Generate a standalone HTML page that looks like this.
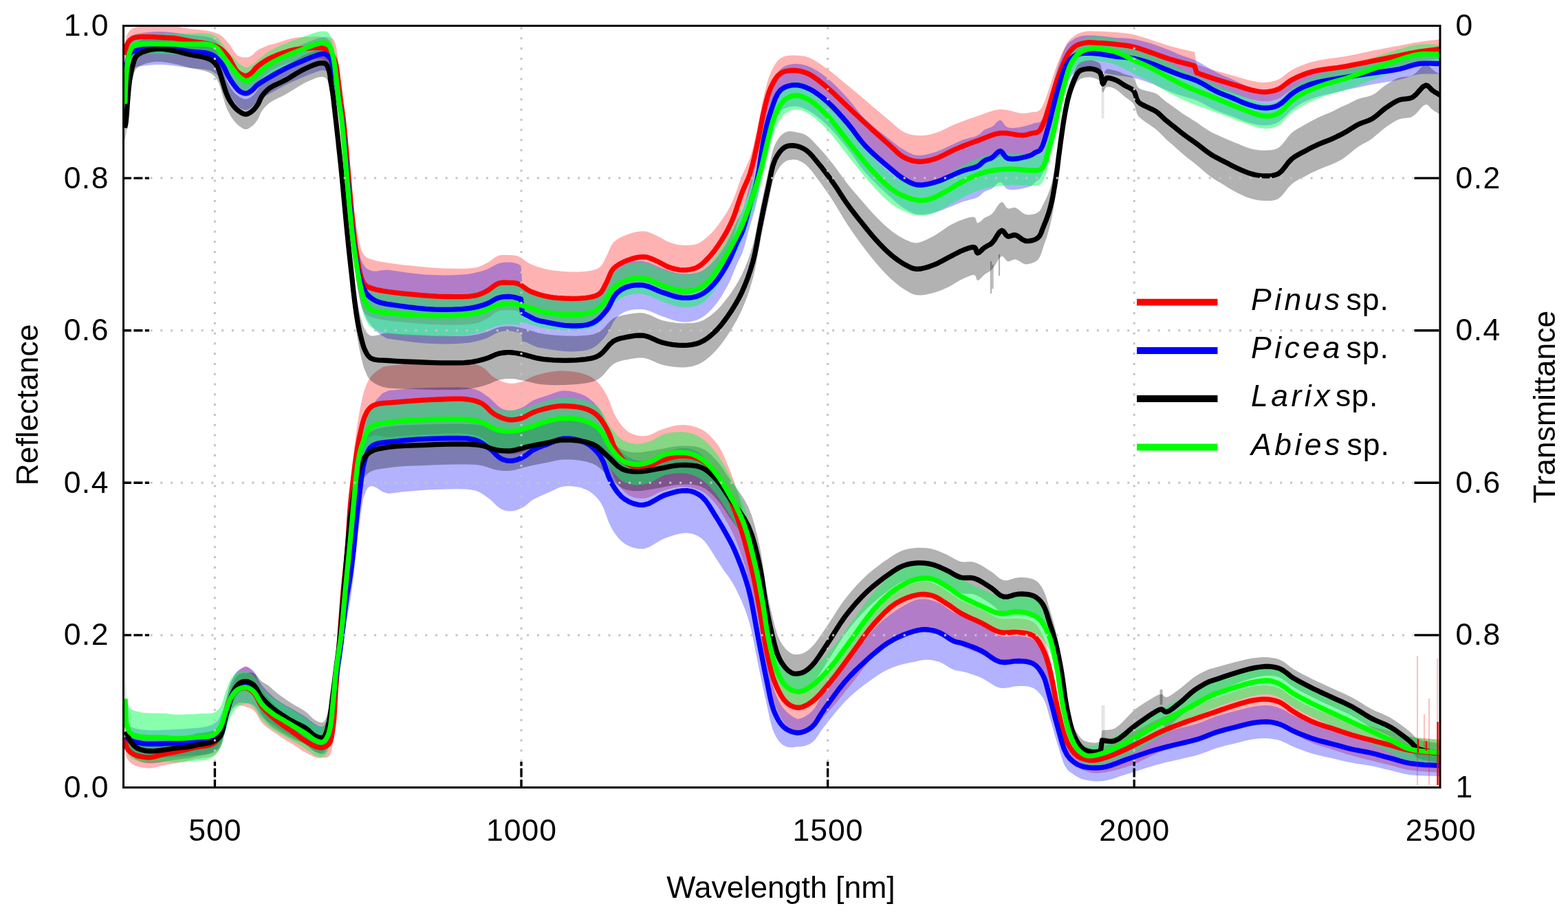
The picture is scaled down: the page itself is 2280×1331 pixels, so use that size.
<!DOCTYPE html><html><head><meta charset="utf-8"><title>Spectra</title><style>html,body{margin:0;padding:0;background:#fff;width:2280px;height:1331px;overflow:hidden}svg{display:block}</style></head><body><svg width="2280" height="1331" viewBox="0 0 2280 1331"><rect x="0" y="0" width="2280" height="1331" fill="#fff"/><defs><clipPath id="pc"><rect x="179.5" y="37.5" width="1914.5" height="1108.0"/></clipPath></defs><g clip-path="url(#pc)"><polygon points="181.5,65.9 182.2,62.2 182.8,58.4 183.5,54.7 184.5,51.5 185.3,49.5 186.2,47.7 187.3,46.1 188.5,44.7 189.9,43.3 191.4,42.2 193.2,41.2 195.3,40.3 199.5,39.3 204.5,38.7 210.0,38.4 215.5,38.2 222.3,38.0 229.5,38.1 236.5,38.3 242.6,38.4 245.7,38.4 248.4,38.4 251.0,38.4 254.0,38.5 259.0,39.1 264.6,40.0 270.3,41.0 276.0,41.9 281.7,42.5 287.4,43.1 293.0,43.6 298.0,44.3 301.3,44.8 304.3,45.3 307.1,45.9 310.0,46.7 313.0,47.7 315.9,48.8 318.8,50.1 321.5,51.8 324.6,54.4 327.5,57.5 330.3,60.7 332.7,63.3 334.3,65.4 335.7,67.6 337.0,69.7 338.4,71.8 339.8,73.8 341.1,75.9 342.5,77.8 344.0,79.4 345.3,80.4 346.7,81.3 348.1,81.9 349.7,82.5 351.5,83.0 353.5,83.5 355.5,83.6 357.5,83.5 359.8,83.4 362.2,82.7 364.5,81.6 366.5,80.4 368.0,79.2 369.3,77.7 370.6,76.2 372.2,74.8 375.0,72.9 378.2,71.1 381.6,69.4 385.0,67.9 388.1,66.7 391.1,65.6 394.3,64.7 398.0,63.9 404.3,61.9 411.4,59.4 418.8,57.2 426.0,55.4 432.2,54.5 438.4,53.9 444.4,53.6 450.0,53.4 454.3,53.2 458.4,53.0 462.3,53.1 465.8,53.4 468.1,53.8 470.2,54.3 472.2,53.8 474.0,53.5 475.7,53.5 477.2,53.8 478.6,54.2 480.0,54.7 481.2,55.0 482.4,55.4 483.5,56.0 484.5,56.8 485.7,58.5 486.7,60.7 487.6,63.4 488.5,66.3 489.6,71.1 490.4,76.8 491.2,82.9 492.0,89.0 492.8,95.4 493.6,102.1 494.4,108.7 495.3,115.0 496.1,120.3 497.0,125.4 497.9,130.4 498.7,135.4 499.3,139.8 499.8,143.8 500.3,148.6 501.0,154.8 503.6,182.7 507.0,221.7 510.5,261.6 513.5,291.9 514.6,301.2 515.5,308.9 516.4,315.8 517.5,322.9 518.6,330.4 519.9,338.0 521.1,345.3 522.5,351.8 523.5,356.0 524.5,360.0 525.7,363.6 527.0,366.7 528.1,368.7 529.2,370.4 530.5,372.0 532.0,373.5 533.5,374.6 535.2,375.5 537.1,376.2 539.2,377.0 542.7,378.1 546.6,379.2 551.1,380.2 556.0,381.1 565.1,382.6 575.7,384.0 587.0,385.4 598.3,386.6 610.8,387.8 623.6,389.0 636.5,389.9 649.0,390.4 660.3,390.7 671.6,390.8 682.2,390.4 691.3,389.2 696.1,388.0 700.3,386.4 704.2,384.6 708.2,382.6 712.4,379.9 716.6,376.8 720.7,373.8 725.0,371.8 729.2,370.9 733.6,370.7 737.9,370.9 742.0,371.1 745.1,371.3 748.0,371.5 750.8,372.0 753.8,372.9 757.8,375.0 761.8,377.8 766.0,380.9 770.3,383.4 775.0,385.5 779.9,387.4 784.9,389.0 790.0,390.4 795.0,391.7 799.9,392.7 805.1,393.5 810.8,394.1 820.3,394.9 831.2,395.4 842.0,395.4 851.4,394.7 857.2,393.9 862.6,392.9 867.5,391.4 871.7,389.0 874.9,385.7 877.4,381.7 879.5,377.3 881.8,372.8 884.2,367.8 886.4,362.4 888.8,357.2 892.0,352.7 896.3,348.9 901.3,345.8 906.8,343.2 912.3,340.9 918.2,339.0 924.6,337.4 930.8,336.5 936.6,336.3 940.9,337.0 944.8,338.3 948.7,340.0 952.8,341.8 957.7,344.2 962.8,347.1 967.9,349.9 973.1,352.3 978.1,354.0 983.2,355.4 988.3,356.3 993.4,356.8 998.5,356.7 1003.7,356.6 1008.8,356.0 1013.7,354.7 1019.1,352.1 1024.3,348.3 1029.2,344.0 1034.0,339.4 1038.9,334.1 1043.5,328.3 1047.9,322.3 1052.0,316.3 1055.6,310.7 1058.8,305.2 1061.9,299.4 1065.0,293.1 1068.7,284.2 1072.1,274.3 1075.6,264.3 1079.0,255.1 1082.0,248.4 1084.9,242.4 1087.9,236.2 1090.6,229.2 1094.0,218.0 1097.1,205.4 1100.0,192.5 1102.7,179.8 1104.8,169.3 1106.7,159.0 1108.6,149.1 1110.8,139.3 1113.0,130.2 1115.3,121.2 1117.9,112.6 1121.0,104.8 1124.0,98.8 1127.3,93.1 1130.9,88.2 1135.2,84.5 1139.8,82.3 1144.9,81.1 1150.3,80.5 1155.5,80.5 1160.5,80.8 1165.6,81.2 1170.6,82.1 1175.7,83.6 1182.2,86.5 1188.8,90.4 1195.4,94.9 1202.1,99.7 1209.7,105.3 1217.3,111.6 1224.9,118.0 1232.5,124.3 1240.1,130.5 1247.7,136.7 1255.4,143.2 1263.0,149.8 1270.7,156.4 1278.6,163.0 1286.2,169.5 1293.4,175.4 1298.7,180.0 1303.6,184.5 1308.5,188.5 1313.7,191.7 1318.6,193.9 1323.6,195.5 1328.7,196.6 1334.0,197.0 1339.8,197.2 1345.9,196.7 1352.0,195.7 1358.3,194.1 1366.0,191.4 1373.8,187.8 1381.8,183.8 1389.8,180.2 1397.7,177.2 1405.7,174.3 1413.7,171.5 1421.8,168.8 1429.9,165.8 1438.1,162.7 1446.3,160.2 1454.5,159.0 1463.0,159.8 1471.8,161.8 1480.1,163.9 1487.2,165.0 1490.9,164.8 1494.1,164.4 1497.1,163.7 1500.0,163.2 1502.7,162.9 1505.3,162.8 1507.8,162.4 1510.0,161.5 1512.1,160.0 1513.8,157.7 1515.4,155.0 1517.0,152.0 1519.2,147.1 1521.3,141.3 1523.4,135.2 1525.5,128.9 1527.8,121.9 1530.1,114.6 1532.5,107.2 1535.0,100.0 1537.8,92.6 1540.8,85.1 1543.8,78.0 1546.8,71.8 1548.8,67.9 1550.7,64.3 1552.7,61.2 1555.0,58.4 1557.2,56.2 1559.6,54.3 1562.2,52.2 1565.0,50.2 1568.4,48.5 1572.2,47.2 1576.1,46.2 1580.0,45.6 1583.8,45.2 1587.6,45.2 1591.6,45.4 1595.8,45.6 1601.9,45.8 1608.5,46.0 1615.4,46.4 1622.1,46.9 1628.7,47.5 1635.3,48.2 1641.9,49.1 1648.4,50.3 1655.0,52.0 1661.6,54.0 1668.1,56.1 1674.7,58.2 1681.2,60.4 1687.6,62.6 1694.2,64.8 1701.1,66.9 1709.7,69.2 1718.7,71.4 1727.9,73.6 1737.0,75.8 1740.0,93.8 1746.7,96.0 1753.4,98.2 1760.1,100.4 1766.8,102.5 1773.4,104.5 1780.0,106.3 1786.6,108.2 1793.2,110.0 1800.0,112.0 1806.9,114.1 1813.6,116.0 1820.0,117.5 1824.9,118.6 1829.7,119.4 1834.3,119.9 1839.0,120.0 1843.9,119.6 1848.9,118.8 1853.8,117.5 1858.6,115.7 1863.5,112.9 1868.1,109.3 1872.9,105.4 1878.1,102.0 1884.7,98.6 1891.8,95.5 1899.3,92.7 1907.4,90.1 1918.8,87.6 1931.4,85.6 1944.2,83.8 1956.3,81.9 1966.4,79.9 1976.1,77.9 1985.7,75.9 1995.3,73.8 2005.2,71.9 2015.2,70.0 2025.0,68.1 2034.4,66.4 2042.0,64.9 2049.2,63.4 2056.4,62.1 2063.7,60.9 2071.7,59.8 2079.7,58.8 2087.9,57.9 2096.0,57.0 2096.0,85.0 2087.9,86.1 2079.7,87.2 2071.7,88.3 2063.7,89.5 2056.4,90.9 2049.2,92.4 2042.0,94.0 2034.4,95.6 2025.0,97.6 2015.2,99.7 2005.2,101.8 1995.3,103.8 1985.7,105.7 1976.1,107.6 1966.4,109.5 1956.3,111.3 1944.2,113.1 1931.4,114.7 1918.8,116.5 1907.4,118.9 1899.3,121.3 1891.8,124.1 1884.7,127.1 1878.1,130.4 1872.9,133.8 1868.1,137.5 1863.5,141.1 1858.6,143.9 1853.8,145.6 1848.9,146.7 1843.9,147.4 1839.0,147.6 1834.3,147.4 1829.7,146.7 1824.9,145.6 1820.0,144.5 1813.6,142.7 1806.9,140.5 1800.0,138.2 1793.2,136.0 1786.6,133.9 1780.0,131.8 1773.4,129.7 1766.8,127.5 1760.1,125.1 1753.4,122.7 1746.7,120.2 1740.0,117.8 1737.0,115.8 1727.9,113.2 1718.7,110.6 1709.7,108.0 1701.1,105.3 1694.2,102.8 1687.6,100.3 1681.2,97.8 1674.7,95.4 1668.1,92.9 1661.6,90.5 1655.0,88.2 1648.4,86.3 1641.9,84.8 1635.3,83.6 1628.7,82.6 1622.1,81.7 1615.4,80.9 1608.5,80.2 1601.9,79.6 1595.8,79.2 1591.6,78.8 1587.6,78.5 1583.8,78.3 1580.0,78.4 1576.1,79.0 1572.2,79.8 1568.4,80.9 1565.0,82.4 1562.2,84.3 1559.6,86.6 1557.2,89.8 1555.0,93.2 1552.7,97.3 1550.7,101.5 1548.8,106.2 1546.8,111.2 1543.8,119.1 1540.8,127.9 1537.8,137.0 1535.0,146.0 1532.5,154.7 1530.1,163.4 1527.8,172.0 1525.5,180.3 1523.4,187.7 1521.3,195.0 1519.2,201.9 1517.0,208.0 1515.4,212.0 1513.8,215.6 1512.1,218.8 1510.0,221.5 1507.8,222.8 1505.3,223.6 1502.7,224.1 1500.0,224.8 1497.1,225.9 1494.1,227.0 1490.9,228.0 1487.2,228.8 1480.1,228.9 1471.8,228.2 1463.0,227.6 1454.5,228.2 1446.3,230.4 1438.1,233.4 1429.9,236.9 1421.8,240.2 1413.7,243.4 1405.7,246.6 1397.7,249.9 1389.8,253.4 1381.8,257.3 1373.8,261.7 1366.0,265.7 1358.3,268.9 1352.0,270.7 1345.9,272.1 1339.8,272.9 1334.0,273.0 1328.7,271.9 1323.6,270.3 1318.6,268.0 1313.7,265.3 1308.5,261.5 1303.6,256.9 1298.7,251.8 1293.4,246.6 1286.2,239.8 1278.6,232.4 1270.7,224.9 1263.0,217.4 1255.4,209.9 1247.7,202.2 1240.1,194.1 1232.5,186.1 1224.9,177.9 1217.3,169.6 1209.7,161.5 1202.1,153.9 1195.4,147.6 1188.8,141.4 1182.2,135.9 1175.7,131.4 1170.6,128.7 1165.6,126.5 1160.5,125.0 1155.5,124.5 1150.3,124.5 1144.9,125.1 1139.8,126.3 1135.2,128.5 1130.9,132.2 1127.3,137.1 1124.0,142.8 1121.0,148.8 1117.9,156.6 1115.3,165.2 1113.0,174.2 1110.8,183.3 1108.6,193.1 1106.7,203.0 1104.8,213.3 1102.7,223.8 1100.0,236.5 1097.1,250.2 1094.0,263.7 1090.6,275.8 1087.9,283.6 1084.9,290.6 1082.0,297.5 1079.0,304.9 1075.6,315.1 1072.1,326.1 1068.7,336.9 1065.0,346.9 1061.9,354.1 1058.8,360.7 1055.6,367.2 1052.0,373.7 1047.9,380.9 1043.5,388.1 1038.9,395.2 1034.0,401.8 1029.2,407.8 1024.3,413.5 1019.1,418.7 1013.7,422.9 1008.8,425.6 1003.7,427.5 998.5,428.7 993.4,429.0 988.3,428.8 983.2,428.0 978.1,426.8 973.1,425.3 967.9,423.2 962.8,420.6 957.7,417.9 952.8,415.6 948.7,414.0 944.8,412.5 940.9,411.4 936.6,410.9 930.8,411.2 924.6,412.4 918.2,414.3 912.3,416.5 906.8,418.9 901.3,421.7 896.3,425.1 892.0,428.9 888.8,433.5 886.4,438.8 884.2,444.2 881.8,449.4 879.5,453.9 877.4,458.4 874.9,462.5 871.7,465.8 867.5,468.3 862.6,470.0 857.2,471.1 851.4,472.1 842.0,473.0 831.2,473.3 820.3,473.2 810.8,472.7 805.1,472.2 799.9,471.5 795.0,470.7 790.0,469.6 784.9,468.3 779.9,466.8 775.0,465.1 770.3,463.2 766.0,460.7 761.8,457.8 757.8,455.0 753.8,453.1 750.8,452.2 748.0,451.8 745.1,451.6 742.0,451.5 737.9,451.3 733.6,451.2 729.2,451.5 725.0,452.5 720.7,454.6 716.6,457.6 712.4,460.9 708.2,463.6 704.2,465.7 700.3,467.6 696.1,469.2 691.3,470.6 682.2,471.9 671.6,472.5 660.3,472.7 649.0,472.6 636.5,472.3 623.6,471.7 610.8,470.8 598.3,469.8 587.0,468.8 575.7,467.7 565.1,466.5 556.0,465.1 551.1,464.2 546.6,463.2 542.7,462.1 539.2,461.0 537.1,460.2 535.2,459.5 533.5,458.6 532.0,457.5 530.5,456.0 529.2,454.0 528.1,451.8 527.0,449.3 525.7,445.6 524.5,441.5 523.5,437.0 522.5,432.2 521.1,425.1 519.9,417.3 518.6,409.1 517.5,401.1 516.4,393.4 515.5,386.1 514.6,378.0 513.5,368.1 510.5,336.5 507.0,295.0 503.6,254.3 501.0,225.2 500.3,218.7 499.8,213.6 499.3,208.9 498.7,203.8 497.9,197.8 497.0,191.6 496.1,185.4 495.3,179.0 494.4,171.6 493.6,164.0 492.8,156.3 492.0,148.8 491.2,141.8 490.4,134.7 489.6,127.9 488.5,121.7 487.6,117.7 486.7,113.9 485.7,110.4 484.5,107.2 483.5,105.1 482.4,103.1 481.2,101.3 480.0,99.3 478.6,97.1 477.2,94.9 475.7,92.6 474.0,90.5 472.2,88.5 470.2,86.6 468.1,85.9 465.8,85.6 462.3,85.5 458.4,85.7 454.3,86.1 450.0,86.6 444.4,87.1 438.4,87.8 432.2,88.7 426.0,90.0 418.8,92.1 411.4,94.7 404.3,97.6 398.0,100.7 394.3,103.1 391.1,105.4 388.1,107.7 385.0,110.1 381.6,113.1 378.2,116.2 375.0,119.4 372.2,122.4 370.6,124.5 369.3,126.6 368.0,128.5 366.5,130.4 364.5,132.5 362.2,134.5 359.8,136.2 357.5,137.3 355.5,136.8 353.5,135.7 351.5,134.2 349.7,132.7 348.1,131.3 346.7,129.9 345.3,128.4 344.0,126.6 342.5,124.3 341.1,121.7 339.8,118.9 338.4,116.2 337.0,113.4 335.7,110.5 334.3,107.7 332.7,104.7 330.3,100.8 327.5,97.3 324.6,94.0 321.5,91.2 318.8,89.2 315.9,87.7 313.0,86.3 310.0,85.1 307.1,84.1 304.3,83.2 301.3,82.5 298.0,81.7 293.0,80.7 287.4,79.7 281.7,78.6 276.0,77.5 270.3,76.2 264.6,74.8 259.0,73.5 254.0,72.5 251.0,72.1 248.4,71.8 245.7,71.6 242.6,71.4 236.5,70.8 229.5,70.1 222.3,69.4 215.5,69.0 210.0,68.8 204.5,68.7 199.5,68.8 195.3,69.5 193.2,70.2 191.4,71.1 189.9,72.1 188.5,73.3 187.3,74.7 186.2,76.2 185.3,78.0 184.5,79.9 183.5,83.0 182.8,86.6 182.2,90.4 181.5,94.1" fill="rgba(255,0,0,0.3)"/><polygon points="182.1,1057.0 182.5,1061.0 182.8,1065.1 183.3,1069.1 184.5,1072.6 186.2,1075.4 188.4,1077.9 191.0,1080.1 193.9,1081.9 198.6,1083.7 204.1,1085.0 209.7,1085.8 214.4,1086.2 216.6,1086.2 218.5,1086.0 220.3,1085.7 222.4,1085.3 225.9,1084.4 229.7,1083.4 233.8,1082.2 238.1,1081.0 243.7,1079.8 249.7,1078.5 255.8,1077.2 261.8,1075.9 267.6,1074.4 273.4,1072.9 279.2,1071.4 285.0,1069.9 291.3,1068.8 297.8,1067.8 304.0,1066.6 309.2,1064.5 312.6,1062.1 315.4,1059.3 317.8,1056.0 320.0,1052.2 322.3,1046.1 324.0,1038.9 325.4,1031.3 327.0,1024.1 328.6,1017.4 330.1,1010.8 331.8,1003.6 334.0,997.0 336.1,992.0 338.5,987.3 341.1,982.9 344.0,979.0 347.0,975.8 350.3,972.9 353.7,970.6 357.0,969.0 360.1,969.9 363.2,972.4 366.2,975.3 369.0,978.6 372.0,983.6 374.7,989.5 377.3,995.6 380.3,1001.4 383.9,1006.7 387.8,1011.9 391.9,1017.0 396.0,1021.9 399.9,1026.3 403.9,1029.7 407.9,1032.9 411.9,1036.1 415.8,1039.2 419.7,1042.1 423.7,1045.0 427.6,1048.0 431.5,1051.1 435.3,1054.3 439.2,1057.5 443.4,1060.5 448.7,1064.1 454.5,1067.8 460.3,1070.8 465.5,1072.3 469.1,1072.2 472.5,1070.2 475.6,1067.2 478.2,1063.8 480.5,1058.8 482.0,1053.0 483.0,1046.5 484.0,1039.4 485.6,1025.9 486.6,1010.2 487.5,993.7 488.5,977.6 489.6,962.4 490.7,947.3 491.8,931.9 493.0,915.8 494.4,895.8 495.9,874.6 497.4,853.5 499.0,833.4 500.5,817.2 502.1,801.6 503.6,786.4 505.0,771.0 506.1,755.1 507.1,738.9 508.0,723.4 509.0,709.4 509.7,701.1 510.4,693.7 511.1,686.3 512.1,677.6 514.1,659.9 516.6,639.2 519.5,618.2 522.6,599.5 524.9,588.0 527.2,577.1 529.9,567.3 533.1,558.8 535.3,554.3 537.6,550.4 540.3,546.8 543.6,543.2 549.9,538.2 557.5,533.6 566.1,531.9 575.2,531.3 589.7,530.0 606.2,528.9 622.9,528.0 638.3,527.4 649.8,527.0 660.8,526.7 671.1,526.8 680.4,527.6 686.3,528.6 691.7,530.0 696.6,531.7 701.4,534.0 705.8,537.3 709.9,541.3 713.9,545.4 718.3,548.9 723.3,551.7 728.6,554.2 734.0,556.2 739.3,557.4 744.1,557.7 748.9,557.4 753.6,556.6 758.2,555.4 762.5,553.8 766.6,551.7 770.7,549.4 775.1,547.5 780.1,545.8 785.3,544.3 790.7,542.9 796.1,541.8 801.9,540.8 807.7,540.0 813.7,539.5 820.0,539.5 827.9,540.0 836.2,541.1 844.4,542.6 851.6,544.8 856.4,546.8 860.7,549.1 864.6,551.9 868.4,555.1 872.5,559.7 876.3,565.0 879.8,570.8 883.1,576.9 886.4,584.1 889.2,592.0 892.1,599.8 895.7,607.0 899.8,613.3 904.3,619.4 909.3,624.8 914.7,628.9 920.1,631.6 925.9,633.3 931.9,634.2 937.8,634.3 944.0,633.0 950.3,630.4 956.6,627.1 963.1,624.4 970.3,622.2 977.7,620.1 985.2,618.6 992.5,618.1 999.6,618.5 1006.7,619.7 1013.5,621.7 1019.9,624.4 1025.8,628.1 1031.2,632.7 1036.3,637.9 1040.9,643.3 1045.1,649.0 1048.7,655.1 1052.1,662.3 1055.6,670.3 1060.1,680.9 1064.5,692.2 1068.8,704.2 1073.0,716.9 1078.1,734.2 1083.1,753.0 1087.8,772.1 1092.1,790.7 1095.7,807.7 1098.9,824.4 1101.8,840.7 1104.7,856.8 1107.4,873.2 1109.8,889.7 1112.3,906.0 1115.2,921.4 1117.9,934.2 1120.7,946.6 1124.0,958.4 1127.8,969.3 1131.5,977.8 1135.5,986.0 1139.9,993.2 1144.7,999.0 1148.6,1002.2 1152.8,1004.8 1157.2,1006.6 1161.5,1007.3 1166.1,1006.7 1170.9,1005.0 1175.6,1002.5 1180.4,999.4 1187.2,993.7 1194.0,986.6 1200.9,978.6 1207.8,970.5 1215.7,960.8 1223.6,950.4 1231.5,939.7 1239.4,929.2 1247.2,918.6 1254.9,907.9 1262.8,897.4 1270.9,887.8 1278.5,879.7 1286.3,871.9 1294.2,864.9 1302.5,859.1 1310.3,854.9 1318.4,851.4 1326.4,848.9 1334.0,847.1 1339.5,846.4 1344.8,846.3 1350.0,846.7 1355.1,847.8 1360.5,849.8 1365.7,852.6 1370.9,855.8 1376.1,859.0 1381.5,862.5 1386.8,866.2 1392.2,869.9 1398.0,873.4 1404.9,876.8 1412.3,880.1 1419.7,883.2 1427.0,886.5 1433.8,890.1 1440.5,893.9 1447.2,897.2 1454.1,899.6 1460.8,900.3 1467.7,900.0 1474.6,899.5 1481.1,899.6 1486.9,900.3 1492.6,901.2 1498.0,902.6 1502.8,905.0 1506.9,908.6 1510.4,913.2 1513.4,918.8 1516.3,924.7 1519.5,932.2 1522.2,940.4 1524.7,949.2 1527.1,958.5 1529.9,971.4 1532.5,985.5 1535.0,999.9 1537.9,1013.8 1540.9,1027.1 1543.9,1040.5 1547.4,1053.2 1551.5,1064.2 1554.9,1071.0 1558.5,1077.1 1562.5,1082.0 1567.0,1085.5 1571.6,1087.8 1576.8,1089.3 1582.1,1090.0 1587.3,1090.2 1592.3,1089.7 1597.3,1088.4 1602.4,1086.7 1607.6,1084.8 1614.1,1082.2 1620.9,1079.1 1627.8,1075.7 1634.6,1072.2 1641.4,1068.6 1648.2,1064.7 1654.9,1061.1 1661.7,1057.6 1668.4,1054.2 1675.2,1050.7 1681.9,1047.3 1688.7,1044.1 1695.4,1041.2 1702.2,1038.5 1709.0,1035.9 1715.8,1033.3 1722.6,1030.8 1729.3,1028.4 1736.1,1026.1 1742.8,1023.8 1749.2,1021.6 1755.5,1019.5 1761.8,1017.4 1768.2,1015.2 1775.1,1012.8 1782.1,1010.4 1789.2,1008.0 1796.3,1005.8 1803.4,1003.6 1810.6,1001.5 1817.7,999.6 1824.5,998.3 1829.9,997.6 1835.2,997.1 1840.3,997.1 1845.2,997.4 1849.6,998.1 1853.8,999.0 1858.0,1000.4 1862.1,1002.1 1866.7,1004.8 1871.2,1008.2 1875.8,1011.8 1880.8,1015.2 1887.4,1019.1 1894.4,1023.1 1901.7,1026.8 1909.0,1030.2 1916.0,1032.9 1923.0,1035.2 1930.1,1037.4 1937.2,1039.6 1944.2,1042.0 1951.3,1044.4 1958.3,1046.8 1965.4,1049.0 1972.4,1051.0 1979.4,1052.9 1986.5,1054.7 1993.5,1056.5 2000.5,1058.4 2007.6,1060.3 2014.6,1062.1 2021.7,1064.0 2028.6,1066.0 2035.3,1068.0 2042.3,1069.9 2049.9,1071.5 2060.6,1073.0 2072.2,1074.1 2084.2,1075.0 2096.0,1076.0 2096.0,1124.0 2084.2,1123.2 2072.2,1122.5 2060.6,1121.6 2049.9,1120.2 2042.3,1118.7 2035.3,1117.0 2028.6,1115.1 2021.7,1113.2 2014.6,1111.4 2007.6,1109.7 2000.5,1107.9 1993.5,1106.2 1986.5,1104.4 1979.4,1102.8 1972.4,1101.0 1965.4,1099.1 1958.3,1097.0 1951.3,1094.8 1944.2,1092.5 1937.2,1090.2 1930.1,1088.1 1923.0,1086.0 1916.0,1083.8 1909.0,1081.2 1901.7,1078.0 1894.4,1074.3 1887.4,1070.5 1880.8,1066.7 1875.8,1063.3 1871.2,1059.8 1866.7,1056.5 1862.1,1053.9 1858.0,1052.2 1853.8,1051.0 1849.6,1050.0 1845.2,1049.3 1840.3,1048.9 1835.2,1048.9 1829.9,1049.2 1824.5,1049.8 1817.7,1051.0 1810.6,1052.7 1803.4,1054.7 1796.3,1056.7 1789.2,1058.8 1782.1,1061.1 1775.1,1063.3 1768.2,1065.6 1761.8,1067.6 1755.5,1069.6 1749.2,1071.6 1742.8,1073.7 1736.1,1075.8 1729.3,1078.0 1722.6,1080.3 1715.8,1082.6 1709.0,1085.0 1702.2,1087.5 1695.4,1090.1 1688.7,1092.9 1681.9,1095.9 1675.2,1099.2 1668.4,1102.5 1661.7,1105.8 1654.9,1109.2 1648.2,1112.3 1641.4,1114.6 1634.6,1116.8 1627.8,1118.8 1620.9,1120.6 1614.1,1122.2 1607.6,1123.4 1602.4,1124.1 1597.3,1124.7 1592.3,1124.8 1587.3,1124.2 1582.1,1122.9 1576.8,1121.0 1571.6,1118.4 1567.0,1115.1 1562.5,1110.5 1558.5,1106.1 1554.9,1102.5 1551.5,1098.0 1547.4,1089.8 1543.9,1079.5 1540.9,1068.1 1537.9,1056.9 1535.0,1044.9 1532.5,1032.2 1529.9,1019.8 1527.1,1008.8 1524.7,1001.2 1522.2,994.1 1519.5,987.8 1516.3,982.4 1513.4,978.4 1510.4,975.0 1506.9,970.8 1502.8,967.4 1498.0,965.2 1492.6,964.0 1486.9,963.4 1481.1,963.0 1474.6,963.2 1467.7,964.1 1460.8,964.8 1454.1,964.4 1447.2,962.3 1440.5,959.1 1433.8,955.5 1427.0,952.1 1419.7,949.0 1412.3,946.0 1404.9,943.0 1398.0,939.7 1392.2,936.3 1386.8,932.8 1381.5,929.2 1376.1,925.9 1370.9,922.8 1365.7,919.7 1360.5,917.0 1355.1,915.2 1350.0,914.2 1344.8,913.9 1339.5,914.1 1334.0,915.0 1326.4,916.7 1318.4,919.0 1310.3,922.2 1302.5,926.1 1294.2,931.6 1286.3,938.3 1278.5,945.7 1270.9,953.6 1262.8,962.9 1254.9,973.0 1247.2,983.3 1239.4,993.2 1231.5,1003.1 1223.6,1013.0 1215.7,1022.7 1207.8,1031.7 1200.9,1039.3 1194.0,1046.6 1187.2,1053.2 1180.4,1058.2 1175.6,1060.9 1170.9,1063.0 1166.1,1064.2 1161.5,1064.5 1157.2,1063.7 1152.8,1062.2 1148.6,1059.8 1144.7,1056.7 1139.9,1051.2 1135.5,1044.2 1131.5,1036.2 1127.8,1027.9 1124.0,1017.2 1120.7,1005.6 1117.9,993.3 1115.2,980.7 1112.3,965.4 1109.8,949.3 1107.4,932.8 1104.7,916.6 1101.8,900.6 1098.9,885.1 1095.7,870.3 1092.1,855.5 1087.8,839.4 1083.1,823.1 1078.1,807.4 1073.0,793.1 1068.8,782.9 1064.5,773.5 1060.1,764.9 1055.6,756.9 1052.1,751.0 1048.7,745.1 1045.1,739.0 1040.9,733.3 1036.3,727.9 1031.2,722.7 1025.8,718.1 1019.9,714.4 1013.5,711.7 1006.7,709.7 999.6,708.5 992.5,708.1 985.2,708.6 977.7,710.1 970.3,712.2 963.1,714.4 956.6,717.1 950.3,720.4 944.0,723.3 937.8,724.9 931.9,725.1 925.9,724.5 920.1,723.1 914.7,720.7 909.3,716.8 904.3,711.7 899.8,705.8 895.7,699.7 892.1,692.7 889.2,685.0 886.4,677.3 883.1,670.2 879.8,664.3 876.3,658.7 872.5,653.6 868.4,649.2 864.6,646.1 860.7,643.6 856.4,641.5 851.6,639.7 844.4,638.1 836.2,637.3 827.9,637.0 820.0,637.2 813.7,637.8 807.7,638.8 801.9,640.1 796.1,641.6 790.7,643.2 785.3,645.0 780.1,647.0 775.1,649.2 770.7,651.5 766.6,654.1 762.5,656.5 758.2,658.4 753.6,659.6 748.9,660.4 744.1,660.8 739.3,660.5 734.0,659.3 728.6,657.4 723.3,654.9 718.3,652.1 713.9,648.7 709.9,644.6 705.8,640.6 701.4,637.3 696.6,635.0 691.7,633.3 686.3,632.0 680.4,631.0 671.1,630.2 660.8,630.2 649.8,630.5 638.3,631.0 622.9,631.7 606.2,632.7 589.7,633.9 575.2,635.2 566.1,635.9 557.5,635.5 549.9,633.6 543.6,633.2 540.3,634.0 537.6,635.3 535.3,637.3 533.1,639.9 529.9,645.7 527.2,653.3 524.9,662.1 522.6,671.7 519.5,687.7 516.6,706.5 514.1,725.2 512.1,741.2 511.1,749.2 510.4,756.0 509.7,762.8 509.0,770.6 508.0,783.8 507.1,798.6 506.1,814.0 505.0,829.0 503.6,843.3 502.1,857.3 500.5,871.6 499.0,886.6 497.4,905.4 495.9,925.3 494.4,945.3 493.0,964.2 491.8,979.3 490.7,993.8 489.6,1008.0 488.5,1022.4 487.5,1037.7 486.6,1053.5 485.6,1068.3 484.0,1080.6 483.0,1086.9 482.0,1092.6 480.5,1097.2 478.2,1100.4 475.6,1101.7 472.5,1102.2 469.1,1102.3 465.5,1102.9 460.3,1102.2 454.5,1100.0 448.7,1097.1 443.4,1094.3 439.2,1091.9 435.3,1089.3 431.5,1086.6 427.6,1084.0 423.7,1081.6 419.7,1079.3 415.8,1076.9 411.9,1074.5 407.9,1071.8 403.9,1069.1 399.9,1066.3 396.0,1063.8 391.9,1060.8 387.8,1057.7 383.9,1054.4 380.3,1050.8 377.3,1046.4 374.7,1041.6 372.0,1036.9 369.0,1033.4 366.2,1031.4 363.2,1029.9 360.1,1028.9 357.0,1028.1 353.7,1026.9 350.3,1026.4 347.0,1026.4 344.0,1027.0 341.1,1028.4 338.5,1030.5 336.1,1033.3 334.0,1036.4 331.8,1041.2 330.1,1046.8 328.6,1053.4 327.0,1059.9 325.4,1067.1 324.0,1074.6 322.3,1081.8 320.0,1087.8 317.8,1091.5 315.4,1094.7 312.6,1097.4 309.2,1099.7 304.0,1101.6 297.8,1102.6 291.3,1103.2 285.0,1104.1 279.2,1105.3 273.4,1106.6 267.6,1107.9 261.8,1109.1 255.8,1110.2 249.7,1111.3 243.7,1112.3 238.1,1113.4 233.8,1114.3 229.7,1115.3 225.9,1116.3 222.4,1116.9 220.3,1117.3 218.5,1117.5 216.6,1117.7 214.4,1117.6 209.7,1117.0 204.1,1116.0 198.6,1114.5 193.9,1112.5 191.0,1110.5 188.4,1108.2 186.2,1105.6 184.5,1102.8 183.3,1099.2 182.8,1095.3 182.5,1091.1 182.1,1087.0" fill="rgba(255,0,0,0.3)"/><polygon points="182.5,86.0 183.3,79.7 184.0,73.2 184.9,67.2 186.0,62.0 186.8,59.3 187.6,56.8 188.7,54.7 190.0,53.0 191.5,51.8 193.2,51.0 195.2,50.4 197.5,49.8 202.2,48.7 208.0,47.7 214.1,47.0 220.0,46.4 225.5,46.1 231.0,46.0 236.6,46.1 242.6,46.4 250.7,47.2 259.3,48.4 268.0,49.7 276.4,50.9 284.0,51.6 291.5,52.2 298.6,52.9 304.6,54.3 307.9,55.6 310.8,57.2 313.3,59.0 315.8,61.0 318.3,63.5 320.6,66.2 322.8,69.2 324.9,72.3 327.0,76.0 328.8,80.1 330.7,84.2 332.7,88.1 334.9,91.7 337.1,95.2 339.5,98.6 341.8,101.6 343.7,103.9 345.5,106.1 347.5,108.0 349.6,109.5 351.8,110.6 354.1,111.4 356.5,111.8 358.7,111.8 360.7,111.2 362.7,110.1 364.6,108.8 366.5,107.3 368.4,105.5 370.2,103.6 372.1,101.5 374.4,99.4 378.3,96.6 382.8,93.8 387.6,90.9 392.5,88.1 397.9,85.0 403.5,81.8 409.3,78.7 415.0,75.7 420.6,73.0 426.3,70.5 431.9,68.0 437.6,65.6 443.4,63.1 449.3,60.6 455.0,58.4 460.1,56.6 463.3,55.6 466.2,54.8 469.0,54.3 471.4,54.3 473.0,54.8 474.4,55.5 475.8,56.5 477.0,57.5 478.1,58.5 479.2,59.5 480.1,60.6 481.0,61.8 481.9,63.8 482.7,66.2 483.3,68.8 484.0,71.4 484.8,74.6 485.5,78.0 486.3,81.4 487.0,85.0 487.8,88.7 488.6,92.4 489.3,96.3 490.1,100.5 491.0,106.1 491.8,112.1 492.6,118.1 493.5,124.0 494.4,129.0 495.3,133.8 496.1,138.6 496.9,143.5 497.5,147.9 498.0,152.2 498.6,156.9 499.2,163.1 501.8,191.2 505.2,230.5 508.8,270.7 511.7,301.2 512.8,310.7 513.7,318.4 514.7,325.4 515.7,332.6 516.8,340.2 518.0,347.9 519.2,355.2 520.5,361.8 521.6,366.2 522.7,370.3 523.8,374.1 525.0,377.5 525.9,379.8 526.9,381.8 527.9,383.7 529.0,385.5 530.1,387.1 531.1,388.6 532.4,390.0 534.0,391.2 536.6,392.6 539.8,393.7 543.4,394.4 547.6,394.5 554.7,393.3 563.0,392.4 572.1,393.7 581.4,395.0 593.3,396.7 606.1,398.2 619.2,399.4 632.1,400.1 645.2,400.4 658.6,400.2 671.4,399.6 682.8,398.4 689.9,397.1 696.5,395.6 702.5,393.7 708.2,391.7 712.7,389.6 716.8,387.2 720.8,384.9 725.0,383.2 729.2,382.2 733.5,381.6 737.8,381.4 742.0,381.5 745.9,382.0 749.8,382.9 753.6,384.0 757.5,386.7 759.5,413.3 764.8,417.9 770.1,421.0 775.3,423.8 780.0,426.0 782.7,427.0 785.0,427.7 787.5,428.3 790.6,429.0 799.0,431.0 809.6,433.4 820.8,435.4 831.1,436.5 839.2,436.8 847.1,436.6 854.6,435.7 861.5,433.6 867.3,430.4 872.6,426.1 877.4,421.2 881.8,416.1 885.7,410.2 888.9,403.7 892.2,397.4 896.0,392.3 899.7,389.0 903.6,386.2 907.8,384.0 912.3,382.2 917.9,380.7 924.0,379.9 930.4,379.7 936.6,380.2 943.1,381.9 949.6,384.6 956.2,387.6 963.0,390.3 970.5,392.8 978.2,395.4 986.0,397.4 993.4,398.4 999.8,398.4 1006.0,398.1 1012.0,397.1 1017.7,395.3 1023.2,392.6 1028.3,389.0 1033.2,384.8 1038.0,380.1 1043.5,373.6 1048.8,366.3 1053.8,358.4 1058.3,350.6 1062.2,343.0 1065.7,335.2 1068.9,327.5 1072.0,320.6 1074.2,316.3 1076.2,312.4 1078.1,308.5 1080.0,304.0 1082.6,296.3 1085.1,287.6 1087.5,278.5 1090.0,269.5 1092.7,260.6 1095.5,251.8 1098.2,242.6 1100.7,232.7 1103.4,218.2 1105.8,202.3 1108.2,186.4 1110.8,171.6 1113.1,160.7 1115.4,150.3 1118.0,140.4 1121.0,131.0 1123.9,122.3 1127.0,113.8 1130.7,106.1 1135.2,100.2 1139.7,97.0 1144.8,94.8 1150.2,93.4 1155.5,92.8 1160.5,92.9 1165.5,93.5 1170.6,94.8 1175.7,96.6 1182.2,99.5 1188.8,103.3 1195.5,107.8 1202.1,112.8 1209.8,119.4 1217.6,127.0 1225.2,134.9 1232.5,142.8 1239.0,150.4 1245.0,158.2 1251.2,165.9 1258.0,173.3 1266.5,181.1 1275.7,188.8 1285.0,196.1 1293.4,202.5 1298.8,206.7 1303.8,210.7 1308.6,214.4 1313.7,217.6 1318.6,220.4 1323.5,222.9 1328.6,224.9 1334.0,226.0 1340.3,225.9 1347.0,224.8 1353.7,223.1 1360.0,221.2 1365.2,219.3 1370.2,217.2 1375.1,214.9 1380.0,212.6 1385.1,210.3 1390.1,207.8 1395.2,205.5 1400.3,203.3 1405.7,201.7 1411.3,200.3 1416.7,198.9 1421.4,197.0 1424.4,195.0 1426.9,192.7 1429.3,190.5 1431.9,188.6 1434.5,187.4 1437.1,186.5 1439.8,185.6 1442.4,184.4 1445.5,181.9 1448.5,178.6 1451.6,175.8 1454.5,174.7 1457.1,176.2 1459.4,179.6 1462.0,183.2 1465.4,185.6 1472.7,186.3 1482.0,185.3 1491.1,183.3 1498.0,181.3 1500.2,180.4 1501.9,179.8 1503.4,179.2 1505.0,178.7 1507.0,178.4 1509.0,178.4 1511.0,178.0 1512.9,177.0 1516.1,172.3 1518.9,165.1 1521.5,156.8 1523.9,149.0 1526.1,141.9 1528.0,134.6 1529.8,127.4 1531.8,120.2 1533.8,113.0 1535.9,105.7 1538.0,98.5 1540.4,91.5 1543.0,84.0 1545.8,76.3 1548.9,69.3 1552.3,63.9 1554.8,61.4 1557.4,59.4 1560.1,57.9 1563.0,55.9 1565.8,54.4 1568.6,53.4 1571.7,52.6 1575.0,52.0 1579.7,51.5 1584.9,51.4 1590.3,51.6 1595.8,51.9 1602.2,52.5 1608.8,53.3 1615.5,54.1 1622.1,54.9 1628.7,55.3 1635.3,55.6 1641.9,56.1 1648.4,56.8 1655.2,58.2 1662.2,59.9 1668.8,61.7 1674.7,63.5 1678.2,64.7 1681.3,65.8 1684.4,67.0 1687.9,68.3 1693.8,70.5 1700.5,73.0 1707.4,76.0 1714.2,78.9 1720.8,81.4 1727.4,83.7 1734.0,86.1 1740.5,88.9 1747.1,92.5 1753.7,96.5 1760.2,100.6 1766.8,104.3 1773.4,107.5 1780.1,110.5 1786.8,113.3 1793.2,116.1 1798.8,118.7 1804.1,121.3 1809.5,123.7 1815.0,125.8 1820.9,127.8 1827.0,129.7 1833.1,131.1 1839.0,131.8 1844.1,131.8 1849.0,131.4 1853.8,130.4 1858.6,128.8 1864.4,125.3 1870.2,120.3 1875.9,115.1 1882.0,110.7 1888.0,107.5 1894.1,104.8 1900.5,102.5 1907.4,100.4 1916.4,98.5 1926.1,97.2 1936.2,96.1 1946.5,95.0 1958.4,93.7 1970.9,92.4 1983.3,91.2 1995.3,90.1 2005.5,89.0 2015.5,87.7 2025.1,86.4 2034.4,84.9 2042.0,83.0 2049.2,80.8 2056.3,78.8 2063.7,77.4 2071.6,76.9 2079.7,77.0 2087.9,77.4 2096.0,77.7 2096.0,107.7 2087.9,107.6 2079.7,107.4 2071.6,107.4 2063.7,108.0 2056.3,109.6 2049.2,111.8 2042.0,114.1 2034.4,116.1 2025.1,117.9 2015.5,119.4 2005.5,120.9 1995.3,122.7 1983.3,125.2 1970.9,127.9 1958.4,130.6 1946.5,133.4 1936.2,135.8 1926.1,138.1 1916.4,140.6 1907.4,143.6 1900.5,146.4 1894.1,149.5 1888.0,153.0 1882.0,156.9 1875.9,162.0 1870.2,167.9 1864.4,173.5 1858.6,177.8 1853.8,180.0 1849.0,181.5 1844.1,182.2 1839.0,182.6 1833.1,182.3 1827.0,181.2 1820.9,179.8 1815.0,178.2 1809.5,176.4 1804.1,174.3 1798.8,172.1 1793.2,169.9 1786.8,167.5 1780.1,165.1 1773.4,162.6 1766.8,159.9 1760.2,156.6 1753.7,153.0 1747.1,149.4 1740.5,146.2 1734.0,143.9 1727.4,141.9 1720.8,140.0 1714.2,137.9 1707.4,135.5 1700.5,133.0 1693.8,130.1 1687.9,127.5 1684.4,125.9 1681.3,124.5 1678.2,123.1 1674.7,121.7 1668.8,119.5 1662.2,117.2 1655.2,115.0 1648.4,113.2 1641.9,111.9 1635.3,111.0 1628.7,110.2 1622.1,109.3 1615.5,108.1 1608.8,106.7 1602.2,105.5 1595.8,104.5 1590.3,103.8 1584.9,103.2 1579.7,102.9 1575.0,103.0 1571.7,103.4 1568.6,104.0 1565.8,104.8 1563.0,106.1 1560.1,107.9 1557.4,111.2 1554.8,114.9 1552.3,119.1 1548.9,126.7 1545.8,135.8 1543.0,145.3 1540.4,154.5 1538.0,163.2 1535.9,171.8 1533.8,180.4 1531.8,189.0 1529.8,197.5 1528.0,206.0 1526.1,214.5 1523.9,223.0 1521.5,232.5 1518.9,242.5 1516.1,251.6 1512.9,258.4 1511.0,260.7 1509.0,262.4 1507.0,263.8 1505.0,265.3 1503.4,267.0 1501.9,268.6 1500.2,270.3 1498.0,271.3 1491.1,273.3 1482.0,275.3 1472.7,276.3 1465.4,275.6 1462.0,273.2 1459.4,269.6 1457.1,266.2 1454.5,264.7 1451.6,265.8 1448.5,268.6 1445.5,271.9 1442.4,274.4 1439.8,275.6 1437.1,276.5 1434.5,277.4 1431.9,278.6 1429.3,280.5 1426.9,282.7 1424.4,285.0 1421.4,287.0 1416.7,288.9 1411.3,290.3 1405.7,291.7 1400.3,293.3 1395.2,295.2 1390.1,297.2 1385.1,299.4 1380.0,301.4 1375.1,303.4 1370.2,305.4 1365.2,307.3 1360.0,308.8 1353.7,310.3 1347.0,311.6 1340.3,312.3 1334.0,312.0 1328.6,310.6 1323.5,308.3 1318.6,305.5 1313.7,302.4 1308.6,298.9 1303.8,294.9 1298.8,290.5 1293.4,285.5 1285.0,277.7 1275.7,269.0 1266.5,259.9 1258.0,250.7 1251.2,242.2 1245.0,233.5 1239.0,224.8 1232.5,216.2 1225.2,207.2 1217.6,198.0 1209.8,189.3 1202.1,181.4 1195.5,175.4 1188.8,169.9 1182.2,165.0 1175.7,161.0 1170.6,158.5 1165.5,156.4 1160.5,155.0 1155.5,154.6 1150.2,155.1 1144.8,156.3 1139.7,158.3 1135.2,161.4 1130.7,167.1 1127.0,174.7 1123.9,183.1 1121.0,191.7 1118.0,201.0 1115.4,210.8 1113.1,221.1 1110.8,232.0 1108.2,246.6 1105.8,262.5 1103.4,278.3 1100.7,292.7 1098.2,302.8 1095.5,312.3 1092.7,321.4 1090.0,330.5 1087.5,339.8 1085.1,349.1 1082.6,358.1 1080.0,366.0 1078.1,370.7 1076.2,374.8 1074.2,378.8 1072.0,383.4 1068.9,390.6 1065.7,398.6 1062.2,406.8 1058.3,414.8 1053.8,423.0 1048.8,431.4 1043.5,439.3 1038.0,446.3 1033.2,451.5 1028.3,456.2 1023.2,460.3 1017.7,463.5 1012.0,465.9 1006.0,467.5 999.8,468.4 993.4,468.4 986.0,467.4 978.2,465.4 970.5,462.8 963.0,460.3 956.2,457.6 949.6,454.6 943.1,451.9 936.6,450.2 930.4,449.7 924.0,449.9 917.9,450.7 912.3,452.2 907.8,454.0 903.6,456.2 899.7,459.0 896.0,462.5 892.2,468.0 888.9,474.5 885.7,481.2 881.8,487.3 877.4,492.8 872.6,498.1 867.3,502.7 861.5,506.4 854.6,508.9 847.1,510.4 839.2,511.1 831.1,511.5 820.8,511.1 809.6,509.8 799.0,508.2 790.6,506.8 787.5,506.3 785.0,505.9 782.7,505.4 780.0,504.6 775.3,502.7 770.1,500.3 764.8,497.6 759.5,496.7 757.5,483.3 753.6,484.0 749.8,482.9 745.9,482.0 742.0,481.5 737.8,481.4 733.5,481.6 729.2,482.2 725.0,483.2 720.8,484.9 716.8,487.2 712.7,489.6 708.2,491.7 702.5,493.7 696.5,495.6 689.9,497.1 682.8,498.4 671.4,499.6 658.6,500.2 645.2,500.4 632.1,500.1 619.2,499.4 606.1,498.2 593.3,496.7 581.4,495.0 572.1,493.7 563.0,492.4 554.7,488.0 547.6,482.1 543.4,477.8 539.8,473.5 536.6,469.2 534.0,465.2 532.4,462.4 531.1,459.8 530.1,457.2 529.0,454.5 527.9,451.6 526.9,448.7 525.9,445.7 525.0,442.5 523.8,437.9 522.7,433.0 521.6,427.7 520.5,422.2 519.2,415.0 518.0,407.3 516.8,399.3 515.7,391.4 514.7,383.8 513.7,376.5 512.8,368.5 511.7,358.8 508.8,327.3 505.2,286.1 501.8,245.7 499.2,216.9 498.6,210.5 498.0,205.6 497.5,201.2 496.9,196.5 496.1,191.5 495.3,186.4 494.4,181.3 493.5,176.0 492.6,169.9 491.8,163.6 491.0,157.4 490.1,151.5 489.3,147.1 488.6,143.0 487.8,139.0 487.0,135.1 486.3,131.3 485.5,127.6 484.8,124.0 484.0,120.6 483.3,117.8 482.7,115.0 481.9,112.4 481.0,110.2 480.1,108.7 479.2,107.5 478.1,106.5 477.0,105.5 475.8,104.5 474.4,103.5 473.0,102.8 471.4,102.3 469.0,102.3 466.2,102.8 463.3,103.6 460.1,104.6 455.0,106.4 449.3,108.6 443.4,111.1 437.6,113.6 431.9,116.0 426.3,118.5 420.6,121.0 415.0,123.7 409.3,126.7 403.5,129.8 397.9,133.0 392.5,136.1 387.6,138.9 382.8,141.8 378.3,144.6 374.4,147.4 372.1,149.5 370.2,151.6 368.4,153.5 366.5,155.3 364.6,156.8 362.7,158.1 360.7,159.2 358.7,159.8 356.5,159.8 354.1,159.4 351.8,158.6 349.6,157.5 347.5,156.0 345.5,154.1 343.7,151.9 341.8,149.6 339.5,146.6 337.1,143.2 334.9,139.7 332.7,136.1 330.7,132.2 328.8,128.1 327.0,124.0 324.9,120.3 322.8,117.2 320.6,114.2 318.3,111.5 315.8,109.0 313.3,107.0 310.8,105.2 307.9,103.6 304.6,102.3 298.6,100.9 291.5,100.2 284.0,99.6 276.4,98.9 268.0,97.7 259.3,96.4 250.7,95.2 242.6,94.4 236.6,94.1 231.0,94.0 225.5,94.1 220.0,94.4 214.1,95.0 208.0,95.7 202.2,96.7 197.5,97.8 195.2,98.4 193.2,99.0 191.5,99.8 190.0,101.0 188.7,102.7 187.6,104.8 186.8,107.3 186.0,110.0 184.9,115.2 184.0,121.2 183.3,127.7 182.5,134.0" fill="rgba(0,0,255,0.3)"/><polygon points="183.0,1052.0 184.9,1053.4 186.7,1054.9 188.6,1056.3 190.8,1057.5 194.3,1058.8 198.2,1059.9 202.4,1060.7 206.5,1061.4 210.4,1061.8 214.2,1062.1 218.1,1062.2 222.3,1062.2 227.9,1062.2 233.8,1062.0 240.0,1061.7 246.0,1061.4 251.9,1061.1 257.8,1060.8 263.8,1060.4 270.0,1060.0 277.5,1059.5 285.5,1059.1 293.2,1058.3 300.0,1057.0 304.4,1055.7 308.4,1054.2 311.9,1052.3 315.0,1050.0 317.2,1047.4 319.0,1044.5 320.5,1041.3 322.0,1038.0 323.6,1034.3 325.1,1030.5 326.5,1026.4 328.0,1022.0 329.9,1015.1 331.7,1007.0 333.7,999.0 336.0,991.9 337.9,987.4 340.0,983.2 342.3,979.4 345.0,976.3 348.0,974.0 351.3,972.1 354.7,970.7 358.0,970.0 360.9,970.8 363.7,972.2 366.4,974.0 369.0,976.3 371.9,980.3 374.5,985.4 377.0,990.7 380.0,995.6 383.6,1000.1 387.6,1004.5 391.8,1008.6 396.0,1012.5 399.9,1016.0 403.9,1018.8 407.9,1021.4 412.0,1024.0 416.0,1026.4 420.0,1028.6 424.0,1030.8 428.0,1033.0 431.8,1035.2 435.5,1037.4 439.3,1039.6 443.0,1042.0 447.0,1045.0 451.1,1048.4 455.1,1051.6 459.0,1054.0 461.9,1055.4 464.8,1056.7 467.5,1057.3 470.0,1057.0 472.5,1054.1 474.5,1050.0 476.3,1045.1 478.0,1039.8 480.4,1028.9 482.1,1015.8 483.6,1002.0 485.0,989.0 486.3,978.0 487.6,967.2 488.8,956.7 490.0,947.0 491.0,940.3 491.9,934.2 492.9,927.9 494.0,920.4 496.3,901.8 498.9,878.9 501.6,855.7 504.0,836.4 505.3,827.5 506.6,819.7 507.8,812.3 509.0,804.4 510.4,794.3 511.7,783.7 513.0,772.9 514.2,762.3 515.2,751.9 516.1,741.6 517.0,731.2 518.0,720.8 519.0,710.5 520.1,700.2 521.3,689.2 522.6,677.6 524.2,662.9 526.0,647.1 528.1,631.5 531.0,617.7 533.0,610.1 535.1,603.1 537.8,596.4 541.5,589.5 548.1,580.7 556.2,572.0 565.5,568.0 575.2,567.2 589.7,565.7 605.9,564.6 622.5,563.9 638.3,563.6 652.4,563.4 666.5,563.3 679.7,564.1 690.9,566.2 697.1,568.7 702.4,571.9 707.3,575.4 712.0,579.0 716.4,582.9 720.5,587.1 724.6,591.0 728.8,594.0 732.4,595.5 736.0,596.6 739.7,597.1 743.5,597.2 747.7,596.7 752.0,595.6 756.2,594.0 760.3,592.2 764.1,590.1 767.6,587.5 771.2,584.9 775.1,582.6 780.0,580.5 785.2,578.6 790.6,577.0 796.1,575.3 801.9,573.1 807.7,570.9 813.7,569.0 820.0,568.2 827.8,568.7 836.1,570.4 844.3,572.9 851.6,576.3 857.6,580.3 863.0,585.0 868.0,590.4 872.6,596.5 877.4,605.8 881.2,616.7 885.0,627.7 889.4,637.4 893.6,644.4 898.0,651.0 902.9,656.7 908.4,661.5 914.6,665.3 921.4,668.3 928.6,670.2 935.7,670.8 943.5,668.9 951.3,665.0 959.3,660.6 967.3,657.1 975.3,654.9 983.4,652.9 991.4,651.8 998.8,651.9 1004.5,653.0 1009.9,654.9 1015.0,657.5 1019.9,661.0 1025.7,667.1 1031.1,674.9 1036.2,683.3 1040.9,691.1 1044.7,697.2 1048.3,703.2 1051.7,709.7 1055.0,717.0 1058.3,724.3 1061.5,731.4 1064.7,738.9 1068.0,747.2 1073.0,761.1 1078.3,776.7 1083.3,793.2 1087.9,809.9 1092.2,829.3 1095.8,849.4 1099.2,869.7 1102.6,889.2 1105.8,906.6 1109.0,923.9 1112.1,940.6 1115.2,956.5 1117.6,969.1 1119.9,981.3 1122.5,992.9 1125.7,1003.6 1128.7,1011.3 1132.0,1018.7 1135.7,1025.4 1140.0,1031.3 1144.5,1036.0 1149.6,1040.3 1154.8,1043.7 1160.0,1046.0 1165.1,1044.7 1170.3,1042.4 1175.3,1039.2 1180.0,1035.3 1184.7,1029.9 1188.7,1023.3 1192.7,1016.1 1197.3,1008.5 1204.4,997.6 1212.3,985.7 1220.5,973.5 1228.8,962.2 1236.5,952.7 1244.3,943.7 1252.3,934.9 1260.4,926.2 1268.1,918.1 1276.0,910.1 1283.9,902.6 1292.0,895.8 1299.8,890.0 1307.9,884.7 1315.9,879.9 1323.5,876.0 1329.0,873.4 1334.3,872.1 1339.4,871.6 1344.6,871.6 1349.9,872.1 1355.2,873.3 1360.4,874.9 1365.6,877.0 1371.0,880.1 1376.4,884.0 1381.6,887.8 1386.6,890.8 1390.0,892.2 1393.2,893.1 1396.4,893.9 1400.0,895.1 1406.1,897.5 1413.0,900.4 1420.1,903.7 1427.0,907.3 1433.8,911.8 1440.5,917.0 1447.2,921.8 1454.1,925.1 1460.8,926.1 1467.7,925.7 1474.5,925.0 1481.1,925.1 1486.9,925.7 1492.6,926.6 1498.0,928.0 1502.8,930.2 1506.8,933.4 1510.3,937.5 1513.4,943.0 1516.3,948.9 1519.6,957.7 1522.2,967.4 1524.6,977.6 1527.1,987.8 1529.8,998.6 1532.4,1009.7 1535.0,1020.8 1537.9,1032.0 1540.9,1043.7 1543.9,1055.8 1547.3,1067.3 1551.5,1077.2 1555.1,1083.1 1559.0,1088.3 1563.2,1091.8 1567.7,1094.2 1572.3,1095.8 1577.2,1096.8 1582.3,1097.3 1587.3,1097.6 1592.3,1097.6 1597.3,1097.2 1602.4,1096.5 1607.6,1095.4 1614.1,1093.3 1620.9,1090.6 1627.8,1087.6 1634.6,1084.7 1641.4,1082.0 1648.1,1079.3 1654.9,1076.8 1661.7,1074.5 1668.4,1072.3 1675.2,1070.1 1681.9,1068.0 1688.7,1066.0 1695.5,1064.2 1702.2,1062.4 1709.0,1060.8 1715.8,1059.0 1722.6,1057.4 1729.4,1055.7 1736.1,1053.9 1742.8,1052.0 1749.2,1049.7 1755.5,1047.1 1761.8,1044.5 1768.2,1042.1 1775.1,1040.0 1782.1,1038.0 1789.2,1036.1 1796.3,1034.2 1803.4,1032.3 1810.6,1030.4 1817.7,1028.7 1824.5,1027.5 1829.9,1026.7 1835.2,1026.3 1840.3,1026.1 1845.2,1026.2 1849.6,1026.7 1853.8,1027.7 1857.9,1028.9 1862.1,1030.4 1866.7,1032.6 1871.2,1035.1 1875.8,1037.9 1880.8,1040.5 1887.4,1043.7 1894.5,1046.9 1901.8,1049.9 1909.0,1052.8 1916.0,1055.2 1923.1,1057.3 1930.1,1059.3 1937.2,1061.4 1944.2,1063.6 1951.3,1065.8 1958.3,1067.9 1965.4,1069.9 1972.4,1071.7 1979.4,1073.2 1986.5,1074.8 1993.5,1076.5 2000.6,1078.6 2007.6,1080.7 2014.7,1082.9 2021.7,1085.1 2028.6,1087.3 2035.3,1089.6 2042.3,1091.7 2049.9,1093.6 2060.6,1095.4 2072.2,1096.7 2084.2,1097.8 2096.0,1099.0 2096.0,1129.0 2084.2,1128.7 2072.2,1128.4 2060.6,1128.0 2049.9,1127.0 2042.3,1125.7 2035.3,1124.0 2028.6,1122.2 2021.7,1120.5 2014.7,1118.9 2007.6,1117.2 2000.6,1115.5 1993.5,1114.0 1986.5,1112.8 1979.4,1111.8 1972.4,1110.7 1965.4,1109.5 1958.3,1108.0 1951.3,1106.4 1944.2,1104.7 1937.2,1103.0 1930.1,1101.5 1923.1,1099.9 1916.0,1098.3 1909.0,1096.4 1901.8,1094.2 1894.5,1091.6 1887.4,1088.9 1880.8,1086.3 1875.8,1084.0 1871.2,1081.6 1866.7,1079.4 1862.1,1077.6 1857.9,1076.3 1853.8,1075.4 1849.6,1074.7 1845.2,1074.2 1840.3,1073.9 1835.2,1074.0 1829.9,1074.3 1824.5,1074.9 1817.7,1076.1 1810.6,1077.6 1803.4,1079.4 1796.3,1081.2 1789.2,1082.9 1782.1,1084.6 1775.1,1086.5 1768.2,1088.5 1761.8,1090.7 1755.5,1093.2 1749.2,1095.6 1742.8,1097.8 1736.1,1099.7 1729.4,1101.3 1722.6,1102.8 1715.8,1104.4 1709.0,1105.9 1702.2,1107.5 1695.5,1109.1 1688.7,1110.8 1681.9,1112.6 1675.2,1114.6 1668.4,1116.6 1661.7,1118.7 1654.9,1120.9 1648.1,1123.1 1641.4,1125.2 1634.6,1127.3 1627.8,1129.6 1620.9,1132.0 1614.1,1134.1 1607.6,1135.6 1602.4,1136.3 1597.3,1136.5 1592.3,1136.5 1587.3,1136.0 1582.3,1135.3 1577.2,1134.3 1572.3,1132.9 1567.7,1130.8 1563.2,1128.0 1559.0,1125.0 1555.1,1122.5 1551.5,1119.0 1547.3,1112.0 1543.9,1102.8 1540.9,1092.7 1537.9,1083.0 1535.0,1073.8 1532.4,1064.5 1529.8,1055.2 1527.1,1046.2 1524.6,1037.7 1522.2,1029.1 1519.6,1021.2 1516.3,1014.7 1513.4,1010.7 1510.3,1007.3 1506.8,1003.8 1502.8,1001.0 1498.0,999.2 1492.6,998.3 1486.9,998.0 1481.1,997.9 1474.5,998.6 1467.7,999.9 1460.8,1001.0 1454.1,1000.7 1447.2,998.2 1440.5,994.1 1433.8,989.7 1427.0,985.9 1420.1,983.2 1413.0,980.7 1406.1,978.6 1400.0,976.9 1396.4,976.2 1393.2,975.7 1390.0,975.2 1386.6,974.2 1381.6,971.8 1376.4,968.5 1371.0,965.3 1365.6,962.8 1360.4,961.4 1355.2,960.3 1349.9,959.8 1344.6,959.8 1339.4,960.5 1334.3,961.6 1329.0,963.0 1323.5,963.8 1315.9,965.4 1307.9,967.5 1299.8,970.2 1292.0,973.4 1283.9,977.6 1276.0,982.6 1268.1,988.0 1260.4,993.6 1252.3,999.6 1244.3,1006.1 1236.5,1013.1 1228.8,1020.6 1220.5,1029.7 1212.3,1039.6 1204.4,1049.5 1197.3,1058.5 1192.7,1064.8 1188.7,1071.0 1184.7,1076.5 1180.0,1080.7 1175.3,1083.2 1170.3,1085.1 1165.1,1086.1 1160.0,1086.0 1154.8,1087.1 1149.6,1087.2 1144.5,1086.4 1140.0,1084.7 1135.7,1081.6 1132.0,1077.4 1128.7,1072.2 1125.7,1066.4 1122.5,1057.9 1119.9,1048.1 1117.6,1037.4 1115.2,1026.3 1112.1,1012.5 1109.0,997.9 1105.8,982.8 1102.6,967.4 1099.2,950.3 1095.8,932.8 1092.2,915.5 1087.9,899.5 1083.3,886.5 1078.3,874.1 1073.0,862.7 1068.0,852.8 1064.7,847.1 1061.5,842.1 1058.3,837.6 1055.0,833.0 1051.7,828.4 1048.3,823.3 1044.7,817.6 1040.9,811.7 1036.2,804.2 1031.1,796.2 1025.7,788.7 1019.9,783.0 1015.0,779.8 1009.9,777.5 1004.5,776.0 998.8,775.3 991.4,775.7 983.4,777.4 975.3,779.9 967.3,782.7 959.3,786.6 951.3,791.6 943.5,796.1 935.7,798.4 928.6,798.3 921.4,796.9 914.6,794.3 908.4,790.9 902.9,786.6 898.0,781.2 893.6,775.2 889.4,768.6 885.0,759.4 881.2,748.8 877.4,738.4 872.6,729.7 868.0,724.0 863.0,719.2 857.6,715.1 851.6,711.9 844.3,709.3 836.1,707.7 827.8,707.0 820.0,707.4 813.7,708.9 807.7,711.4 801.9,714.4 796.1,717.1 790.6,719.5 785.2,721.8 780.0,724.2 775.1,726.8 771.2,729.6 767.6,732.7 764.1,735.6 760.3,738.2 756.2,740.1 752.0,741.8 747.7,743.0 743.5,743.6 739.7,743.6 736.0,743.1 732.4,742.1 728.8,740.6 724.6,737.7 720.5,733.9 716.4,729.7 712.0,726.0 707.3,722.5 702.4,719.0 697.1,716.0 690.9,713.6 679.7,711.7 666.5,711.2 652.4,711.5 638.3,712.0 622.5,712.6 605.9,713.7 589.7,715.1 575.2,716.8 565.5,717.9 556.2,715.5 548.1,709.8 541.5,707.1 537.8,707.5 535.1,709.5 533.0,712.8 531.0,716.9 528.1,725.8 526.0,737.5 524.2,750.3 522.6,762.2 521.3,771.4 520.1,780.4 519.0,789.7 518.0,799.2 517.0,808.8 516.1,818.5 515.2,828.1 514.2,837.7 513.0,847.3 511.7,857.1 510.4,866.6 509.0,875.6 507.8,882.6 506.6,889.0 505.3,895.7 504.0,903.6 501.6,921.0 498.9,942.0 496.3,962.8 494.0,979.6 492.9,986.3 491.9,991.8 491.0,997.1 490.0,1003.0 488.8,1011.8 487.6,1021.2 486.3,1031.1 485.0,1041.0 483.6,1052.8 482.1,1065.5 480.4,1077.2 478.0,1086.2 476.3,1090.2 474.5,1093.6 472.5,1096.1 470.0,1097.0 467.5,1097.3 464.8,1096.7 461.9,1095.4 459.0,1094.0 455.1,1091.6 451.1,1088.4 447.0,1085.0 443.0,1082.0 439.3,1079.6 435.5,1077.4 431.8,1075.2 428.0,1073.0 424.0,1070.8 420.0,1068.6 416.0,1066.4 412.0,1064.0 407.9,1061.4 403.9,1058.8 399.9,1056.0 396.0,1053.8 391.8,1051.1 387.6,1048.3 383.6,1045.2 380.0,1041.8 377.0,1037.8 374.5,1033.3 371.9,1029.0 369.0,1025.9 366.4,1024.4 363.7,1023.4 360.9,1022.9 358.0,1023.0 354.7,1022.2 351.3,1022.0 348.0,1022.3 345.0,1023.3 342.3,1025.2 340.0,1027.8 337.9,1031.1 336.0,1034.7 333.7,1040.7 331.7,1047.8 329.9,1055.1 328.0,1062.0 326.5,1066.4 325.1,1070.5 323.6,1074.3 322.0,1078.0 320.5,1081.3 319.0,1084.5 317.2,1087.4 315.0,1090.0 311.9,1092.3 308.4,1094.2 304.4,1095.7 300.0,1097.0 293.2,1098.3 285.5,1099.1 277.5,1099.5 270.0,1100.0 263.8,1100.4 257.8,1100.8 251.9,1101.1 246.0,1101.4 240.0,1101.7 233.8,1102.0 227.9,1102.2 222.3,1102.2 218.1,1102.2 214.2,1102.1 210.4,1101.8 206.5,1101.4 202.4,1100.7 198.2,1099.9 194.3,1098.8 190.8,1097.5 188.6,1096.3 186.7,1094.9 184.9,1093.4 183.0,1092.0" fill="rgba(0,0,255,0.3)"/><polygon points="181.5,168.0 181.9,166.1 182.3,164.3 182.7,162.3 183.1,159.9 183.8,152.9 184.5,144.2 185.1,134.8 185.8,126.0 186.4,119.0 187.0,112.1 187.7,105.4 188.5,99.0 189.4,93.6 190.3,88.4 191.4,83.4 192.6,78.6 193.7,74.5 194.8,70.6 196.1,66.9 198.0,63.8 200.2,61.5 202.8,59.7 205.7,58.2 208.8,56.8 213.3,55.2 218.3,53.9 223.6,53.0 229.0,52.4 235.1,52.5 241.4,53.1 247.7,54.0 253.9,55.0 259.6,56.1 265.2,57.5 270.8,58.9 276.4,60.2 282.2,61.2 288.2,62.1 293.9,63.1 298.9,64.4 302.1,65.5 305.1,66.8 307.8,68.2 310.2,69.9 312.2,71.7 313.9,73.8 315.5,76.1 317.0,78.8 318.9,83.2 320.5,88.3 322.1,93.7 323.7,99.0 325.3,104.2 326.9,109.4 328.6,114.5 330.5,119.2 332.3,122.7 334.2,126.1 336.2,129.2 338.4,132.1 340.5,134.5 342.7,136.7 345.0,138.7 347.4,140.4 349.8,141.8 352.4,143.1 355.0,144.0 357.5,144.2 359.8,143.8 362.1,142.8 364.4,141.4 366.5,139.9 368.7,138.0 370.7,135.9 372.6,133.5 374.4,131.0 376.2,127.9 377.7,124.4 379.3,120.9 381.3,117.6 383.7,114.6 386.3,111.8 389.2,109.1 392.5,106.5 397.5,103.6 403.2,101.0 409.2,98.4 415.0,95.6 420.7,92.4 426.5,88.9 432.2,85.5 437.6,82.5 442.0,80.3 446.4,78.3 450.5,76.5 454.5,74.9 457.5,73.8 460.4,72.8 463.2,72.1 465.8,71.7 467.9,71.7 470.0,71.7 472.0,71.9 473.7,72.6 475.3,74.2 476.6,76.5 477.6,79.2 478.5,82.1 479.4,85.6 480.0,89.5 480.4,93.6 481.0,97.6 481.7,101.6 482.4,105.7 483.1,109.8 483.8,114.1 484.5,119.4 485.2,124.9 485.8,130.6 486.5,136.3 487.2,142.5 487.9,148.6 488.7,155.2 489.5,162.7 491.1,176.6 492.8,192.6 494.7,209.6 496.5,226.8 498.4,246.3 500.3,266.7 502.2,286.9 504.0,305.9 505.5,320.7 506.9,334.7 508.4,348.5 510.0,362.8 511.9,379.6 513.8,397.3 515.9,414.3 518.0,429.4 519.5,438.7 521.1,447.0 522.7,454.5 524.5,461.4 525.9,466.6 527.3,471.4 528.8,475.7 530.7,479.6 532.4,482.4 534.2,485.0 536.4,487.1 539.2,488.4 544.2,488.5 550.3,487.2 557.2,485.1 564.5,484.5 576.2,485.5 589.4,486.3 602.8,487.0 615.2,487.6 624.1,488.0 632.5,488.4 640.7,488.6 649.0,488.8 657.6,488.9 666.2,489.0 674.7,488.8 682.8,488.2 689.6,487.2 696.1,485.9 702.3,484.3 708.2,482.6 712.7,480.9 716.8,479.1 720.8,477.4 725.0,476.0 729.2,475.2 733.5,474.7 737.7,474.5 742.0,474.5 746.1,474.8 750.1,475.4 754.3,476.2 758.9,477.2 765.9,479.1 773.5,481.5 781.7,483.9 790.6,485.8 805.2,487.4 821.8,488.5 838.1,488.7 851.4,488.0 857.4,487.2 862.4,486.2 867.1,484.8 871.7,482.6 876.9,478.4 881.9,472.8 886.8,467.2 892.0,463.0 896.8,460.8 901.8,459.4 907.0,458.3 912.3,457.3 918.2,456.3 924.3,455.5 930.4,455.1 936.6,455.6 943.1,457.4 949.6,460.3 956.2,463.5 963.0,465.9 970.5,467.7 978.2,469.1 986.0,470.0 993.4,470.3 999.8,470.1 1006.0,469.9 1012.0,469.2 1017.7,467.7 1023.1,465.5 1028.2,462.5 1033.2,459.0 1038.0,455.1 1043.3,450.2 1048.5,444.7 1053.4,438.8 1058.3,432.5 1063.7,424.9 1068.9,416.9 1074.0,408.5 1078.6,399.6 1083.2,389.4 1087.5,378.7 1091.3,367.6 1094.8,356.3 1097.8,344.2 1100.3,331.8 1102.5,319.2 1105.0,306.3 1107.9,292.2 1110.9,277.7 1114.0,263.4 1117.0,249.9 1119.3,239.0 1121.4,228.4 1123.8,218.6 1127.0,210.1 1130.1,204.6 1133.5,199.6 1137.3,195.6 1141.3,192.8 1144.7,191.5 1148.2,191.1 1151.9,191.2 1155.5,191.7 1159.5,192.7 1163.6,193.5 1167.7,194.7 1171.7,196.5 1176.4,199.8 1181.0,204.1 1185.5,208.9 1190.0,213.8 1195.3,219.5 1200.5,225.6 1205.8,231.9 1211.0,238.4 1216.3,245.4 1221.5,252.8 1226.7,260.1 1232.0,267.1 1237.2,273.5 1242.5,279.7 1247.8,285.7 1253.1,291.9 1258.3,298.0 1263.5,304.0 1268.8,309.9 1274.1,315.6 1279.3,320.8 1284.5,325.8 1289.8,330.6 1295.2,335.1 1300.4,338.9 1305.7,342.5 1311.0,345.7 1316.2,348.4 1320.4,350.3 1324.4,351.9 1328.5,353.1 1333.0,353.5 1339.0,352.1 1345.5,349.5 1352.1,346.2 1358.3,342.9 1363.8,339.6 1369.0,336.0 1374.1,332.4 1379.3,328.7 1384.6,326.1 1389.9,323.5 1395.2,321.1 1400.3,319.2 1404.9,317.6 1409.6,316.2 1413.9,315.4 1417.2,315.9 1418.6,317.7 1419.5,320.4 1420.2,323.0 1421.4,324.4 1423.6,323.8 1426.2,321.7 1429.1,319.0 1431.9,316.8 1434.5,315.4 1437.1,314.2 1439.8,312.9 1442.4,311.1 1446.1,306.7 1449.7,300.8 1453.3,295.9 1456.7,293.8 1458.9,295.1 1461.0,298.0 1463.1,301.2 1465.4,303.2 1467.9,303.4 1470.6,302.7 1473.4,302.0 1476.3,302.0 1479.9,303.9 1483.7,307.0 1487.5,310.1 1491.5,312.0 1495.9,312.4 1500.7,312.1 1505.2,311.0 1509.0,309.0 1511.9,306.7 1514.0,303.5 1515.8,299.6 1517.7,295.6 1520.2,290.8 1522.6,285.6 1524.9,280.0 1527.0,274.0 1529.2,266.3 1531.1,258.0 1532.8,249.3 1534.5,240.2 1536.2,229.7 1537.8,218.6 1539.2,207.3 1540.8,196.1 1542.4,184.9 1544.1,173.5 1545.8,162.4 1547.6,152.2 1549.1,144.5 1550.7,137.2 1552.3,130.3 1554.2,123.9 1556.1,118.4 1558.2,113.2 1560.3,108.3 1562.5,103.2 1564.0,99.8 1565.5,96.7 1567.1,94.0 1569.0,91.8 1571.0,90.5 1573.2,89.5 1575.6,88.7 1578.0,88.2 1580.7,87.8 1583.6,87.5 1586.4,87.6 1589.2,88.0 1592.0,88.7 1594.9,89.8 1597.6,91.2 1599.7,93.1 1601.3,97.1 1602.1,102.4 1602.7,107.1 1603.7,109.3 1604.7,108.2 1605.8,105.6 1607.2,102.7 1608.9,100.9 1611.7,100.4 1615.1,101.0 1618.7,102.0 1622.1,102.8 1625.5,103.7 1628.8,105.0 1632.0,106.5 1635.3,107.9 1638.7,109.0 1642.3,109.9 1645.6,111.1 1648.4,112.9 1650.4,116.1 1651.7,120.1 1653.0,124.2 1655.0,127.3 1657.8,129.2 1661.2,130.4 1664.7,131.4 1668.2,132.4 1671.5,133.3 1674.8,134.0 1678.1,134.9 1681.3,136.3 1684.7,138.6 1688.0,141.4 1691.2,144.3 1694.5,147.0 1697.8,149.4 1701.0,151.8 1704.3,154.1 1707.6,156.4 1710.8,158.8 1714.0,161.1 1717.3,163.5 1720.8,165.9 1725.3,168.8 1730.1,171.8 1735.1,174.9 1740.0,178.0 1745.0,181.4 1749.9,184.9 1754.9,188.3 1760.0,191.4 1764.9,194.0 1769.9,196.3 1775.0,198.5 1780.0,200.7 1785.0,202.9 1790.0,205.1 1795.0,207.2 1800.0,209.1 1804.9,211.2 1809.7,213.2 1814.6,215.0 1819.5,216.4 1824.3,217.4 1829.2,218.2 1834.1,218.7 1839.0,218.8 1844.0,218.6 1849.0,218.2 1853.9,217.3 1858.6,215.3 1863.7,211.0 1868.5,205.0 1873.1,198.7 1878.1,193.3 1882.8,189.7 1887.7,186.7 1892.7,183.9 1897.7,181.1 1902.5,178.4 1907.4,175.7 1912.3,173.2 1917.2,170.8 1922.1,168.6 1926.9,166.6 1931.8,164.6 1936.7,162.5 1941.6,160.0 1946.5,157.5 1951.4,155.1 1956.3,153.1 1961.2,150.8 1966.0,148.3 1970.9,145.8 1975.8,143.7 1980.7,142.2 1985.6,141.2 1990.5,140.0 1995.3,138.2 2000.3,135.4 2005.1,131.5 2009.9,127.4 2014.8,123.8 2019.6,120.7 2024.5,117.7 2029.4,115.0 2034.4,112.9 2039.2,111.9 2044.2,111.6 2049.2,111.2 2053.9,109.8 2059.1,105.8 2064.2,100.2 2069.0,95.2 2073.4,93.1 2076.0,94.0 2078.4,96.2 2080.7,98.9 2083.2,101.3 2086.2,103.4 2089.5,105.5 2092.7,107.5 2096.0,109.6 2096.0,167.6 2092.7,165.7 2089.5,163.7 2086.2,161.8 2083.2,159.8 2080.7,157.5 2078.4,154.9 2076.0,152.8 2073.4,152.0 2069.0,154.3 2064.2,159.5 2059.1,165.4 2053.9,169.6 2049.2,171.2 2044.2,171.8 2039.2,172.3 2034.4,173.5 2029.4,175.8 2024.5,178.7 2019.6,181.9 2014.8,185.2 2009.9,189.0 2005.1,193.2 2000.3,197.3 1995.3,201.6 1990.5,204.8 1985.6,207.5 1980.7,210.0 1975.8,213.0 1970.9,216.6 1966.0,220.4 1961.2,224.4 1956.3,228.2 1951.4,231.7 1946.5,234.4 1941.6,236.8 1936.7,239.0 1931.8,241.0 1926.9,242.8 1922.1,244.7 1917.2,246.7 1912.3,248.9 1907.4,251.3 1902.5,253.8 1897.7,256.4 1892.7,259.0 1887.7,261.6 1882.8,264.5 1878.1,267.9 1873.1,273.1 1868.5,279.3 1863.7,285.1 1858.6,289.3 1853.9,291.1 1849.0,291.9 1844.0,292.1 1839.0,292.1 1834.1,291.8 1829.2,291.2 1824.3,290.2 1819.5,289.0 1814.6,287.4 1809.7,285.5 1804.9,283.3 1800.0,281.1 1795.0,278.3 1790.0,275.4 1785.0,272.4 1780.0,269.3 1775.0,266.3 1769.9,263.3 1764.9,260.2 1760.0,256.8 1754.9,252.8 1749.9,248.5 1745.0,244.2 1740.0,240.0 1735.1,236.1 1730.1,232.2 1725.3,228.4 1720.8,224.7 1717.3,221.7 1714.0,218.8 1710.8,215.9 1707.6,213.0 1704.3,210.1 1701.0,207.3 1697.8,204.4 1694.5,201.4 1691.2,198.1 1688.0,194.7 1684.7,191.4 1681.3,188.5 1678.1,186.1 1674.8,183.8 1671.5,181.6 1668.2,179.2 1664.7,176.8 1661.2,174.3 1657.8,171.6 1655.0,168.5 1653.0,164.5 1651.7,159.9 1650.4,155.3 1648.4,151.3 1645.6,148.2 1642.3,145.5 1638.7,143.1 1635.3,140.5 1632.0,137.7 1628.8,134.8 1625.5,132.1 1622.1,129.8 1618.7,128.0 1615.1,126.8 1611.7,126.2 1608.9,126.5 1607.2,128.3 1605.8,131.1 1604.7,133.7 1603.7,134.7 1602.7,132.6 1602.1,127.8 1601.3,122.5 1599.7,118.5 1597.6,116.4 1594.9,114.9 1592.0,113.8 1589.2,113.0 1586.4,112.5 1583.6,112.3 1580.7,112.5 1578.0,112.8 1575.6,113.3 1573.2,113.9 1571.0,114.8 1569.0,116.2 1567.1,118.3 1565.5,120.9 1564.0,123.9 1562.5,127.2 1560.3,132.4 1558.2,138.9 1556.1,146.0 1554.2,153.1 1552.3,161.3 1550.7,169.6 1549.1,178.3 1547.6,187.4 1545.8,199.2 1544.1,211.8 1542.4,224.7 1540.8,237.4 1539.2,250.0 1537.8,262.6 1536.2,275.1 1534.5,287.2 1532.8,297.7 1531.1,308.1 1529.2,318.1 1527.0,327.7 1524.9,335.6 1522.6,343.3 1520.2,350.6 1517.7,357.6 1515.8,363.3 1514.0,368.9 1511.9,374.0 1509.0,378.2 1505.2,380.8 1500.7,382.8 1495.9,384.0 1491.5,384.4 1487.5,383.2 1483.7,380.8 1479.9,378.4 1476.3,377.2 1473.4,377.7 1470.6,378.9 1467.9,380.1 1465.4,380.4 1463.1,378.8 1461.0,376.0 1458.9,373.4 1456.7,372.5 1453.3,375.2 1449.7,380.9 1446.1,387.2 1442.4,392.0 1439.8,394.2 1437.1,395.8 1434.5,397.4 1431.9,399.1 1429.1,401.7 1426.2,404.7 1423.6,407.2 1421.4,408.0 1420.2,406.8 1419.5,404.3 1418.6,401.7 1417.2,400.1 1413.9,400.1 1409.6,401.4 1404.9,403.4 1400.3,405.6 1395.2,408.1 1389.9,411.2 1384.6,414.5 1379.3,417.5 1374.1,419.7 1369.0,421.9 1363.8,424.0 1358.3,425.7 1352.1,427.3 1345.5,428.8 1339.0,429.6 1333.0,429.3 1328.5,428.3 1324.4,426.6 1320.4,424.3 1316.2,421.8 1311.0,418.4 1305.7,414.5 1300.4,410.1 1295.2,405.5 1289.8,400.3 1284.5,394.8 1279.3,389.0 1274.1,383.0 1268.8,376.6 1263.5,370.0 1258.3,363.2 1253.1,356.3 1247.8,349.1 1242.5,341.7 1237.2,334.1 1232.0,326.3 1226.7,317.9 1221.5,309.2 1216.3,300.4 1211.0,292.0 1205.8,284.1 1200.5,276.4 1195.3,268.9 1190.0,261.8 1185.5,255.7 1181.0,249.6 1176.4,244.2 1171.7,239.7 1167.7,236.8 1163.6,234.5 1159.5,232.7 1155.5,232.3 1151.9,232.3 1148.2,232.7 1144.7,233.6 1141.3,235.2 1137.3,238.6 1133.5,243.2 1130.1,248.6 1127.0,254.5 1123.8,263.4 1121.4,273.5 1119.3,284.5 1117.0,295.7 1114.0,309.5 1110.9,324.3 1107.9,339.2 1105.0,353.7 1102.5,366.8 1100.3,379.8 1097.8,392.6 1094.8,405.1 1091.3,417.0 1087.5,428.7 1083.2,440.1 1078.6,451.0 1074.0,460.6 1068.9,469.9 1063.7,478.8 1058.3,487.1 1053.4,494.2 1048.5,501.0 1043.3,507.3 1038.0,513.1 1033.2,517.7 1028.2,522.0 1023.1,525.8 1017.7,528.9 1012.0,531.2 1006.0,533.0 999.8,534.1 993.4,534.5 986.0,534.3 978.2,533.5 970.5,532.3 963.0,530.7 956.2,528.3 949.6,525.3 943.1,522.5 936.6,520.8 930.4,520.5 924.3,521.0 918.2,521.9 912.3,523.1 907.0,524.1 901.8,525.3 896.8,527.1 892.0,529.6 886.8,534.2 881.9,540.1 876.9,546.0 871.7,550.6 867.1,553.1 862.4,554.9 857.4,556.3 851.4,557.4 838.1,559.1 821.8,560.0 805.2,560.2 790.6,559.6 781.7,558.4 773.5,556.6 765.9,554.7 758.9,553.2 754.3,552.4 750.1,551.6 746.1,551.1 742.0,550.9 737.7,550.9 733.5,551.3 729.2,551.9 725.0,552.8 720.8,554.2 716.8,556.0 712.7,557.9 708.2,559.6 702.3,561.4 696.1,563.1 689.6,564.6 682.8,565.8 674.7,566.6 666.2,566.9 657.6,567.0 649.0,567.0 640.7,567.0 632.5,566.9 624.1,566.7 615.2,566.4 602.8,566.1 589.4,565.7 576.2,565.2 564.5,564.5 557.2,563.1 550.3,560.4 544.2,557.4 539.2,553.8 536.4,550.5 534.2,546.9 532.4,543.1 530.7,539.0 528.8,533.9 527.3,528.4 525.9,522.7 524.5,516.6 522.7,508.4 521.1,499.8 519.5,490.6 518.0,481.0 515.9,465.3 513.8,447.8 511.9,429.7 510.0,412.4 508.4,397.7 506.9,383.5 505.5,369.2 504.0,354.1 502.2,334.6 500.3,313.9 498.4,293.1 496.5,273.2 494.7,255.6 492.8,238.0 491.1,221.6 489.5,207.3 488.7,199.7 487.9,192.9 487.2,186.6 486.5,180.3 485.8,174.4 485.2,168.5 484.5,162.9 483.8,157.5 483.1,153.0 482.4,148.6 481.7,144.4 481.0,140.2 480.4,136.1 480.0,131.9 479.4,127.9 478.5,124.1 477.6,121.1 476.6,118.1 475.3,115.4 473.7,113.4 472.0,112.4 470.0,111.8 467.9,111.7 465.8,111.9 463.2,112.3 460.4,113.2 457.5,114.3 454.5,115.5 450.5,117.2 446.4,119.1 442.0,121.3 437.6,123.7 432.2,126.9 426.5,130.5 420.7,134.1 415.0,137.6 409.2,140.6 403.2,143.3 397.5,146.2 392.5,149.3 389.2,152.0 386.3,154.7 383.7,157.7 381.3,160.8 379.3,164.1 377.7,167.7 376.2,171.2 374.4,174.4 372.6,177.0 370.7,179.4 368.7,181.6 366.5,183.5 364.4,185.1 362.1,186.6 359.8,187.7 357.5,188.2 355.0,187.7 352.4,186.4 349.8,184.8 347.4,183.0 345.0,180.9 342.7,178.6 340.5,176.0 338.4,173.3 336.2,170.1 334.2,166.7 332.3,163.1 330.5,159.2 328.6,154.4 326.9,149.3 325.3,144.0 323.7,138.8 322.1,133.5 320.5,128.1 318.9,122.9 317.0,118.4 315.5,115.7 313.9,113.4 312.2,111.2 310.2,109.3 307.8,107.6 305.1,106.1 302.1,104.8 298.9,103.6 293.9,102.2 288.2,101.0 282.2,100.0 276.4,98.8 270.8,97.3 265.2,95.8 259.6,94.3 253.9,93.0 247.7,91.8 241.4,90.7 235.1,89.9 229.0,89.8 223.6,90.1 218.3,90.9 213.3,92.1 208.8,93.6 205.7,94.9 202.8,96.3 200.2,98.1 198.0,100.2 196.1,103.3 194.8,107.0 193.7,110.9 192.6,115.0 191.4,119.7 190.3,124.7 189.4,129.9 188.5,135.2 187.7,141.6 187.0,148.3 186.4,155.1 185.8,162.2 185.1,170.9 184.5,180.3 183.8,189.0 183.1,195.9 182.7,198.4 182.3,200.3 181.9,202.1 181.5,204.0" fill="rgba(0,0,0,0.3)"/><polygon points="182.9,1046.0 184.8,1050.2 186.7,1054.4 188.7,1058.4 190.8,1061.9 192.6,1064.3 194.4,1066.4 196.4,1068.3 198.7,1069.9 202.1,1071.7 205.9,1073.1 210.1,1074.2 214.4,1075.0 220.1,1075.2 226.2,1074.9 232.4,1074.3 238.1,1073.7 242.3,1073.2 246.1,1072.6 249.9,1071.9 254.0,1071.4 259.2,1070.9 264.8,1070.5 270.2,1070.0 275.0,1069.5 277.8,1068.9 280.2,1068.4 282.7,1067.7 285.5,1067.1 291.0,1066.2 297.4,1065.4 303.8,1064.3 309.2,1062.7 312.5,1061.3 315.4,1059.6 318.0,1057.6 320.3,1054.9 322.9,1049.3 324.7,1042.2 326.3,1034.4 328.2,1026.6 331.0,1016.7 334.1,1006.1 337.4,996.3 340.8,988.7 342.7,985.9 344.5,983.5 346.5,981.7 348.7,980.4 350.9,979.5 353.3,979.0 355.7,979.0 358.2,979.2 361.0,978.4 363.8,978.2 366.6,978.4 369.2,979.2 372.1,981.3 374.7,984.5 377.3,988.1 380.3,991.1 383.9,993.5 387.9,995.6 392.0,998.5 396.1,1002.5 400.0,1005.8 403.9,1008.9 407.9,1011.9 411.9,1014.7 415.8,1017.5 419.7,1020.2 423.6,1022.8 427.6,1025.3 431.5,1027.6 435.5,1029.7 439.5,1031.9 443.4,1034.4 447.5,1037.8 451.4,1041.8 455.3,1045.5 459.2,1048.2 462.1,1049.6 465.1,1050.7 467.9,1051.2 470.3,1050.6 473.0,1046.9 475.0,1041.2 476.7,1034.4 478.2,1027.5 480.0,1018.1 481.5,1007.7 482.7,996.9 484.0,986.3 485.3,976.0 486.6,965.6 487.8,955.5 489.0,945.7 490.0,938.1 491.0,931.0 492.0,923.6 493.0,915.2 494.5,899.6 496.0,881.7 497.5,862.9 499.0,844.5 500.5,826.7 502.0,808.8 503.5,791.1 505.0,773.8 506.4,758.0 507.8,742.4 509.3,727.3 511.0,713.1 512.6,702.0 514.4,691.3 516.2,681.3 518.0,672.2 519.2,666.5 520.4,661.2 521.6,656.4 523.0,651.9 524.3,648.3 525.6,645.0 527.1,641.9 528.9,638.9 531.0,635.8 533.4,632.9 536.2,630.2 539.4,627.8 544.6,625.3 550.6,623.3 557.4,621.7 564.7,620.4 576.4,619.2 589.5,618.5 603.4,618.0 617.3,617.6 633.5,617.1 650.6,616.8 666.9,616.6 680.4,616.9 686.5,617.2 691.6,617.6 696.4,618.2 701.4,619.1 706.7,620.6 711.9,622.5 717.2,624.3 722.5,625.7 727.7,626.4 733.0,626.9 738.3,627.1 743.5,626.8 748.7,625.9 753.8,624.6 759.0,623.0 764.6,621.6 772.1,620.0 780.2,618.4 788.4,616.9 796.1,615.5 802.1,614.2 807.8,612.9 813.6,611.9 820.0,611.4 830.1,611.7 841.4,612.8 852.5,614.9 862.1,618.0 868.1,621.5 873.3,625.7 878.1,630.4 883.1,635.0 888.3,640.0 893.5,645.4 898.7,650.3 904.2,654.0 909.2,656.0 914.3,657.2 919.6,657.9 925.2,658.2 932.6,657.9 940.6,656.8 948.8,655.4 956.8,654.0 964.7,652.6 972.5,650.9 980.4,649.5 988.3,648.7 996.4,648.5 1004.7,648.8 1012.6,649.8 1019.9,651.9 1025.8,655.0 1031.0,659.0 1036.0,663.6 1040.9,668.7 1046.4,675.2 1051.6,682.5 1056.7,690.3 1062.0,698.2 1068.6,707.2 1075.5,716.5 1082.2,726.4 1088.0,737.0 1093.3,750.5 1097.7,765.3 1101.4,780.4 1104.7,795.1 1107.3,808.5 1109.3,821.9 1111.1,835.0 1113.1,847.7 1115.0,858.6 1117.0,869.1 1119.1,879.4 1121.5,889.8 1124.1,900.8 1126.9,912.1 1130.2,922.8 1134.2,931.9 1137.9,937.9 1142.0,943.4 1146.5,947.8 1151.0,950.8 1154.6,951.9 1158.3,952.1 1162.1,951.8 1165.7,951.0 1169.5,949.5 1173.1,947.2 1176.8,944.4 1180.4,941.0 1185.6,935.2 1190.8,928.1 1196.1,920.3 1201.5,912.3 1208.0,902.4 1214.7,891.9 1221.6,881.3 1228.8,871.2 1236.3,862.0 1244.1,853.0 1252.2,844.5 1260.4,836.5 1268.3,829.7 1276.4,823.4 1284.4,817.5 1292.0,812.4 1297.4,808.8 1302.6,805.5 1307.7,802.7 1313.0,800.5 1318.2,799.0 1323.4,797.9 1328.7,797.3 1334.0,796.8 1339.3,796.7 1344.6,796.9 1349.9,797.6 1355.1,798.6 1360.4,800.1 1365.7,802.1 1370.9,804.3 1376.1,806.6 1381.4,809.3 1386.6,812.2 1391.8,815.0 1397.1,816.9 1401.8,817.4 1406.6,817.2 1411.4,817.0 1416.2,817.7 1422.3,820.0 1428.5,823.3 1434.7,827.2 1440.6,830.9 1445.5,834.5 1450.0,838.5 1454.6,842.1 1459.5,844.2 1464.7,844.2 1470.1,842.8 1475.6,841.0 1481.1,840.1 1486.7,840.0 1492.4,840.3 1497.9,841.2 1502.8,842.8 1506.7,845.0 1510.2,847.8 1513.4,851.9 1516.3,856.5 1519.6,863.7 1522.3,872.0 1524.7,880.6 1527.1,888.9 1529.3,896.1 1531.4,903.1 1533.3,910.3 1535.2,917.8 1537.4,927.8 1539.5,938.3 1541.5,949.2 1543.4,960.4 1545.4,974.1 1547.3,988.4 1549.2,1002.8 1551.5,1016.5 1553.8,1028.0 1556.2,1039.3 1558.9,1050.0 1562.3,1058.9 1565.2,1064.5 1568.3,1069.6 1571.8,1074.0 1575.8,1077.2 1580.4,1079.1 1585.6,1080.1 1590.7,1080.4 1594.8,1080.3 1596.5,1079.9 1597.9,1079.3 1599.2,1078.6 1600.5,1077.9 1602.5,1062.5 1607.1,1062.0 1611.7,1061.8 1616.4,1061.1 1621.1,1059.4 1627.7,1054.7 1634.5,1048.0 1641.4,1040.7 1648.2,1033.8 1655.1,1028.6 1662.2,1023.8 1669.0,1019.4 1675.2,1015.8 1679.0,1013.6 1682.5,1011.6 1685.7,1010.2 1688.7,1009.8 1690.5,1010.6 1692.0,1012.1 1693.6,1013.5 1695.5,1014.2 1699.9,1013.0 1705.0,1009.8 1710.5,1005.7 1715.8,1001.8 1720.9,997.8 1725.9,993.5 1730.9,989.2 1736.0,985.3 1741.1,982.1 1746.4,979.1 1751.5,976.4 1756.3,974.2 1759.3,973.1 1762.1,972.4 1764.9,971.7 1768.2,970.8 1774.4,969.0 1781.5,967.0 1789.0,964.9 1796.3,962.9 1803.4,961.2 1810.6,959.5 1817.7,958.1 1824.5,957.0 1829.9,956.4 1835.2,956.0 1840.3,955.9 1845.2,956.2 1849.6,956.9 1853.8,957.6 1858.0,958.6 1862.1,960.2 1866.7,962.8 1871.2,966.1 1875.8,969.8 1880.8,973.3 1887.4,977.1 1894.5,980.9 1901.8,984.6 1909.0,988.2 1916.0,991.5 1923.1,994.8 1930.1,998.0 1937.2,1001.2 1944.3,1004.4 1951.4,1007.5 1958.4,1010.8 1965.4,1014.2 1972.5,1018.3 1979.5,1022.6 1986.4,1027.0 1993.5,1031.0 2000.5,1034.4 2007.6,1037.3 2014.7,1040.4 2021.7,1044.0 2029.2,1048.7 2036.7,1054.0 2043.8,1059.3 2049.9,1064.2 2053.1,1067.2 2055.7,1070.1 2058.5,1072.8 2062.0,1075.1 2069.1,1077.6 2077.8,1079.2 2087.0,1080.5 2096.0,1082.0 2096.0,1110.0 2087.0,1108.5 2077.8,1107.1 2069.1,1105.4 2062.0,1102.9 2058.5,1100.5 2055.7,1097.8 2053.1,1094.9 2049.9,1091.8 2043.8,1086.9 2036.7,1081.5 2029.2,1076.2 2021.7,1071.4 2014.7,1067.8 2007.6,1064.6 2000.5,1061.6 1993.5,1058.2 1986.4,1054.1 1979.5,1049.7 1972.5,1045.3 1965.4,1041.2 1958.4,1037.6 1951.4,1034.4 1944.3,1031.2 1937.2,1028.0 1930.1,1024.7 1923.1,1021.4 1916.0,1018.1 1909.0,1014.6 1901.8,1011.0 1894.5,1007.2 1887.4,1003.4 1880.8,999.5 1875.8,996.0 1871.2,992.3 1866.7,988.9 1862.1,986.2 1858.0,984.7 1853.8,983.6 1849.6,982.9 1845.2,982.8 1840.3,983.0 1835.2,983.6 1829.9,984.6 1824.5,985.8 1817.7,987.6 1810.6,989.8 1803.4,992.3 1796.3,994.9 1789.0,997.6 1781.5,1000.5 1774.4,1003.3 1768.2,1005.8 1764.9,1007.0 1762.1,1008.0 1759.3,1009.1 1756.3,1010.6 1751.5,1013.2 1746.4,1016.5 1741.1,1020.1 1736.0,1023.9 1730.9,1028.3 1725.9,1033.1 1720.9,1038.0 1715.8,1042.6 1710.5,1047.1 1705.0,1051.8 1699.9,1055.5 1695.5,1057.2 1693.6,1056.7 1692.0,1055.5 1690.5,1054.1 1688.7,1053.6 1685.7,1054.3 1682.5,1056.1 1679.0,1058.5 1675.2,1061.0 1669.0,1065.3 1662.2,1070.5 1655.1,1076.0 1648.2,1081.0 1641.4,1085.2 1634.5,1089.8 1627.7,1093.8 1621.1,1095.8 1616.4,1095.7 1611.7,1094.5 1607.1,1092.9 1602.5,1091.5 1600.5,1106.1 1599.2,1106.5 1597.9,1107.1 1596.5,1107.5 1594.8,1107.7 1590.7,1107.5 1585.6,1106.7 1580.4,1105.1 1575.8,1102.8 1571.8,1099.1 1568.3,1094.5 1565.2,1089.0 1562.3,1083.1 1558.9,1074.5 1556.2,1065.1 1553.8,1055.0 1551.5,1044.5 1549.2,1032.0 1547.3,1018.5 1545.4,1005.1 1543.4,992.4 1541.5,982.1 1539.5,972.1 1537.4,962.6 1535.2,953.8 1533.3,947.1 1531.4,940.9 1529.3,934.9 1527.1,928.7 1524.7,921.5 1522.3,914.0 1519.6,907.1 1516.3,901.5 1513.4,898.3 1510.2,895.7 1506.7,893.0 1502.8,890.8 1497.9,889.2 1492.4,888.3 1486.7,888.0 1481.1,888.1 1475.6,889.0 1470.1,890.8 1464.7,892.2 1459.5,892.2 1454.6,890.1 1450.0,886.5 1445.5,882.3 1440.6,878.5 1434.7,874.6 1428.5,870.6 1422.3,867.1 1416.2,864.5 1411.4,863.7 1406.6,863.8 1401.8,863.8 1397.1,863.1 1391.8,861.0 1386.6,858.1 1381.4,855.0 1376.1,852.2 1370.9,849.7 1365.7,847.3 1360.4,845.1 1355.1,843.4 1349.9,842.2 1344.6,841.4 1339.3,841.0 1334.0,841.0 1328.7,841.4 1323.4,842.4 1318.2,843.8 1313.0,845.7 1307.7,848.3 1302.6,851.5 1297.4,855.1 1292.0,859.0 1284.4,864.7 1276.4,871.1 1268.3,878.1 1260.4,885.5 1252.2,894.0 1244.1,903.1 1236.3,912.6 1228.8,922.4 1221.6,932.9 1214.7,944.0 1208.0,955.0 1201.5,965.3 1196.1,973.7 1190.8,981.9 1185.6,989.4 1180.4,995.6 1176.8,999.2 1173.1,1002.3 1169.5,1004.8 1165.7,1006.6 1162.1,1007.7 1158.3,1008.1 1154.6,1007.9 1151.0,1006.8 1146.5,1003.8 1142.0,999.4 1137.9,993.9 1134.2,987.9 1130.2,978.8 1126.9,968.1 1124.1,956.8 1121.5,945.8 1119.1,935.4 1117.0,925.1 1115.0,914.6 1113.1,903.7 1111.1,891.0 1109.3,877.9 1107.3,864.5 1104.7,851.1 1101.4,836.4 1097.7,821.3 1093.3,806.5 1088.0,793.0 1082.2,782.4 1075.5,772.5 1068.6,763.2 1062.0,754.2 1056.7,746.3 1051.6,738.5 1046.4,731.2 1040.9,724.7 1036.0,719.6 1031.0,715.0 1025.8,711.0 1019.9,707.9 1012.6,705.8 1004.7,704.8 996.4,704.5 988.3,704.7 980.4,705.5 972.5,706.9 964.7,708.6 956.8,710.0 948.8,711.4 940.6,712.8 932.6,713.9 925.2,714.2 919.6,713.9 914.3,713.2 909.2,712.0 904.2,710.0 898.7,706.3 893.5,701.4 888.3,696.1 883.1,691.2 878.1,686.6 873.3,682.1 868.1,677.8 862.1,674.4 852.5,671.4 841.4,669.5 830.1,668.5 820.0,668.4 813.6,668.9 807.8,670.0 802.1,671.4 796.1,672.7 788.4,674.2 780.2,675.8 772.1,677.5 764.6,679.2 759.0,680.7 753.8,682.3 748.7,683.7 743.5,684.6 738.3,685.0 733.0,684.9 727.7,684.5 722.5,683.7 717.2,682.5 711.9,680.7 706.7,678.9 701.4,677.5 696.4,676.6 691.6,676.1 686.5,675.7 680.4,675.5 666.9,675.4 650.6,675.7 633.5,676.3 617.3,677.0 603.4,677.5 589.5,678.1 576.4,679.0 564.7,680.4 557.4,681.4 550.6,682.4 544.6,683.7 539.4,685.8 536.2,687.8 533.4,690.3 531.0,692.9 528.9,695.7 527.1,698.6 525.6,701.6 524.3,704.7 523.0,708.1 521.6,712.6 520.4,717.3 519.2,722.3 518.0,727.8 516.2,736.4 514.4,745.9 512.6,756.2 511.0,766.9 509.3,780.7 507.8,795.5 506.4,810.8 505.0,826.2 503.5,843.1 502.0,860.5 500.5,878.0 499.0,895.5 497.5,913.5 496.0,932.0 494.5,949.5 493.0,964.8 492.0,972.9 491.0,980.0 490.0,986.9 489.0,994.3 487.8,1003.7 486.6,1013.6 485.3,1023.7 484.0,1033.7 482.7,1043.9 481.5,1054.4 480.0,1064.5 478.2,1073.5 476.7,1080.0 475.0,1086.4 473.0,1091.6 470.3,1094.6 467.9,1095.5 465.1,1095.4 462.1,1094.8 459.2,1093.8 455.3,1091.7 451.4,1088.6 447.5,1085.2 443.4,1082.4 439.5,1080.5 435.5,1078.9 431.5,1077.4 427.6,1075.7 423.6,1073.8 419.7,1071.7 415.8,1069.6 411.9,1067.5 407.9,1065.2 403.9,1062.8 400.0,1060.3 396.1,1057.5 392.0,1054.2 387.9,1049.4 383.9,1043.4 380.3,1037.4 377.3,1031.4 374.7,1025.3 372.1,1019.5 369.2,1014.4 366.6,1011.0 363.8,1008.0 361.0,1005.4 358.2,1003.4 355.7,1003.6 353.3,1004.4 350.9,1005.6 348.7,1007.0 346.5,1009.0 344.5,1011.4 342.7,1014.3 340.8,1017.7 337.4,1026.1 334.1,1036.9 331.0,1048.4 328.2,1058.6 326.3,1066.5 324.7,1074.4 322.9,1081.5 320.3,1087.1 318.0,1089.9 315.4,1092.0 312.5,1093.7 309.2,1095.3 303.8,1097.0 297.4,1098.3 291.0,1099.3 285.5,1100.3 282.7,1101.0 280.2,1101.7 277.8,1102.3 275.0,1102.9 270.2,1103.6 264.8,1104.2 259.2,1104.8 254.0,1105.4 249.9,1106.1 246.1,1106.8 242.3,1107.5 238.1,1108.1 232.4,1108.9 226.2,1109.7 220.1,1110.2 214.4,1110.0 210.1,1109.4 205.9,1108.4 202.1,1107.1 198.7,1105.5 196.4,1103.9 194.4,1102.0 192.6,1100.0 190.8,1097.7 188.7,1094.2 186.7,1090.2 184.8,1086.0 182.9,1082.0" fill="rgba(0,0,0,0.3)"/><polygon points="181.8,136.9 182.1,128.3 182.3,119.7 182.6,111.2 183.1,103.1 183.6,95.9 184.2,88.9 184.9,82.2 185.8,75.9 186.6,71.0 187.5,66.3 188.5,62.0 189.9,58.4 191.0,56.2 192.2,54.3 193.6,52.8 195.3,51.5 198.0,50.5 201.2,50.0 204.8,49.8 208.8,49.6 216.2,49.3 224.7,49.3 233.8,49.3 242.6,49.3 251.1,49.2 259.7,49.0 268.2,48.9 276.4,48.8 284.0,48.6 291.5,48.3 298.6,48.3 304.6,49.0 307.9,50.0 310.8,51.2 313.4,52.7 315.8,54.5 318.0,56.6 319.9,59.1 321.8,61.7 323.7,64.2 325.9,67.0 328.2,70.0 330.5,72.9 332.7,75.7 334.7,78.1 336.6,80.5 338.6,82.8 340.6,85.0 342.7,87.5 344.9,90.0 347.2,92.3 349.6,94.2 351.8,95.6 354.1,96.8 356.4,97.6 358.7,97.8 360.7,97.5 362.7,96.7 364.6,95.7 366.5,94.6 368.5,93.2 370.3,91.6 372.2,89.9 374.4,88.0 378.3,84.7 382.8,81.0 387.6,77.3 392.5,73.9 397.9,70.9 403.5,68.2 409.3,65.6 415.0,63.2 420.6,60.9 426.3,58.8 431.9,56.8 437.6,54.8 443.4,52.7 449.3,50.4 455.0,48.4 460.1,46.9 463.2,46.2 466.2,45.6 468.9,45.4 471.4,45.4 473.3,45.6 475.1,46.2 476.7,47.0 478.2,48.2 479.6,50.0 480.8,52.4 481.8,55.0 482.7,57.7 483.7,61.0 484.5,64.4 485.3,68.1 486.0,72.1 486.9,78.4 487.8,85.4 488.6,92.8 489.4,100.0 490.2,107.0 491.1,114.0 491.9,121.0 492.8,127.7 493.7,133.5 494.5,139.1 495.4,144.5 496.2,150.0 496.8,154.7 497.3,159.0 497.8,163.9 498.5,170.2 501.1,198.4 504.5,237.9 508.0,278.2 511.0,308.9 512.1,318.4 513.0,326.1 514.0,333.1 515.0,340.5 516.2,348.7 517.4,357.0 518.7,365.2 520.0,373.0 521.2,379.4 522.4,385.5 523.6,391.4 525.0,397.0 526.2,401.7 527.5,406.2 528.9,410.4 530.7,414.2 532.4,417.2 534.2,420.0 536.4,422.4 539.2,424.3 544.2,425.4 550.3,425.5 557.2,424.9 564.5,425.2 575.9,426.4 588.7,427.4 602.1,428.1 615.2,428.6 628.1,429.0 641.2,429.2 654.0,429.2 665.9,428.6 675.0,427.8 683.6,426.7 691.8,425.3 699.7,423.5 706.3,421.1 712.6,418.2 718.7,415.4 725.0,413.4 731.4,412.4 738.0,412.0 744.4,412.1 750.4,412.5 754.8,413.2 758.9,418.1 763.0,421.6 767.3,422.9 772.7,424.7 778.3,426.6 784.2,428.6 790.6,430.2 800.0,432.0 810.5,433.5 821.1,434.6 831.1,435.0 839.3,434.8 847.4,434.3 854.9,433.2 861.5,431.4 865.6,429.5 869.2,427.3 872.5,424.7 875.8,421.5 879.9,416.1 883.6,409.4 887.5,402.7 892.0,397.0 896.6,393.0 901.6,389.6 906.8,386.8 912.3,384.6 918.1,383.0 924.2,382.0 930.4,381.7 936.6,382.1 943.1,383.6 949.6,386.3 956.2,389.2 963.0,391.8 970.5,394.2 978.2,396.6 986.0,398.5 993.4,399.4 999.8,399.3 1006.1,398.7 1012.2,397.5 1017.7,395.6 1022.2,393.0 1026.3,389.8 1030.1,385.9 1034.0,381.7 1039.2,375.1 1044.4,367.5 1049.5,359.5 1054.3,351.7 1058.6,344.5 1062.6,337.3 1066.4,330.2 1070.0,323.4 1072.7,318.1 1075.2,313.2 1077.6,308.1 1080.0,302.6 1083.2,294.7 1086.5,286.1 1089.8,277.1 1093.0,267.9 1096.6,257.1 1100.2,245.8 1103.6,234.5 1106.8,223.2 1109.5,212.4 1112.0,201.4 1114.5,190.7 1117.0,180.4 1119.3,171.3 1121.5,162.5 1124.0,154.1 1127.0,146.3 1130.1,139.9 1133.4,133.9 1137.2,128.5 1141.3,124.4 1145.0,122.0 1149.1,120.3 1153.3,119.2 1157.5,118.9 1161.9,119.4 1166.5,120.6 1171.0,122.4 1175.7,124.8 1182.2,129.0 1188.8,134.3 1195.5,140.4 1202.1,146.9 1209.8,155.4 1217.3,164.8 1224.9,174.6 1232.5,184.1 1240.1,193.5 1247.6,203.0 1255.2,212.3 1263.0,221.2 1270.6,229.4 1278.3,237.5 1286.0,245.0 1293.4,251.2 1298.6,255.0 1303.5,258.1 1308.5,260.8 1313.7,263.2 1319.2,265.4 1324.8,267.3 1330.5,268.7 1336.0,269.4 1340.7,269.4 1345.2,268.9 1349.7,267.9 1354.2,266.6 1359.2,264.6 1364.2,262.0 1369.3,259.1 1374.5,256.2 1380.6,252.5 1386.8,248.6 1393.3,244.6 1400.0,240.8 1407.8,236.8 1416.0,232.9 1424.3,229.3 1432.7,226.5 1440.7,224.5 1448.8,223.1 1457.0,222.6 1465.4,222.4 1475.6,223.0 1486.5,224.2 1496.7,225.5 1504.6,225.8 1507.4,225.7 1509.8,225.5 1511.8,225.2 1513.7,224.4 1515.3,223.2 1516.7,221.5 1517.9,219.4 1519.0,217.1 1520.6,213.0 1521.9,208.2 1523.3,202.9 1524.7,197.5 1526.8,190.3 1529.1,182.6 1531.3,174.7 1533.4,166.8 1535.1,159.2 1536.6,151.5 1538.1,143.8 1539.7,136.2 1541.5,128.5 1543.4,120.8 1545.4,113.1 1547.6,105.5 1549.8,97.6 1552.1,89.5 1554.7,81.8 1557.8,75.2 1560.7,70.7 1563.9,66.3 1567.3,62.5 1571.0,59.3 1574.4,57.3 1577.9,55.9 1581.5,54.8 1585.0,53.9 1587.7,53.4 1590.2,53.1 1592.8,52.9 1595.8,53.0 1601.6,53.3 1608.3,54.1 1615.3,55.3 1622.1,56.8 1628.7,59.1 1635.3,61.8 1641.8,64.8 1648.4,67.6 1655.0,70.2 1661.6,72.8 1668.2,75.5 1674.7,78.3 1681.3,81.5 1687.9,84.9 1694.5,88.3 1701.1,91.7 1707.6,95.3 1714.2,98.9 1720.8,102.3 1727.4,105.5 1733.9,108.5 1740.5,111.3 1747.1,114.1 1753.7,116.8 1760.3,119.6 1766.9,122.4 1773.4,125.2 1780.0,128.0 1786.4,130.9 1792.8,133.7 1799.3,136.6 1806.0,139.3 1814.1,142.7 1822.7,146.2 1831.2,149.1 1839.0,150.6 1844.3,150.8 1849.2,150.3 1853.9,149.1 1858.6,147.1 1864.4,143.0 1869.9,137.3 1875.6,131.3 1882.0,125.9 1890.0,121.0 1898.8,116.6 1908.0,112.5 1917.2,108.8 1926.8,105.6 1936.6,102.9 1946.5,100.4 1956.3,97.6 1966.1,94.5 1975.8,91.1 1985.6,87.8 1995.3,84.4 2005.2,81.1 2015.2,77.7 2025.0,74.5 2034.4,71.6 2041.9,69.4 2049.2,67.3 2056.3,65.6 2063.7,64.4 2071.6,64.0 2079.7,64.2 2087.9,64.7 2096.0,65.1 2096.0,93.1 2087.9,93.1 2079.7,92.9 2071.6,93.0 2063.7,93.8 2056.3,95.3 2049.2,97.3 2041.9,99.6 2034.4,102.2 2025.0,105.4 2015.2,109.1 2005.2,112.9 1995.3,116.6 1985.6,120.2 1975.8,123.8 1966.1,127.4 1956.3,130.8 1946.5,133.8 1936.6,136.6 1926.8,139.6 1917.2,143.0 1908.0,146.9 1898.8,151.3 1890.0,156.0 1882.0,161.1 1875.6,166.6 1869.9,172.8 1864.4,178.6 1858.6,182.9 1853.9,185.0 1849.2,186.3 1844.3,187.1 1839.0,187.2 1831.2,186.1 1822.7,183.6 1814.1,180.6 1806.0,177.7 1799.3,175.3 1792.8,172.8 1786.4,170.3 1780.0,167.8 1773.4,165.3 1766.9,162.9 1760.3,160.4 1753.7,158.0 1747.1,155.6 1740.5,153.2 1733.9,150.7 1727.4,148.1 1720.8,145.2 1714.2,142.1 1707.6,138.9 1701.1,135.7 1694.5,131.9 1687.9,127.9 1681.3,123.9 1674.7,120.1 1668.2,116.7 1661.6,113.5 1655.0,110.4 1648.4,107.2 1641.8,103.8 1635.3,100.3 1628.7,96.9 1622.1,94.2 1615.3,92.0 1608.3,90.2 1601.6,88.9 1595.8,88.0 1592.8,87.8 1590.2,87.7 1587.7,87.8 1585.0,88.1 1581.5,88.6 1577.9,89.4 1574.4,90.6 1571.0,92.3 1567.3,95.1 1563.9,98.6 1560.7,102.8 1557.8,107.8 1554.7,115.1 1552.1,123.4 1549.8,132.0 1547.6,140.5 1545.4,148.6 1543.4,156.8 1541.5,164.9 1539.7,173.0 1538.1,181.1 1536.6,189.1 1535.1,197.1 1533.4,205.2 1531.3,213.5 1529.1,222.0 1526.8,230.3 1524.7,237.9 1523.3,243.7 1521.9,249.3 1520.6,254.5 1519.0,258.9 1517.9,261.5 1516.7,263.9 1515.3,265.9 1513.7,267.6 1511.8,268.7 1509.8,269.5 1507.4,269.9 1504.6,270.2 1496.7,270.3 1486.5,269.8 1475.6,269.3 1465.4,269.4 1457.0,270.1 1448.8,271.1 1440.7,272.2 1432.7,273.9 1424.3,276.5 1416.0,279.8 1407.8,283.4 1400.0,287.2 1393.3,290.7 1386.8,294.5 1380.6,298.2 1374.5,301.6 1369.3,304.5 1364.2,307.2 1359.2,309.6 1354.2,311.4 1349.7,312.6 1345.2,313.4 1340.7,313.7 1336.0,313.6 1330.5,312.7 1324.8,311.2 1319.2,309.1 1313.7,306.8 1308.5,304.3 1303.5,301.5 1298.6,298.2 1293.4,294.4 1286.0,287.9 1278.3,280.3 1270.6,272.0 1263.0,263.6 1255.2,254.5 1247.6,245.1 1240.1,235.4 1232.5,225.9 1224.9,216.1 1217.3,206.1 1209.8,196.5 1202.1,187.9 1195.5,181.2 1188.8,175.0 1182.2,169.5 1175.7,165.2 1171.0,162.7 1166.5,160.7 1161.9,159.4 1157.5,159.1 1153.3,159.7 1149.1,161.0 1145.0,163.0 1141.3,165.6 1137.2,170.0 1133.4,175.6 1130.1,181.9 1127.0,188.5 1124.0,196.5 1121.5,205.1 1119.3,214.1 1117.0,223.2 1114.5,233.7 1112.0,244.6 1109.5,255.7 1106.8,266.8 1103.6,278.2 1100.2,289.8 1096.6,301.2 1093.0,312.1 1089.8,321.5 1086.5,330.7 1083.2,339.4 1080.0,347.4 1077.6,353.0 1075.2,358.2 1072.7,363.2 1070.0,368.6 1066.4,375.5 1062.6,382.8 1058.6,390.2 1054.3,397.5 1049.5,405.5 1044.4,413.7 1039.2,421.6 1034.0,428.3 1030.1,432.7 1026.3,436.7 1022.2,440.1 1017.7,442.8 1012.2,445.0 1006.1,446.5 999.8,447.3 993.4,447.2 986.0,446.1 978.2,443.9 970.5,441.2 963.0,438.6 956.2,435.8 949.6,432.6 943.1,429.8 936.6,427.9 930.4,427.3 924.2,427.4 918.1,428.2 912.3,429.6 906.8,431.7 901.6,434.3 896.6,437.6 892.0,441.4 887.5,446.9 883.6,453.5 879.9,460.1 875.8,465.7 872.5,468.9 869.2,471.7 865.6,474.0 861.5,476.0 854.9,478.1 847.4,479.4 839.3,480.2 831.1,480.6 821.1,480.5 810.5,479.8 800.0,478.7 790.6,477.2 784.2,475.8 778.3,474.0 772.7,472.3 767.3,470.7 763.0,469.5 758.9,470.4 754.8,473.2 750.4,472.5 744.4,472.1 738.0,472.0 731.4,472.4 725.0,473.4 718.7,475.4 712.6,478.2 706.3,481.1 699.7,483.5 691.8,485.3 683.6,486.7 675.0,487.8 665.9,488.6 654.0,489.2 641.2,489.2 628.1,489.0 615.2,488.6 602.1,488.1 588.7,487.4 575.9,486.4 564.5,485.2 557.2,483.8 550.3,481.6 544.2,479.1 539.2,475.9 536.4,473.0 534.2,469.7 532.4,466.2 530.7,462.4 528.9,457.9 527.5,453.2 526.2,448.2 525.0,443.0 523.6,436.9 522.4,430.5 521.2,423.8 520.0,417.0 518.7,408.9 517.4,400.5 516.2,391.9 515.0,383.5 514.0,375.9 513.0,368.7 512.1,360.8 511.0,351.1 508.0,319.8 504.5,278.8 501.1,238.6 498.5,209.8 497.8,203.4 497.3,198.4 496.8,194.0 496.2,189.2 495.4,183.6 494.5,178.0 493.7,172.2 492.8,166.3 491.9,159.4 491.1,152.3 490.2,145.0 489.4,137.8 488.6,130.5 487.8,123.0 486.9,115.8 486.0,109.3 485.3,105.1 484.5,101.3 483.7,97.7 482.7,94.3 481.8,91.4 480.8,88.5 479.6,86.0 478.2,83.8 476.7,82.4 475.1,81.2 473.3,80.3 471.4,79.6 468.9,79.4 466.2,79.8 463.2,80.6 460.1,81.5 455.0,83.2 449.3,85.5 443.4,88.1 437.6,90.6 431.9,92.9 426.3,95.2 420.6,97.6 415.0,100.2 409.3,102.9 403.5,105.8 397.9,108.8 392.5,112.1 387.6,115.8 382.8,119.8 378.3,123.7 374.4,127.2 372.2,129.2 370.3,131.1 368.5,132.8 366.5,134.2 364.6,135.5 362.7,136.6 360.7,137.4 358.7,137.6 356.4,136.9 354.1,135.6 351.8,134.0 349.6,132.2 347.2,129.8 344.9,127.0 342.7,124.0 340.6,121.2 338.6,118.5 336.6,115.8 334.7,113.1 332.7,110.3 330.5,107.0 328.2,103.6 325.9,100.2 323.7,97.0 321.8,94.0 319.9,91.1 318.0,88.6 315.8,86.3 313.4,84.5 310.8,82.9 307.9,81.6 304.6,80.6 298.6,79.7 291.5,79.5 284.0,79.6 276.4,79.6 268.2,79.4 259.7,79.3 251.1,79.2 242.6,79.1 233.8,78.8 224.7,78.5 216.2,78.3 208.8,78.4 204.8,78.5 201.2,78.6 198.0,79.0 195.3,79.9 193.6,81.2 192.2,82.7 191.0,84.5 189.9,86.6 188.5,90.3 187.5,94.5 186.6,99.2 185.8,104.1 184.9,110.3 184.2,117.0 183.6,124.0 183.1,131.1 182.6,139.3 182.3,147.8 182.1,156.4 181.8,164.9" fill="rgba(0,255,80,0.47)"/><polygon points="182.1,980.7 182.3,986.7 182.5,992.7 182.7,998.5 183.0,1004.0 183.2,1008.4 183.3,1012.6 183.7,1016.6 184.5,1020.3 185.6,1023.4 186.9,1026.4 188.6,1029.1 190.8,1031.4 193.9,1033.3 197.7,1034.6 201.9,1035.6 206.5,1036.4 213.9,1037.2 222.3,1037.4 230.7,1037.4 238.1,1037.7 242.3,1038.1 246.1,1038.6 249.8,1039.1 254.0,1039.4 261.2,1039.5 269.4,1039.3 277.7,1038.9 285.5,1038.4 291.9,1038.1 298.3,1037.9 304.1,1038.0 309.2,1037.3 312.6,1035.9 315.5,1033.9 318.0,1031.4 320.3,1028.5 322.7,1023.7 324.6,1018.0 326.3,1012.0 328.2,1006.3 330.0,1001.3 331.9,996.2 333.8,991.4 336.1,987.3 338.2,984.4 340.4,981.7 342.8,979.6 345.5,978.0 348.5,977.0 351.7,976.4 355.0,976.4 358.2,977.0 361.1,977.8 363.9,979.2 366.6,981.1 369.2,983.4 372.1,987.1 374.7,991.7 377.3,996.5 380.3,1000.9 383.9,1004.8 387.8,1008.5 392.0,1012.0 396.1,1015.2 400.0,1017.9 403.9,1020.3 407.9,1022.6 411.9,1024.9 415.8,1027.3 419.8,1029.7 423.7,1032.0 427.6,1034.4 431.6,1036.8 435.5,1039.2 439.5,1041.6 443.4,1044.1 447.4,1047.0 451.4,1050.2 455.4,1053.2 459.2,1055.3 462.1,1056.4 465.0,1057.3 467.8,1057.5 470.3,1057.0 472.7,1054.8 474.8,1051.7 476.6,1047.7 478.2,1043.3 480.5,1033.4 482.1,1021.2 483.3,1008.0 484.5,995.3 485.7,983.3 486.8,971.3 487.9,959.3 489.2,947.3 490.8,935.4 492.6,923.5 494.4,911.5 496.0,898.9 497.6,883.3 499.1,867.0 500.5,850.4 502.0,834.2 503.5,818.8 505.0,803.7 506.5,788.6 508.0,773.4 509.5,757.8 511.0,741.8 512.4,726.5 513.6,712.8 514.3,704.4 514.9,696.9 515.6,689.6 516.3,681.8 517.3,672.0 518.4,661.6 519.6,651.3 521.0,642.0 522.2,635.5 523.4,629.5 524.9,623.7 526.8,617.9 529.2,611.0 531.8,603.8 535.1,597.2 539.4,592.0 544.6,588.9 550.6,587.0 557.4,585.8 564.7,584.7 576.4,583.2 589.5,582.0 603.4,581.1 617.3,580.5 633.5,579.9 650.6,579.6 666.9,579.7 680.4,580.5 686.5,581.2 691.7,582.1 696.5,583.2 701.4,584.7 706.7,587.1 711.9,590.1 717.2,593.0 722.5,595.2 727.7,596.4 732.9,597.1 738.2,597.4 743.5,597.3 748.7,596.8 753.8,595.8 759.1,594.6 764.6,593.1 772.2,590.7 780.2,587.8 788.4,584.9 796.1,582.6 802.2,581.1 808.0,579.8 813.8,578.8 820.0,578.4 827.8,578.5 836.0,579.2 844.2,580.6 851.6,582.6 857.5,584.9 862.9,587.8 868.0,591.1 872.6,595.2 876.8,600.8 880.3,607.4 883.6,614.2 887.3,620.4 891.2,625.8 895.2,631.0 899.5,635.6 904.2,639.4 909.1,642.0 914.4,643.9 919.8,645.1 925.2,645.7 930.5,645.5 935.7,644.6 941.0,643.2 946.2,641.5 951.4,639.1 956.5,636.1 961.6,633.2 967.3,631.0 974.8,629.4 983.0,628.5 991.3,628.3 998.8,628.9 1004.5,630.1 1009.8,631.9 1014.9,634.3 1019.9,637.3 1025.4,641.5 1030.8,646.6 1035.9,652.2 1040.9,658.3 1046.5,665.9 1051.8,674.5 1057.0,683.8 1062.0,693.2 1067.1,702.7 1072.0,712.3 1076.6,722.3 1081.0,733.1 1086.0,748.3 1090.5,764.8 1094.6,781.7 1098.4,797.9 1101.4,811.5 1104.1,824.7 1106.5,837.6 1108.9,850.7 1111.0,863.9 1112.9,877.2 1114.9,890.3 1117.3,903.3 1120.0,916.0 1122.9,928.9 1126.1,941.0 1130.0,951.7 1133.2,958.7 1136.6,965.0 1140.4,970.6 1144.7,974.9 1148.6,977.6 1152.8,979.6 1157.1,980.8 1161.5,981.2 1166.1,980.4 1170.8,978.5 1175.6,975.9 1180.4,972.7 1187.1,967.3 1194.0,960.7 1200.9,953.2 1207.8,945.4 1215.7,935.7 1223.6,925.0 1231.5,914.1 1239.4,903.3 1247.2,892.5 1254.9,881.6 1262.8,871.0 1270.9,861.2 1278.5,852.9 1286.3,845.1 1294.3,838.0 1302.5,831.8 1310.3,827.0 1318.4,822.7 1326.4,819.4 1334.0,817.1 1339.5,816.2 1344.8,815.9 1350.0,816.2 1355.1,817.1 1360.5,818.9 1365.7,821.5 1370.9,824.5 1376.1,827.6 1381.3,831.1 1386.4,834.8 1391.5,838.7 1397.1,842.3 1404.1,846.1 1411.7,849.8 1419.4,853.4 1427.0,856.7 1433.8,859.9 1440.5,863.1 1447.3,865.8 1454.1,867.5 1460.8,867.5 1467.6,866.3 1474.4,865.0 1481.1,864.8 1488.2,865.7 1495.4,867.2 1502.2,869.5 1508.2,872.9 1513.2,878.5 1517.4,885.5 1521.1,893.1 1524.4,901.0 1527.8,911.0 1530.5,921.5 1532.9,932.7 1535.2,944.5 1538.1,961.2 1540.6,979.4 1543.2,997.7 1546.0,1014.4 1548.4,1026.1 1550.9,1037.2 1553.5,1047.6 1556.5,1057.1 1558.8,1063.5 1561.2,1069.0 1563.9,1073.5 1567.0,1077.4 1570.0,1080.2 1573.3,1082.6 1576.8,1084.4 1580.6,1085.5 1585.3,1085.5 1590.4,1084.4 1595.7,1082.8 1600.8,1081.0 1605.9,1078.9 1610.8,1076.5 1615.9,1073.8 1621.1,1071.0 1627.6,1067.4 1634.5,1063.4 1641.4,1059.3 1648.2,1055.1 1655.0,1051.0 1661.7,1046.9 1668.4,1042.7 1675.2,1038.7 1682.0,1034.9 1688.7,1031.2 1695.5,1027.5 1702.3,1023.8 1709.1,1020.1 1715.8,1016.4 1722.6,1012.7 1729.3,1009.0 1736.3,1005.1 1743.5,1001.0 1750.3,997.2 1756.3,994.1 1759.5,992.6 1762.2,991.3 1765.0,990.2 1768.2,988.9 1774.4,986.6 1781.5,984.2 1789.0,981.8 1796.3,979.5 1803.4,977.4 1810.6,975.3 1817.7,973.4 1824.5,972.0 1829.9,971.0 1835.2,970.3 1840.3,969.9 1845.2,970.1 1849.6,970.9 1853.8,972.2 1858.0,973.9 1862.1,975.9 1866.7,978.7 1871.2,982.1 1875.8,985.7 1880.8,989.2 1887.4,993.0 1894.5,996.9 1901.8,1000.7 1909.0,1004.4 1916.0,1007.9 1923.1,1011.2 1930.1,1014.5 1937.2,1017.8 1944.3,1021.1 1951.3,1024.5 1958.4,1027.8 1965.4,1031.1 1972.4,1034.5 1979.5,1037.9 1986.5,1041.2 1993.5,1044.6 2000.5,1047.9 2007.6,1051.2 2014.6,1054.6 2021.7,1057.9 2028.5,1061.4 2035.3,1065.1 2042.2,1068.5 2049.9,1071.3 2060.5,1073.6 2072.1,1074.9 2084.2,1075.9 2096.0,1077.0 2096.0,1113.0 2084.2,1112.0 2072.1,1111.3 2060.5,1110.1 2049.9,1108.1 2042.2,1105.4 2035.3,1102.1 2028.5,1098.5 2021.7,1095.1 2014.6,1091.9 2007.6,1088.7 2000.5,1085.5 1993.5,1082.2 1986.5,1079.0 1979.5,1075.7 1972.4,1072.5 1965.4,1069.3 1958.4,1066.0 1951.3,1062.8 1944.3,1059.6 1937.2,1056.4 1930.1,1053.2 1923.1,1050.0 1916.0,1046.8 1909.0,1043.4 1901.8,1039.9 1894.5,1036.2 1887.4,1032.4 1880.8,1028.6 1875.8,1025.3 1871.2,1021.8 1866.7,1018.5 1862.1,1015.7 1858.0,1013.8 1853.8,1012.1 1849.6,1010.9 1845.2,1010.1 1840.3,1009.9 1835.2,1010.3 1829.9,1011.0 1824.5,1012.0 1817.7,1013.4 1810.6,1015.3 1803.4,1017.4 1796.3,1019.5 1789.0,1021.8 1781.5,1024.2 1774.4,1026.6 1768.2,1028.9 1765.0,1030.2 1762.2,1031.3 1759.5,1032.6 1756.3,1034.1 1750.3,1037.2 1743.5,1041.0 1736.3,1045.1 1729.3,1049.0 1722.6,1052.7 1715.8,1056.4 1709.1,1060.1 1702.3,1063.8 1695.5,1067.5 1688.7,1071.2 1682.0,1074.9 1675.2,1078.7 1668.4,1082.7 1661.7,1086.9 1655.0,1091.0 1648.2,1094.7 1641.4,1097.8 1634.5,1100.7 1627.6,1103.4 1621.1,1105.8 1615.9,1107.8 1610.8,1109.6 1605.9,1111.1 1600.8,1112.2 1595.7,1113.1 1590.4,1113.8 1585.3,1114.0 1580.6,1113.1 1576.8,1111.4 1573.3,1109.0 1570.0,1106.0 1567.0,1102.6 1563.9,1098.2 1561.2,1093.2 1558.8,1088.1 1556.5,1082.9 1553.5,1075.0 1550.9,1066.0 1548.4,1056.1 1546.0,1045.6 1543.2,1030.4 1540.6,1013.5 1538.1,996.6 1535.2,981.3 1532.9,970.8 1530.5,960.8 1527.8,951.7 1524.4,943.6 1521.1,937.3 1517.4,931.6 1513.2,926.8 1508.2,922.9 1502.2,919.5 1495.4,917.2 1488.2,915.7 1481.1,914.8 1474.4,915.0 1467.6,916.3 1460.8,917.5 1454.1,917.5 1447.3,915.8 1440.5,913.1 1433.8,909.9 1427.0,906.7 1419.4,903.4 1411.7,899.8 1404.1,896.1 1397.1,892.3 1391.5,888.7 1386.4,884.8 1381.3,881.1 1376.1,877.6 1370.9,874.5 1365.7,871.5 1360.5,868.9 1355.1,867.1 1350.0,866.2 1344.8,865.9 1339.5,866.2 1334.0,867.1 1326.4,869.4 1318.4,872.7 1310.3,877.0 1302.5,881.8 1294.3,888.0 1286.3,895.1 1278.5,902.9 1270.9,911.2 1262.8,921.0 1254.9,931.6 1247.2,942.5 1239.4,953.3 1231.5,964.1 1223.6,975.0 1215.7,985.7 1207.8,995.4 1200.9,1003.2 1194.0,1010.7 1187.1,1017.3 1180.4,1022.7 1175.6,1025.9 1170.8,1028.5 1166.1,1030.4 1161.5,1031.2 1157.1,1030.8 1152.8,1029.6 1148.6,1027.6 1144.7,1024.9 1140.4,1020.6 1136.6,1015.0 1133.2,1008.7 1130.0,1001.7 1126.1,991.0 1122.9,978.9 1120.0,966.0 1117.3,953.3 1114.9,940.3 1112.9,927.2 1111.0,913.9 1108.9,900.7 1106.5,887.6 1104.1,874.7 1101.4,861.5 1098.4,848.3 1094.6,832.8 1090.5,816.7 1086.0,801.1 1081.0,786.9 1076.6,777.0 1072.0,767.9 1067.1,759.3 1062.0,750.8 1057.0,742.4 1051.8,734.1 1046.5,725.9 1040.9,718.3 1035.9,712.2 1030.8,706.6 1025.4,701.5 1019.9,697.3 1014.9,694.3 1009.8,691.9 1004.5,690.1 998.8,688.9 991.3,688.3 983.0,688.5 974.8,689.4 967.3,691.0 961.6,693.2 956.5,696.1 951.4,699.1 946.2,701.5 941.0,703.2 935.7,704.6 930.5,705.5 925.2,705.7 919.8,705.1 914.4,703.9 909.1,702.0 904.2,699.4 899.5,695.6 895.2,691.0 891.2,685.8 887.3,680.4 883.6,674.2 880.3,667.4 876.8,660.8 872.6,655.2 868.0,651.1 862.9,647.8 857.5,644.9 851.6,642.6 844.2,640.6 836.0,639.2 827.8,638.5 820.0,638.4 813.8,638.8 808.0,639.8 802.2,641.1 796.1,642.6 788.4,644.9 780.2,647.8 772.2,650.7 764.6,653.1 759.1,654.6 753.8,655.8 748.7,656.8 743.5,657.3 738.2,657.4 732.9,657.1 727.7,656.4 722.5,655.2 717.2,653.0 711.9,650.1 706.7,647.1 701.4,644.7 696.5,643.2 691.7,642.1 686.5,641.2 680.4,640.5 666.9,639.7 650.6,639.6 633.5,639.9 617.3,640.5 603.4,641.1 589.5,642.0 576.4,643.2 564.7,644.7 557.4,645.5 550.6,646.1 544.6,647.4 539.4,650.0 535.1,654.7 531.8,661.0 529.2,667.9 526.8,674.5 524.9,680.2 523.4,685.9 522.2,691.7 521.0,698.0 519.6,707.2 518.4,717.2 517.3,727.3 516.3,737.0 515.6,744.5 514.9,751.7 514.3,759.0 513.6,767.2 512.4,780.7 511.0,795.7 509.5,811.3 508.0,826.6 506.5,841.3 505.0,856.1 503.5,870.9 502.0,885.8 500.5,901.7 499.1,918.0 497.6,933.9 496.0,949.1 494.4,961.3 492.6,973.0 490.8,984.4 489.2,995.9 487.9,1007.6 486.8,1019.3 485.7,1031.0 484.5,1042.7 483.3,1055.2 482.1,1068.1 480.5,1080.0 478.2,1089.3 476.6,1093.3 474.8,1096.8 472.7,1099.5 470.3,1101.0 467.8,1101.6 465.0,1101.3 462.1,1100.6 459.2,1099.5 455.4,1097.4 451.4,1094.6 447.4,1091.4 443.4,1088.5 439.5,1086.1 435.5,1083.8 431.6,1081.5 427.6,1079.2 423.7,1076.9 419.8,1074.5 415.8,1072.2 411.9,1069.9 407.9,1067.7 403.9,1065.5 400.0,1063.2 396.1,1060.6 392.0,1057.4 387.8,1054.0 383.9,1050.4 380.3,1046.5 377.3,1042.2 374.7,1037.4 372.1,1032.9 369.2,1029.2 366.6,1027.0 363.9,1025.1 361.1,1023.7 358.2,1023.0 355.0,1023.5 351.7,1024.7 348.5,1026.4 345.5,1028.4 342.8,1031.0 340.4,1034.0 338.2,1037.5 336.1,1041.1 333.8,1046.1 331.9,1051.5 330.0,1057.3 328.2,1063.1 326.3,1069.5 324.6,1076.2 322.7,1082.6 320.3,1088.3 318.0,1092.2 315.5,1095.8 312.6,1098.9 309.2,1101.7 304.1,1104.3 298.3,1105.9 291.9,1106.3 285.5,1106.8 277.7,1107.6 269.4,1108.3 261.2,1108.8 254.0,1109.0 249.8,1108.8 246.1,1108.4 242.3,1108.0 238.1,1107.7 230.7,1107.7 222.3,1108.0 213.9,1108.1 206.5,1107.6 201.9,1106.9 197.7,1106.0 193.9,1104.8 190.8,1103.0 188.6,1100.8 186.9,1098.2 185.6,1095.2 184.5,1092.1 183.7,1088.4 183.3,1084.5 183.2,1080.3 183.0,1076.0 182.7,1070.4 182.5,1064.6 182.3,1058.6 182.1,1052.7" fill="rgba(0,255,80,0.47)"/><path d="M1441,380 L1441,427 M1443.5,385 L1443.5,420 M1453,370 L1453,401" stroke="rgba(0,0,0,0.3)" stroke-width="2.2" fill="none"/><path d="M1603.5,128 L1603.5,172" stroke="rgba(0,0,0,0.1)" stroke-width="4" fill="none"/><path d="M1604,1026 L1604,1078" stroke="rgba(0,0,0,0.1)" stroke-width="5" fill="none"/><path d="M1688.5,1003 L1688.5,1025" stroke="rgba(0,0,0,0.3)" stroke-width="4" fill="none"/><polyline points="181.5,80.0 182.2,76.3 182.8,72.5 183.5,68.9 184.5,65.7 185.3,63.7 186.2,62.0 187.3,60.4 188.5,59.0 189.9,57.7 191.4,56.6 193.2,55.7 195.3,54.9 199.5,54.1 204.5,53.7 210.0,53.6 215.5,53.6 222.3,53.7 229.5,54.1 236.5,54.5 242.6,54.9 245.7,55.0 248.4,55.1 251.0,55.2 254.0,55.5 259.0,56.3 264.6,57.4 270.3,58.6 276.0,59.7 281.7,60.6 287.4,61.4 293.0,62.1 298.0,63.0 301.3,63.6 304.3,64.3 307.1,65.0 310.0,65.9 313.0,67.0 315.9,68.2 318.8,69.7 321.5,71.5 324.6,74.2 327.5,77.4 330.3,80.8 332.7,84.0 334.3,86.5 335.7,89.1 337.0,91.6 338.4,94.0 339.8,96.4 341.1,98.8 342.5,101.0 344.0,103.0 345.3,104.4 346.7,105.6 348.1,106.6 349.7,107.6 351.5,108.6 353.5,109.6 355.5,110.2 357.5,110.4 359.8,109.8 362.2,108.6 364.5,107.0 366.5,105.4 368.0,103.9 369.3,102.1 370.6,100.4 372.2,98.6 375.0,96.2 378.2,93.7 381.6,91.2 385.0,89.0 388.1,87.2 391.1,85.5 394.3,83.9 398.0,82.3 404.3,79.7 411.4,77.1 418.8,74.6 426.0,72.7 432.2,71.6 438.4,70.9 444.4,70.4 450.0,70.0 454.3,69.7 458.4,69.4 462.3,69.3 465.8,69.5 468.1,69.9 470.2,70.4 472.2,71.1 474.0,72.0 475.7,73.1 477.2,74.3 478.6,75.7 480.0,77.0 481.2,78.2 482.4,79.3 483.5,80.5 484.5,82.0 485.7,84.5 486.7,87.3 487.6,90.5 488.5,94.0 489.6,99.5 490.4,105.8 491.2,112.3 492.0,118.9 492.8,125.9 493.6,133.0 494.4,140.2 495.3,147.0 496.1,152.9 497.0,158.5 497.9,164.1 498.7,169.6 499.3,174.3 499.8,178.7 500.3,183.6 501.0,190.0 503.6,218.5 507.0,258.4 510.5,299.0 513.5,330.0 514.6,339.6 515.5,347.5 516.4,354.6 517.5,362.0 518.6,369.8 519.9,377.7 521.1,385.2 522.5,392.0 523.5,396.5 524.5,400.7 525.7,404.6 527.0,408.0 528.1,410.2 529.2,412.2 530.5,414.0 532.0,415.5 533.5,416.6 535.2,417.5 537.1,418.2 539.2,419.0 542.7,420.1 546.6,421.2 551.1,422.2 556.0,423.1 565.1,424.5 575.7,425.9 587.0,427.1 598.3,428.2 610.8,429.3 623.6,430.3 636.5,431.1 649.0,431.5 660.3,431.7 671.6,431.6 682.2,431.1 691.3,429.9 696.1,428.6 700.3,427.0 704.2,425.2 708.2,423.1 712.4,420.4 716.6,417.2 720.7,414.2 725.0,412.1 729.2,411.2 733.6,410.9 737.9,411.1 742.0,411.3 745.1,411.4 748.0,411.7 750.8,412.1 753.8,413.0 757.8,415.0 761.8,417.8 766.0,420.8 770.3,423.3 775.0,425.3 779.9,427.1 784.9,428.7 790.0,430.0 795.0,431.2 799.9,432.1 805.1,432.8 810.8,433.4 820.3,434.0 831.2,434.3 842.0,434.2 851.4,433.4 857.2,432.5 862.6,431.4 867.5,429.8 871.7,427.4 874.9,424.1 877.4,420.0 879.5,415.6 881.8,411.1 884.2,406.0 886.4,400.6 888.8,395.4 892.0,390.8 896.3,387.0 901.3,383.8 906.8,381.0 912.3,378.7 918.2,376.6 924.6,374.9 930.8,373.8 936.6,373.6 940.9,374.2 944.8,375.4 948.7,377.0 952.8,378.7 957.7,381.0 962.8,383.8 967.9,386.6 973.1,388.8 978.1,390.4 983.2,391.7 988.3,392.6 993.4,392.9 998.5,392.7 1003.7,392.0 1008.8,390.8 1013.7,388.8 1019.1,385.4 1024.3,380.9 1029.2,375.9 1034.0,370.6 1038.9,364.7 1043.5,358.2 1047.9,351.6 1052.0,345.0 1055.6,339.0 1058.8,333.0 1061.9,326.7 1065.0,320.0 1068.7,310.5 1072.1,300.2 1075.6,289.7 1079.0,280.0 1082.0,273.0 1084.9,266.5 1087.9,259.9 1090.6,252.5 1094.0,240.8 1097.1,227.8 1100.0,214.5 1102.7,201.8 1104.8,191.3 1106.7,181.0 1108.6,171.1 1110.8,161.3 1113.0,152.2 1115.3,143.2 1117.9,134.6 1121.0,126.8 1124.0,120.8 1127.3,115.1 1130.9,110.2 1135.2,106.5 1139.8,104.3 1144.9,103.1 1150.3,102.5 1155.5,102.5 1160.5,102.9 1165.6,103.9 1170.6,105.4 1175.7,107.5 1182.2,111.2 1188.8,115.9 1195.4,121.2 1202.1,126.8 1209.7,133.4 1217.3,140.6 1224.9,147.9 1232.5,155.2 1240.1,162.3 1247.7,169.4 1255.4,176.6 1263.0,183.6 1270.7,190.7 1278.6,197.7 1286.2,204.6 1293.4,211.0 1298.7,215.9 1303.6,220.7 1308.5,225.0 1313.7,228.5 1318.6,230.9 1323.6,232.9 1328.7,234.2 1334.0,235.0 1339.8,235.1 1345.9,234.4 1352.0,233.2 1358.3,231.5 1366.0,228.6 1373.8,224.7 1381.8,220.6 1389.8,216.8 1397.7,213.5 1405.7,210.4 1413.7,207.4 1421.8,204.5 1429.9,201.3 1438.1,198.1 1446.3,195.3 1454.5,193.6 1463.0,193.7 1471.8,195.0 1480.1,196.4 1487.2,196.9 1490.9,196.4 1494.1,195.7 1497.1,194.8 1500.0,194.0 1502.7,193.5 1505.3,193.2 1507.8,192.6 1510.0,191.5 1512.1,189.4 1513.8,186.7 1515.4,183.5 1517.0,180.0 1519.2,174.5 1521.3,168.2 1523.4,161.4 1525.5,154.6 1527.8,146.9 1530.1,139.0 1532.5,131.0 1535.0,123.0 1537.8,114.8 1540.8,106.5 1543.8,98.6 1546.8,91.5 1548.8,87.0 1550.7,82.9 1552.7,79.2 1555.0,75.8 1557.2,73.0 1559.6,70.5 1562.2,68.2 1565.0,66.3 1568.4,64.7 1572.2,63.5 1576.1,62.6 1580.0,62.0 1583.8,61.7 1587.6,61.8 1591.6,62.1 1595.8,62.4 1601.9,62.7 1608.5,63.1 1615.4,63.6 1622.1,64.3 1628.7,65.1 1635.3,65.9 1641.9,66.9 1648.4,68.3 1655.0,70.1 1661.6,72.2 1668.1,74.5 1674.7,76.8 1681.2,79.1 1687.6,81.5 1694.2,83.8 1701.1,86.1 1709.7,88.6 1718.7,91.0 1727.9,93.4 1737.0,95.8 1740.0,105.8 1746.7,108.1 1753.4,110.5 1760.1,112.8 1766.8,115.0 1773.4,117.1 1780.0,119.1 1786.6,121.0 1793.2,123.0 1800.0,125.1 1806.9,127.3 1813.6,129.4 1820.0,131.0 1824.9,132.1 1829.7,133.0 1834.3,133.6 1839.0,133.8 1843.9,133.5 1848.9,132.7 1853.8,131.5 1858.6,129.8 1863.5,127.0 1868.1,123.4 1872.9,119.6 1878.1,116.2 1884.7,112.9 1891.8,109.8 1899.3,107.0 1907.4,104.5 1918.8,102.0 1931.4,100.1 1944.2,98.5 1956.3,96.6 1966.4,94.7 1976.1,92.7 1985.7,90.8 1995.3,88.8 2005.2,86.8 2015.2,84.8 2025.0,82.9 2034.4,81.0 2042.0,79.4 2049.2,77.9 2056.4,76.5 2063.7,75.2 2071.7,74.0 2079.7,73.0 2087.9,72.0 2096.0,71.0" fill="none" stroke="#ff0000" stroke-width="7.3" stroke-linejoin="round" stroke-linecap="butt"/><polyline points="182.1,1072.0 182.5,1076.1 182.8,1080.2 183.3,1084.2 184.5,1087.7 186.2,1090.5 188.4,1093.1 191.0,1095.3 193.9,1097.2 198.6,1099.1 204.1,1100.5 209.7,1101.4 214.4,1101.9 216.6,1101.9 218.5,1101.8 220.3,1101.5 222.4,1101.1 225.9,1100.4 229.7,1099.3 233.8,1098.2 238.1,1097.2 243.7,1096.0 249.7,1094.9 255.8,1093.7 261.8,1092.5 267.6,1091.2 273.4,1089.8 279.2,1088.3 285.0,1087.0 291.3,1086.0 297.8,1085.2 304.0,1084.1 309.2,1082.1 312.6,1079.8 315.4,1077.0 317.8,1073.7 320.0,1070.0 322.3,1063.9 324.0,1056.7 325.4,1049.2 327.0,1042.0 328.6,1035.4 330.1,1028.8 331.8,1022.5 334.0,1017.0 336.1,1013.1 338.5,1009.5 341.1,1006.4 344.0,1004.0 347.0,1002.3 350.3,1001.1 353.7,1000.5 357.0,1000.5 360.1,1001.3 363.2,1002.9 366.2,1005.0 369.0,1007.5 372.0,1011.6 374.7,1016.7 377.3,1022.1 380.3,1027.0 383.9,1031.3 387.8,1035.4 391.9,1039.3 396.0,1043.0 399.9,1046.3 403.9,1049.4 407.9,1052.4 411.9,1055.3 415.8,1058.0 419.7,1060.7 423.7,1063.3 427.6,1066.0 431.5,1068.9 435.3,1071.8 439.2,1074.7 443.4,1077.4 448.7,1080.6 454.5,1083.9 460.3,1086.5 465.5,1087.6 469.1,1087.3 472.5,1086.2 475.6,1084.5 478.2,1082.1 480.5,1078.0 482.0,1072.8 483.0,1066.7 484.0,1060.0 485.6,1047.1 486.6,1031.9 487.5,1015.7 488.5,1000.0 489.6,985.2 490.7,970.5 491.8,955.6 493.0,940.0 494.4,920.5 495.9,900.0 497.4,879.5 499.0,860.0 500.5,844.4 502.1,829.5 503.6,814.8 505.0,800.0 506.1,784.5 507.1,768.8 508.0,753.6 509.0,740.0 509.7,731.9 510.4,724.9 511.1,717.7 512.1,709.4 514.1,692.6 516.6,672.8 519.5,653.0 522.6,635.7 524.9,625.3 527.2,615.5 529.9,607.0 533.1,600.0 535.3,596.5 537.6,593.7 540.3,591.4 543.6,589.4 549.9,587.4 557.5,586.4 566.1,585.9 575.2,585.2 589.7,583.9 606.2,582.7 622.9,581.7 638.3,581.0 649.8,580.5 660.8,580.2 671.1,580.2 680.4,581.0 686.3,582.0 691.7,583.3 696.6,585.0 701.4,587.3 705.8,590.6 709.9,594.6 713.9,598.7 718.3,602.1 723.3,604.9 728.6,607.4 734.0,609.3 739.3,610.5 744.1,610.8 748.9,610.4 753.6,609.6 758.2,608.4 762.5,606.7 766.6,604.4 770.7,602.1 775.1,600.0 780.1,598.1 785.3,596.4 790.7,594.9 796.1,593.6 801.9,592.4 807.7,591.4 813.7,590.7 820.0,590.5 827.9,590.8 836.2,591.5 844.4,592.8 851.6,594.7 856.4,596.5 860.7,598.6 864.6,601.1 868.4,604.2 872.5,608.6 876.3,613.7 879.8,619.3 883.1,625.2 886.4,632.3 889.2,640.0 892.1,647.7 895.7,654.7 899.8,660.8 904.3,666.7 909.3,671.8 914.7,675.7 920.1,678.1 925.9,679.5 931.9,680.1 937.8,679.9 944.0,678.3 950.3,675.4 956.6,672.1 963.1,669.4 970.3,667.2 977.7,665.1 985.2,663.6 992.5,663.1 999.6,663.5 1006.7,664.7 1013.5,666.7 1019.9,669.4 1025.8,673.1 1031.2,677.7 1036.3,682.9 1040.9,688.3 1045.1,694.0 1048.7,700.1 1052.1,706.6 1055.6,713.6 1060.1,722.9 1064.5,732.9 1068.8,743.6 1073.0,755.0 1078.1,770.8 1083.1,788.1 1087.8,805.8 1092.1,823.1 1095.7,839.0 1098.9,854.7 1101.8,870.5 1104.7,886.2 1107.4,902.2 1109.8,918.4 1112.3,934.3 1115.2,949.4 1117.9,961.8 1120.7,973.9 1124.0,985.2 1127.8,995.6 1131.5,1003.6 1135.5,1011.2 1139.9,1017.9 1144.7,1023.0 1148.6,1025.7 1152.8,1027.8 1157.2,1029.0 1161.5,1029.3 1166.1,1028.6 1170.9,1026.7 1175.6,1024.1 1180.4,1020.9 1187.2,1015.1 1194.0,1007.9 1200.9,999.7 1207.8,991.4 1215.7,981.5 1223.6,971.0 1231.5,960.1 1239.4,949.4 1247.2,938.6 1254.9,927.7 1262.8,917.1 1270.9,907.3 1278.5,899.0 1286.3,891.0 1294.2,883.8 1302.5,877.8 1310.3,873.4 1318.4,869.7 1326.4,867.0 1334.0,865.2 1339.5,864.5 1344.8,864.5 1350.0,865.1 1355.1,866.2 1360.5,868.3 1365.7,871.2 1370.9,874.5 1376.1,877.8 1381.5,881.3 1386.8,885.1 1392.2,888.9 1398.0,892.5 1404.9,896.1 1412.3,899.5 1419.7,902.7 1427.0,906.1 1433.8,909.8 1440.5,913.7 1447.2,917.2 1454.1,919.6 1460.8,920.3 1467.7,920.0 1474.6,919.5 1481.1,919.6 1486.9,920.3 1492.6,921.2 1498.0,922.6 1502.8,925.0 1506.9,928.6 1510.4,933.2 1513.4,938.4 1516.3,943.9 1519.5,951.1 1522.2,958.9 1524.7,967.4 1527.1,976.4 1529.9,989.0 1532.5,1002.8 1535.0,1016.9 1537.9,1030.5 1540.9,1043.4 1543.9,1056.5 1547.4,1068.7 1551.5,1079.2 1554.9,1085.6 1558.5,1091.3 1562.5,1096.1 1567.0,1100.0 1571.6,1102.6 1576.8,1104.4 1582.1,1105.5 1587.3,1106.0 1592.3,1105.8 1597.3,1104.9 1602.4,1103.6 1607.6,1102.0 1614.1,1099.8 1620.9,1097.2 1627.8,1094.2 1634.6,1091.2 1641.4,1088.0 1648.2,1084.6 1654.9,1081.1 1661.7,1077.6 1668.4,1074.2 1675.2,1070.7 1681.9,1067.3 1688.7,1064.1 1695.4,1061.2 1702.2,1058.5 1709.0,1055.9 1715.8,1053.3 1722.6,1050.8 1729.3,1048.4 1736.1,1046.1 1742.8,1043.8 1749.2,1041.6 1755.5,1039.5 1761.8,1037.4 1768.2,1035.2 1775.1,1032.8 1782.1,1030.4 1789.2,1028.0 1796.3,1025.8 1803.4,1023.6 1810.6,1021.5 1817.7,1019.6 1824.5,1018.3 1829.9,1017.6 1835.2,1017.1 1840.3,1017.1 1845.2,1017.4 1849.6,1018.1 1853.8,1019.0 1858.0,1020.4 1862.1,1022.1 1866.7,1024.8 1871.2,1028.2 1875.8,1031.8 1880.8,1035.2 1887.4,1039.1 1894.4,1043.1 1901.7,1046.8 1909.0,1050.2 1916.0,1052.9 1923.0,1055.2 1930.1,1057.4 1937.2,1059.6 1944.2,1062.0 1951.3,1064.4 1958.3,1066.8 1965.4,1069.0 1972.4,1071.0 1979.4,1072.9 1986.5,1074.7 1993.5,1076.5 2000.5,1078.4 2007.6,1080.3 2014.6,1082.1 2021.7,1084.0 2028.6,1086.0 2035.3,1088.0 2042.3,1089.9 2049.9,1091.5 2060.6,1093.0 2072.2,1094.1 2084.2,1095.0 2096.0,1096.0" fill="none" stroke="#ff0000" stroke-width="7.3" stroke-linejoin="round" stroke-linecap="butt"/><polyline points="182.5,110.0 183.3,103.7 184.0,97.2 184.9,91.2 186.0,86.0 186.8,83.3 187.6,80.8 188.7,78.7 190.0,77.0 191.5,75.8 193.2,75.0 195.2,74.4 197.5,73.8 202.2,72.7 208.0,71.7 214.1,71.0 220.0,70.4 225.5,70.1 231.0,70.0 236.6,70.1 242.6,70.4 250.7,71.2 259.3,72.4 268.0,73.7 276.4,74.9 284.0,75.6 291.5,76.2 298.6,76.9 304.6,78.3 307.9,79.6 310.8,81.2 313.3,83.0 315.8,85.0 318.3,87.5 320.6,90.2 322.8,93.2 324.9,96.3 327.0,100.0 328.8,104.1 330.7,108.2 332.7,112.1 334.9,115.7 337.1,119.2 339.5,122.6 341.8,125.6 343.7,127.9 345.5,130.1 347.5,132.0 349.6,133.5 351.8,134.6 354.1,135.4 356.5,135.8 358.7,135.8 360.7,135.2 362.7,134.1 364.6,132.8 366.5,131.3 368.4,129.5 370.2,127.6 372.1,125.5 374.4,123.4 378.3,120.6 382.8,117.8 387.6,114.9 392.5,112.1 397.9,109.0 403.5,105.8 409.3,102.7 415.0,99.7 420.6,97.0 426.3,94.5 431.9,92.0 437.6,89.6 443.4,87.1 449.3,84.6 455.0,82.4 460.1,80.6 463.3,79.6 466.2,78.8 469.0,78.3 471.4,78.3 473.0,78.8 474.4,79.5 475.8,80.5 477.0,81.5 478.1,82.5 479.2,83.5 480.1,84.7 481.0,86.0 481.9,88.1 482.7,90.6 483.3,93.3 484.0,96.0 484.8,99.3 485.5,102.8 486.3,106.4 487.0,110.0 487.8,113.8 488.6,117.7 489.3,121.7 490.1,126.0 491.0,131.7 491.8,137.8 492.6,144.0 493.5,150.0 494.4,155.1 495.3,160.1 496.1,165.0 496.9,170.0 497.5,174.6 498.0,178.9 498.6,183.7 499.2,190.0 501.8,218.4 505.2,258.3 508.8,299.0 511.7,330.0 512.8,339.6 513.7,347.5 514.7,354.6 515.7,362.0 516.8,369.8 518.0,377.6 519.2,385.1 520.5,392.0 521.6,397.0 522.7,401.6 523.8,406.0 525.0,410.0 525.9,412.8 526.9,415.3 527.9,417.7 529.0,420.0 530.1,422.1 531.1,424.2 532.4,426.2 534.0,428.2 536.6,430.9 539.8,433.6 543.4,436.1 547.6,438.3 554.7,440.7 563.0,442.4 572.1,443.7 581.4,445.0 593.3,446.7 606.1,448.2 619.2,449.4 632.1,450.1 645.2,450.4 658.6,450.2 671.4,449.6 682.8,448.4 689.9,447.1 696.5,445.6 702.5,443.7 708.2,441.7 712.7,439.6 716.8,437.2 720.8,434.9 725.0,433.2 729.2,432.2 733.5,431.6 737.8,431.4 742.0,431.5 745.9,432.0 749.8,432.9 753.6,434.0 757.5,435.0 759.5,455.0 764.8,457.8 770.1,460.6 775.3,463.3 780.0,465.3 782.7,466.2 785.0,466.8 787.5,467.3 790.6,467.9 799.0,469.6 809.6,471.6 820.8,473.3 831.1,474.0 839.2,474.0 847.1,473.5 854.6,472.3 861.5,470.0 867.3,466.5 872.6,462.1 877.4,457.0 881.8,451.7 885.7,445.7 888.9,439.1 892.2,432.7 896.0,427.4 899.7,424.0 903.6,421.2 907.8,419.0 912.3,417.2 917.9,415.7 924.0,414.9 930.4,414.7 936.6,415.2 943.1,416.9 949.6,419.6 956.2,422.6 963.0,425.3 970.5,427.8 978.2,430.4 986.0,432.4 993.4,433.4 999.8,433.4 1006.0,432.8 1012.0,431.5 1017.7,429.4 1023.2,426.4 1028.3,422.6 1033.2,418.1 1038.0,413.2 1043.5,406.5 1048.8,398.8 1053.8,390.7 1058.3,382.7 1062.2,374.9 1065.7,366.9 1068.9,359.1 1072.0,352.0 1074.2,347.6 1076.2,343.6 1078.1,339.6 1080.0,335.0 1082.6,327.2 1085.1,318.4 1087.5,309.1 1090.0,300.0 1092.7,291.0 1095.5,282.0 1098.2,272.7 1100.7,262.7 1103.4,248.3 1105.8,232.4 1108.2,216.5 1110.8,201.8 1113.1,190.9 1115.4,180.6 1118.0,170.7 1121.0,161.3 1123.9,152.7 1127.0,144.2 1130.7,136.6 1135.2,130.8 1139.7,127.7 1144.8,125.5 1150.2,124.2 1155.5,123.7 1160.5,123.9 1165.5,125.0 1170.6,126.6 1175.7,128.8 1182.2,132.2 1188.8,136.6 1195.5,141.6 1202.1,147.1 1209.8,154.3 1217.6,162.5 1225.2,171.0 1232.5,179.5 1239.0,187.6 1245.0,195.8 1251.2,204.0 1258.0,212.0 1266.5,220.5 1275.7,228.9 1285.0,236.9 1293.4,244.0 1298.8,248.6 1303.8,252.8 1308.6,256.6 1313.7,260.0 1318.6,262.9 1323.5,265.6 1328.6,267.7 1334.0,269.0 1340.3,269.1 1347.0,268.2 1353.7,266.7 1360.0,265.0 1365.2,263.3 1370.2,261.3 1375.1,259.1 1380.0,257.0 1385.1,254.8 1390.1,252.5 1395.2,250.3 1400.3,248.3 1405.7,246.7 1411.3,245.3 1416.7,243.9 1421.4,242.0 1424.4,240.0 1426.9,237.7 1429.3,235.5 1431.9,233.6 1434.5,232.4 1437.1,231.5 1439.8,230.6 1442.4,229.4 1445.5,226.9 1448.5,223.6 1451.6,220.8 1454.5,219.7 1457.1,221.2 1459.4,224.6 1462.0,228.2 1465.4,230.6 1472.7,231.3 1482.0,230.3 1491.1,228.3 1498.0,226.3 1500.2,225.3 1501.9,224.2 1503.4,223.1 1505.0,222.0 1507.0,221.1 1509.0,220.4 1511.0,219.4 1512.9,217.7 1516.1,211.9 1518.9,203.8 1521.5,194.7 1523.9,186.0 1526.1,178.2 1528.0,170.3 1529.8,162.5 1531.8,154.6 1533.8,146.7 1535.9,138.8 1538.0,130.9 1540.4,123.0 1543.0,114.6 1545.8,106.0 1548.9,98.0 1552.3,91.5 1554.8,88.1 1557.4,85.3 1560.1,82.9 1563.0,81.0 1565.8,79.6 1568.6,78.7 1571.7,78.0 1575.0,77.5 1579.7,77.2 1584.9,77.3 1590.3,77.7 1595.8,78.2 1602.2,79.0 1608.8,80.0 1615.5,81.1 1622.1,82.1 1628.7,82.8 1635.3,83.3 1641.9,84.0 1648.4,85.0 1655.2,86.6 1662.2,88.5 1668.8,90.6 1674.7,92.6 1678.2,93.9 1681.3,95.1 1684.4,96.5 1687.9,97.9 1693.8,100.3 1700.5,103.0 1707.4,105.8 1714.2,108.4 1720.8,110.7 1727.4,112.8 1734.0,115.0 1740.5,117.6 1747.1,120.9 1753.7,124.7 1760.2,128.6 1766.8,132.1 1773.4,135.1 1780.1,137.8 1786.8,140.4 1793.2,143.0 1798.8,145.4 1804.1,147.8 1809.5,150.0 1815.0,152.0 1820.9,153.8 1827.0,155.5 1833.1,156.7 1839.0,157.2 1844.1,157.0 1849.0,156.4 1853.8,155.2 1858.6,153.3 1864.4,149.4 1870.2,144.1 1875.9,138.5 1882.0,133.8 1888.0,130.3 1894.1,127.2 1900.5,124.5 1907.4,122.0 1916.4,119.6 1926.1,117.6 1936.2,115.9 1946.5,114.2 1958.4,112.2 1970.9,110.2 1983.3,108.2 1995.3,106.4 2005.5,104.9 2015.5,103.6 2025.1,102.2 2034.4,100.5 2042.0,98.5 2049.2,96.3 2056.3,94.2 2063.7,92.7 2071.6,92.1 2079.7,92.2 2087.9,92.5 2096.0,92.7" fill="none" stroke="#0000ff" stroke-width="7.3" stroke-linejoin="round" stroke-linecap="butt"/><polyline points="183.0,1072.0 184.9,1073.4 186.7,1074.9 188.6,1076.3 190.8,1077.5 194.3,1078.8 198.2,1079.9 202.4,1080.7 206.5,1081.4 210.4,1081.8 214.2,1082.1 218.1,1082.2 222.3,1082.2 227.9,1082.2 233.8,1082.0 240.0,1081.7 246.0,1081.4 251.9,1081.1 257.8,1080.8 263.8,1080.4 270.0,1080.0 277.5,1079.5 285.5,1079.1 293.2,1078.3 300.0,1077.0 304.4,1075.7 308.4,1074.2 311.9,1072.3 315.0,1070.0 317.2,1067.4 319.0,1064.5 320.5,1061.3 322.0,1058.0 323.6,1054.3 325.1,1050.5 326.5,1046.4 328.0,1042.0 329.9,1035.1 331.7,1027.3 333.7,1019.6 336.0,1013.0 337.9,1008.8 340.0,1005.0 342.3,1001.6 345.0,999.0 348.0,997.2 351.3,995.9 354.7,995.1 358.0,995.0 360.9,995.5 363.7,996.5 366.4,998.0 369.0,1000.0 371.9,1003.7 374.5,1008.4 377.0,1013.4 380.0,1018.0 383.6,1022.1 387.6,1025.9 391.8,1029.6 396.0,1033.0 399.9,1036.0 403.9,1038.8 407.9,1041.4 412.0,1044.0 416.0,1046.4 420.0,1048.6 424.0,1050.8 428.0,1053.0 431.8,1055.2 435.5,1057.4 439.3,1059.6 443.0,1062.0 447.0,1065.0 451.1,1068.4 455.1,1071.6 459.0,1074.0 461.9,1075.4 464.8,1076.7 467.5,1077.3 470.0,1077.0 472.5,1075.1 474.5,1071.8 476.3,1067.7 478.0,1063.0 480.4,1053.0 482.1,1040.6 483.6,1027.4 485.0,1015.0 486.3,1004.5 487.6,994.2 488.8,984.3 490.0,975.0 491.0,968.7 491.9,963.0 492.9,957.1 494.0,950.0 496.3,932.3 498.9,910.4 501.6,888.3 504.0,870.0 505.3,861.6 506.6,854.4 507.8,847.5 509.0,840.0 510.4,830.4 511.7,820.4 513.0,810.1 514.2,800.0 515.2,790.0 516.1,780.0 517.0,770.0 518.0,760.0 519.0,750.1 520.1,740.3 521.3,730.3 522.6,719.9 524.2,706.6 526.0,692.3 528.1,678.7 531.0,667.3 533.0,661.5 535.1,656.3 537.8,651.9 541.5,648.3 548.1,645.3 556.2,643.8 565.5,642.9 575.2,642.0 589.7,640.4 605.9,639.2 622.5,638.3 638.3,637.8 652.4,637.5 666.5,637.3 679.7,637.9 690.9,639.9 697.1,642.3 702.4,645.4 707.3,648.9 712.0,652.5 716.4,656.3 720.5,660.5 724.6,664.4 728.8,667.3 732.4,668.8 736.0,669.8 739.7,670.3 743.5,670.4 747.7,669.8 752.0,668.7 756.2,667.1 760.3,665.2 764.1,662.9 767.6,660.1 771.2,657.3 775.1,654.7 780.0,652.3 785.2,650.2 790.6,648.2 796.1,646.2 801.9,643.7 807.7,641.1 813.7,639.0 820.0,637.8 827.8,637.9 836.1,639.0 844.3,641.1 851.6,644.1 857.6,647.7 863.0,652.1 868.0,657.2 872.6,663.1 877.4,672.1 881.2,682.7 885.0,693.5 889.4,703.0 893.6,709.8 898.0,716.1 902.9,721.7 908.4,726.2 914.6,729.8 921.4,732.6 928.6,734.3 935.7,734.6 943.5,732.5 951.3,728.3 959.3,723.6 967.3,719.9 975.3,717.4 983.4,715.2 991.4,713.8 998.8,713.6 1004.5,714.5 1009.9,716.2 1015.0,718.7 1019.9,722.0 1025.7,727.9 1031.1,735.5 1036.2,743.7 1040.9,751.4 1044.7,757.4 1048.3,763.3 1051.7,769.1 1055.0,775.0 1058.3,780.9 1061.5,786.8 1064.7,793.0 1068.0,800.0 1073.0,811.9 1078.3,825.4 1083.3,839.8 1087.9,854.7 1092.2,872.4 1095.8,891.1 1099.2,910.0 1102.6,928.3 1105.8,944.7 1109.0,960.9 1112.1,976.6 1115.2,991.4 1117.6,1003.3 1119.9,1014.7 1122.5,1025.4 1125.7,1035.0 1128.7,1041.8 1132.0,1048.0 1135.7,1053.5 1140.0,1058.0 1144.5,1061.2 1149.6,1063.7 1154.8,1065.4 1160.0,1066.0 1165.1,1065.4 1170.3,1063.7 1175.3,1061.2 1180.0,1058.0 1184.7,1053.2 1188.7,1047.2 1192.7,1040.4 1197.3,1033.5 1204.4,1023.6 1212.3,1012.6 1220.5,1001.6 1228.8,991.4 1236.5,982.9 1244.3,974.9 1252.3,967.3 1260.4,959.9 1268.1,953.0 1276.0,946.4 1283.9,940.1 1292.0,934.6 1299.8,930.1 1307.9,926.1 1315.9,922.6 1323.5,919.9 1329.0,918.2 1334.3,916.9 1339.4,916.0 1344.6,915.7 1349.9,916.0 1355.2,916.8 1360.4,918.1 1365.6,919.9 1371.0,922.7 1376.4,926.2 1381.6,929.8 1386.6,932.5 1390.0,933.7 1393.2,934.4 1396.4,935.0 1400.0,936.0 1406.1,938.1 1413.0,940.6 1420.1,943.5 1427.0,946.6 1433.8,950.7 1440.5,955.6 1447.2,960.0 1454.1,962.9 1460.8,963.5 1467.7,962.8 1474.5,961.8 1481.1,961.5 1486.9,961.9 1492.6,962.4 1498.0,963.6 1502.8,965.6 1506.8,968.6 1510.3,972.4 1513.4,976.8 1516.3,981.8 1519.6,989.4 1522.2,998.3 1524.6,1007.6 1527.1,1017.0 1529.8,1026.9 1532.4,1037.1 1535.0,1047.3 1537.9,1057.5 1540.9,1068.2 1543.9,1079.3 1547.3,1089.6 1551.5,1098.1 1555.1,1102.8 1559.0,1106.7 1563.2,1109.9 1567.7,1112.5 1572.3,1114.4 1577.2,1115.6 1582.3,1116.3 1587.3,1116.8 1592.3,1117.0 1597.3,1116.9 1602.4,1116.4 1607.6,1115.5 1614.1,1113.7 1620.9,1111.3 1627.8,1108.6 1634.6,1106.0 1641.4,1103.6 1648.1,1101.2 1654.9,1098.9 1661.7,1096.6 1668.4,1094.4 1675.2,1092.3 1681.9,1090.3 1688.7,1088.4 1695.5,1086.6 1702.2,1085.0 1709.0,1083.3 1715.8,1081.7 1722.6,1080.1 1729.4,1078.5 1736.1,1076.8 1742.8,1074.9 1749.2,1072.6 1755.5,1070.1 1761.8,1067.6 1768.2,1065.3 1775.1,1063.2 1782.1,1061.3 1789.2,1059.5 1796.3,1057.7 1803.4,1055.9 1810.6,1054.0 1817.7,1052.4 1824.5,1051.2 1829.9,1050.5 1835.2,1050.1 1840.3,1050.0 1845.2,1050.2 1849.6,1050.7 1853.8,1051.5 1857.9,1052.6 1862.1,1054.0 1866.7,1056.0 1871.2,1058.4 1875.8,1060.9 1880.8,1063.4 1887.4,1066.3 1894.5,1069.2 1901.8,1072.0 1909.0,1074.6 1916.0,1076.7 1923.1,1078.6 1930.1,1080.4 1937.2,1082.2 1944.2,1084.1 1951.3,1086.1 1958.3,1088.0 1965.4,1089.7 1972.4,1091.2 1979.4,1092.5 1986.5,1093.8 1993.5,1095.3 2000.6,1097.0 2007.6,1098.9 2014.7,1100.9 2021.7,1102.8 2028.6,1104.8 2035.3,1106.8 2042.3,1108.7 2049.9,1110.3 2060.6,1111.7 2072.2,1112.6 2084.2,1113.2 2096.0,1114.0" fill="none" stroke="#0000ff" stroke-width="7.3" stroke-linejoin="round" stroke-linecap="butt"/><polyline points="181.5,186.0 181.9,184.1 182.3,182.3 182.7,180.3 183.1,177.9 183.8,171.0 184.5,162.2 185.1,152.8 185.8,144.1 186.4,137.0 187.0,130.2 187.7,123.5 188.5,117.1 189.4,111.7 190.3,106.5 191.4,101.6 192.6,96.8 193.7,92.7 194.8,88.8 196.1,85.1 198.0,82.0 200.2,79.8 202.8,78.0 205.7,76.5 208.8,75.2 213.3,73.7 218.3,72.4 223.6,71.6 229.0,71.1 235.1,71.2 241.4,71.9 247.7,72.9 253.9,74.0 259.6,75.2 265.2,76.6 270.8,78.1 276.4,79.5 282.2,80.6 288.2,81.6 293.9,82.7 298.9,84.0 302.1,85.2 305.1,86.4 307.8,87.9 310.2,89.6 312.2,91.5 313.9,93.6 315.5,95.9 317.0,98.6 318.9,103.0 320.5,108.2 322.1,113.6 323.7,118.9 325.3,124.1 326.9,129.4 328.6,134.5 330.5,139.2 332.3,142.9 334.2,146.4 336.2,149.7 338.4,152.7 340.5,155.3 342.7,157.7 345.0,159.8 347.4,161.7 349.8,163.3 352.4,164.8 355.0,165.8 357.5,166.2 359.8,165.8 362.1,164.7 364.4,163.3 366.5,161.7 368.7,159.8 370.7,157.6 372.6,155.2 374.4,152.7 376.2,149.5 377.7,146.0 379.3,142.5 381.3,139.2 383.7,136.1 386.3,133.3 389.2,130.5 392.5,127.9 397.5,124.9 403.2,122.2 409.2,119.5 415.0,116.6 420.7,113.3 426.5,109.7 432.2,106.2 437.6,103.1 442.0,100.8 446.4,98.7 450.5,96.8 454.5,95.2 457.5,94.0 460.4,93.0 463.2,92.2 465.8,91.8 467.9,91.7 470.0,91.8 472.0,92.1 473.7,93.0 475.3,94.8 476.6,97.3 477.6,100.2 478.5,103.1 479.4,106.8 480.0,110.7 480.4,114.8 481.0,118.9 481.7,123.0 482.4,127.2 483.1,131.4 483.8,135.8 484.5,141.1 485.2,146.7 485.8,152.5 486.5,158.3 487.2,164.5 487.9,170.8 488.7,177.4 489.5,185.0 491.1,199.1 492.8,215.3 494.7,232.6 496.5,250.0 498.4,269.7 500.3,290.3 502.2,310.7 504.0,330.0 505.5,345.0 506.9,359.1 508.4,373.1 510.0,387.6 511.9,404.7 513.8,422.5 515.9,439.8 518.0,455.2 519.5,464.7 521.1,473.4 522.7,481.5 524.5,489.0 525.9,494.6 527.3,499.9 528.8,504.8 530.7,509.3 532.4,512.8 534.2,516.0 536.4,518.8 539.2,521.1 544.2,523.0 550.3,523.8 557.2,524.1 564.5,524.5 576.2,525.3 589.4,526.0 602.8,526.5 615.2,527.0 624.1,527.3 632.5,527.6 640.7,527.8 649.0,527.9 657.6,527.9 666.2,527.9 674.7,527.7 682.8,527.0 689.6,525.9 696.1,524.5 702.3,522.9 708.2,521.1 712.7,519.4 716.8,517.5 720.8,515.8 725.0,514.4 729.2,513.5 733.5,513.0 737.7,512.7 742.0,512.7 746.1,513.0 750.1,513.5 754.3,514.3 758.9,515.2 765.9,516.9 773.5,519.1 781.7,521.2 790.6,522.7 805.2,523.8 821.8,524.3 838.1,523.9 851.4,522.7 857.4,521.7 862.4,520.6 867.1,519.0 871.7,516.6 876.9,512.2 881.9,506.5 886.8,500.7 892.0,496.3 896.8,493.9 901.8,492.3 907.0,491.2 912.3,490.2 918.2,489.1 924.3,488.2 930.4,487.8 936.6,488.2 943.1,490.0 949.6,492.8 956.2,495.9 963.0,498.3 970.5,500.0 978.2,501.3 986.0,502.2 993.4,502.4 999.8,502.1 1006.0,501.4 1012.0,500.2 1017.7,498.3 1023.1,495.6 1028.2,492.3 1033.2,488.4 1038.0,484.1 1043.3,478.8 1048.5,472.9 1053.4,466.5 1058.3,459.8 1063.7,451.9 1068.9,443.4 1074.0,434.5 1078.6,425.3 1083.2,414.8 1087.5,403.7 1091.3,392.3 1094.8,380.7 1097.8,368.4 1100.3,355.8 1102.5,343.0 1105.0,330.0 1107.9,315.7 1110.9,301.0 1114.0,286.5 1117.0,272.8 1119.3,261.7 1121.4,251.0 1123.8,241.0 1127.0,232.3 1130.1,226.6 1133.5,221.4 1137.3,217.1 1141.3,214.0 1144.7,212.6 1148.2,211.9 1151.9,211.7 1155.5,212.0 1159.5,212.7 1163.6,214.0 1167.7,215.8 1171.7,218.1 1176.4,222.0 1181.0,226.8 1185.5,232.3 1190.0,237.8 1195.3,244.2 1200.5,251.0 1205.8,258.0 1211.0,265.2 1216.3,272.9 1221.5,281.0 1226.7,289.0 1232.0,296.7 1237.2,303.8 1242.5,310.7 1247.8,317.4 1253.1,324.1 1258.3,330.6 1263.5,337.0 1268.8,343.3 1274.1,349.3 1279.3,354.9 1284.5,360.3 1289.8,365.5 1295.2,370.3 1300.4,374.5 1305.7,378.5 1311.0,382.1 1316.2,385.1 1320.4,387.3 1324.4,389.2 1328.5,390.7 1333.0,391.4 1339.0,391.0 1345.5,389.5 1352.1,387.4 1358.3,385.1 1363.8,382.8 1369.0,380.1 1374.1,377.3 1379.3,374.6 1384.6,371.8 1389.9,368.9 1395.2,366.2 1400.3,364.0 1404.9,362.2 1409.6,360.5 1413.9,359.5 1417.2,359.8 1418.6,361.5 1419.5,364.2 1420.2,366.7 1421.4,368.0 1423.6,367.3 1426.2,365.0 1429.1,362.2 1431.9,359.8 1434.5,358.3 1437.1,356.9 1439.8,355.5 1442.4,353.5 1446.1,348.9 1449.7,342.9 1453.3,337.6 1456.7,335.2 1458.9,336.3 1461.0,339.1 1463.1,342.1 1465.4,343.9 1467.9,343.9 1470.6,343.0 1473.4,342.0 1476.3,341.8 1479.9,343.4 1483.7,346.2 1487.5,348.9 1491.5,350.5 1495.9,350.6 1500.7,349.9 1505.2,348.4 1509.0,346.1 1511.9,342.8 1514.0,338.5 1515.8,333.6 1517.7,328.7 1520.2,322.7 1522.6,316.3 1524.9,309.6 1527.0,302.5 1529.2,293.7 1531.1,284.5 1532.8,274.9 1534.5,265.0 1536.2,253.6 1537.8,241.7 1539.2,229.7 1540.8,217.7 1542.4,205.6 1544.1,193.4 1545.8,181.5 1547.6,170.4 1549.1,161.9 1550.7,153.9 1552.3,146.2 1554.2,138.8 1556.1,132.4 1558.2,126.2 1560.3,120.4 1562.5,115.2 1564.0,111.9 1565.5,108.8 1567.1,106.1 1569.0,104.0 1571.0,102.6 1573.2,101.7 1575.6,101.0 1578.0,100.5 1580.7,100.1 1583.6,99.9 1586.4,100.0 1589.2,100.5 1592.0,101.3 1594.9,102.3 1597.6,103.8 1599.7,105.8 1601.3,109.8 1602.1,115.1 1602.7,119.9 1603.7,122.0 1604.7,121.0 1605.8,118.4 1607.2,115.5 1608.9,113.7 1611.7,113.3 1615.1,113.9 1618.7,115.0 1622.1,116.3 1625.5,117.9 1628.8,119.9 1632.0,122.1 1635.3,124.2 1638.7,126.0 1642.3,127.7 1645.6,129.6 1648.4,132.1 1650.4,135.7 1651.7,140.0 1653.0,144.3 1655.0,147.9 1657.8,150.4 1661.2,152.4 1664.7,154.1 1668.2,155.8 1671.5,157.4 1674.8,158.9 1678.1,160.5 1681.3,162.4 1684.7,165.0 1688.0,168.1 1691.2,171.2 1694.5,174.2 1697.8,176.9 1701.0,179.5 1704.3,182.1 1707.6,184.7 1710.8,187.3 1714.0,189.9 1717.3,192.6 1720.8,195.3 1725.3,198.6 1730.1,202.0 1735.1,205.5 1740.0,209.0 1745.0,212.8 1749.9,216.7 1754.9,220.6 1760.0,224.1 1764.9,227.1 1769.9,229.8 1775.0,232.4 1780.0,235.0 1785.0,237.6 1790.0,240.2 1795.0,242.7 1800.0,245.1 1804.9,247.3 1809.7,249.4 1814.6,251.3 1819.5,252.9 1824.3,254.1 1829.2,255.0 1834.1,255.6 1839.0,255.8 1844.0,255.8 1849.0,255.6 1853.9,254.7 1858.6,252.9 1863.7,248.7 1868.5,242.8 1873.1,236.6 1878.1,231.4 1882.8,227.9 1887.7,225.0 1892.7,222.3 1897.7,219.7 1902.5,217.1 1907.4,214.6 1912.3,212.2 1917.2,209.9 1922.1,207.9 1926.9,206.0 1931.8,204.1 1936.7,202.1 1941.6,199.8 1946.5,197.4 1951.4,194.9 1956.3,192.3 1961.2,189.4 1966.0,186.3 1970.9,183.3 1975.8,180.6 1980.7,178.6 1985.6,176.9 1990.5,175.1 1995.3,172.8 2000.3,169.3 2005.1,165.2 2009.9,161.0 2014.8,157.2 2019.6,153.9 2024.5,150.7 2029.4,147.8 2034.4,145.5 2039.2,144.3 2044.2,143.8 2049.2,143.2 2053.9,141.6 2059.1,137.4 2064.2,131.5 2069.0,126.3 2073.4,124.0 2076.0,124.8 2078.4,126.9 2080.7,129.5 2083.2,131.8 2086.2,133.8 2089.5,135.7 2092.7,137.7 2096.0,139.6" fill="none" stroke="#000000" stroke-width="7.3" stroke-linejoin="round" stroke-linecap="butt"/><polyline points="182.9,1064.0 184.8,1068.1 186.7,1072.3 188.7,1076.3 190.8,1079.8 192.6,1082.1 194.4,1084.2 196.4,1086.1 198.7,1087.7 202.1,1089.4 205.9,1090.8 210.1,1091.8 214.4,1092.5 220.1,1092.7 226.2,1092.3 232.4,1091.6 238.1,1090.9 242.3,1090.3 246.1,1089.7 249.9,1089.0 254.0,1088.4 259.2,1087.8 264.8,1087.4 270.2,1086.8 275.0,1086.2 277.8,1085.6 280.2,1085.0 282.7,1084.4 285.5,1083.7 291.0,1082.8 297.4,1081.8 303.8,1080.7 309.2,1079.0 312.5,1077.5 315.4,1075.8 318.0,1073.7 320.3,1071.0 322.9,1065.4 324.7,1058.3 326.3,1050.5 328.2,1042.6 331.0,1032.5 334.1,1021.5 337.4,1011.2 340.8,1003.2 342.7,1000.1 344.5,997.5 346.5,995.4 348.7,993.7 350.9,992.5 353.3,991.7 355.7,991.3 358.2,991.3 361.0,991.9 363.8,993.1 366.6,994.7 369.2,996.8 372.1,1000.4 374.7,1004.9 377.3,1009.7 380.3,1014.2 383.9,1018.4 387.9,1022.5 392.0,1026.4 396.1,1030.0 400.0,1033.1 403.9,1035.9 407.9,1038.5 411.9,1041.1 415.8,1043.6 419.7,1046.0 423.6,1048.3 427.6,1050.5 431.5,1052.5 435.5,1054.3 439.5,1056.2 443.4,1058.4 447.5,1061.5 451.4,1065.2 455.3,1068.6 459.2,1071.0 462.1,1072.2 465.1,1073.1 467.9,1073.3 470.3,1072.6 473.0,1069.3 475.0,1063.8 476.7,1057.2 478.2,1050.5 480.0,1041.3 481.5,1031.0 482.7,1020.4 484.0,1010.0 485.3,999.9 486.6,989.6 487.8,979.6 489.0,970.0 490.0,962.5 491.0,955.5 492.0,948.3 493.0,940.0 494.5,924.6 496.0,906.8 497.5,888.2 499.0,870.0 500.5,852.4 502.0,834.7 503.5,817.1 505.0,800.0 506.4,784.4 507.8,768.9 509.3,754.0 511.0,740.0 512.6,729.1 514.4,718.6 516.2,708.8 518.0,700.0 519.2,694.4 520.4,689.2 521.6,684.5 523.0,680.0 524.3,676.5 525.6,673.3 527.1,670.2 528.9,667.3 531.0,664.4 533.4,661.6 536.2,659.0 539.4,656.8 544.6,654.5 550.6,652.8 557.4,651.6 564.7,650.4 576.4,649.1 589.5,648.3 603.4,647.8 617.3,647.3 633.5,646.7 650.6,646.2 666.9,646.0 680.4,646.2 686.5,646.5 691.6,646.9 696.4,647.4 701.4,648.3 706.7,649.7 711.9,651.6 717.2,653.4 722.5,654.7 727.7,655.5 733.0,655.9 738.3,656.0 743.5,655.7 748.7,654.8 753.8,653.4 759.0,651.9 764.6,650.4 772.1,648.8 780.2,647.1 788.4,645.6 796.1,644.1 802.1,642.8 807.8,641.4 813.6,640.4 820.0,639.9 830.1,640.1 841.4,641.2 852.5,643.1 862.1,646.2 868.1,649.6 873.3,653.9 878.1,658.5 883.1,663.1 888.3,668.1 893.5,673.4 898.7,678.3 904.2,682.0 909.2,684.0 914.3,685.2 919.6,685.9 925.2,686.2 932.6,685.9 940.6,684.8 948.8,683.4 956.8,682.0 964.7,680.6 972.5,678.9 980.4,677.5 988.3,676.7 996.4,676.5 1004.7,676.8 1012.6,677.8 1019.9,679.9 1025.8,683.0 1031.0,687.0 1036.0,691.6 1040.9,696.7 1046.4,703.2 1051.6,710.5 1056.7,718.3 1062.0,726.2 1068.6,735.2 1075.5,744.5 1082.2,754.4 1088.0,765.0 1093.3,778.5 1097.7,793.3 1101.4,808.4 1104.7,823.1 1107.3,836.5 1109.3,849.9 1111.1,863.0 1113.1,875.7 1115.0,886.6 1117.0,897.1 1119.1,907.4 1121.5,917.8 1124.1,928.8 1126.9,940.1 1130.2,950.8 1134.2,959.9 1137.9,965.9 1142.0,971.4 1146.5,975.8 1151.0,978.8 1154.6,979.9 1158.3,980.1 1162.1,979.7 1165.7,978.8 1169.5,977.2 1173.1,974.8 1176.8,971.8 1180.4,968.3 1185.6,962.3 1190.8,955.0 1196.1,947.0 1201.5,938.8 1208.0,928.7 1214.7,918.0 1221.6,907.1 1228.8,896.8 1236.3,887.3 1244.1,878.0 1252.2,869.2 1260.4,861.0 1268.3,853.9 1276.4,847.3 1284.4,841.1 1292.0,835.7 1297.4,831.9 1302.6,828.5 1307.7,825.5 1313.0,823.1 1318.2,821.4 1323.4,820.1 1328.7,819.3 1334.0,818.9 1339.3,818.8 1344.6,819.2 1349.9,819.9 1355.1,821.0 1360.4,822.6 1365.7,824.7 1370.9,827.0 1376.1,829.4 1381.4,832.1 1386.6,835.2 1391.8,838.0 1397.1,840.0 1401.8,840.6 1406.6,840.5 1411.4,840.4 1416.2,841.1 1422.3,843.5 1428.5,847.0 1434.7,850.9 1440.6,854.7 1445.5,858.4 1450.0,862.5 1454.6,866.1 1459.5,868.2 1464.7,868.2 1470.1,866.8 1475.6,865.0 1481.1,864.1 1486.7,864.0 1492.4,864.3 1497.9,865.2 1502.8,866.8 1506.7,869.0 1510.2,871.8 1513.4,875.1 1516.3,879.0 1519.6,885.4 1522.3,893.0 1524.7,901.1 1527.1,908.8 1529.3,915.5 1531.4,922.0 1533.3,928.7 1535.2,935.8 1537.4,945.2 1539.5,955.2 1541.5,965.6 1543.4,976.4 1545.4,989.6 1547.3,1003.5 1549.2,1017.4 1551.5,1030.5 1553.8,1041.5 1556.2,1052.2 1558.9,1062.2 1562.3,1071.0 1565.2,1076.8 1568.3,1082.1 1571.8,1086.5 1575.8,1090.0 1580.4,1092.1 1585.6,1093.4 1590.7,1094.0 1594.8,1094.0 1596.5,1093.7 1597.9,1093.2 1599.2,1092.6 1600.5,1092.0 1602.5,1077.0 1607.1,1077.5 1611.7,1078.1 1616.4,1078.4 1621.1,1077.6 1627.7,1074.2 1634.5,1068.9 1641.4,1062.9 1648.2,1057.4 1655.1,1052.3 1662.2,1047.2 1669.0,1042.4 1675.2,1038.4 1679.0,1036.0 1682.5,1033.9 1685.7,1032.3 1688.7,1031.7 1690.5,1032.4 1692.0,1033.8 1693.6,1035.1 1695.5,1035.7 1699.9,1034.2 1705.0,1030.8 1710.5,1026.4 1715.8,1022.2 1720.9,1017.9 1725.9,1013.3 1730.9,1008.7 1736.0,1004.6 1741.1,1001.1 1746.4,997.8 1751.5,994.8 1756.3,992.4 1759.3,991.1 1762.1,990.2 1764.9,989.3 1768.2,988.3 1774.4,986.2 1781.5,983.7 1789.0,981.2 1796.3,978.9 1803.4,976.8 1810.6,974.7 1817.7,972.8 1824.5,971.4 1829.9,970.5 1835.2,969.8 1840.3,969.4 1845.2,969.5 1849.6,969.9 1853.8,970.6 1858.0,971.6 1862.1,973.2 1866.7,975.8 1871.2,979.2 1875.8,982.9 1880.8,986.4 1887.4,990.2 1894.5,994.0 1901.8,997.8 1909.0,1001.4 1916.0,1004.8 1923.1,1008.1 1930.1,1011.3 1937.2,1014.6 1944.3,1017.8 1951.4,1020.9 1958.4,1024.2 1965.4,1027.7 1972.5,1031.8 1979.5,1036.2 1986.4,1040.5 1993.5,1044.6 2000.5,1048.0 2007.6,1051.0 2014.7,1054.1 2021.7,1057.7 2029.2,1062.4 2036.7,1067.8 2043.8,1073.1 2049.9,1078.0 2053.1,1081.0 2055.7,1084.0 2058.5,1086.7 2062.0,1089.0 2069.1,1091.5 2077.8,1093.2 2087.0,1094.5 2096.0,1096.0" fill="none" stroke="#000000" stroke-width="7.3" stroke-linejoin="round" stroke-linecap="butt"/><polyline points="181.8,150.9 182.1,142.4 182.3,133.8 182.6,125.3 183.1,117.1 183.6,110.0 184.2,103.0 184.9,96.3 185.8,90.0 186.6,85.1 187.5,80.4 188.5,76.1 189.9,72.5 191.0,70.4 192.2,68.5 193.6,67.0 195.3,65.7 198.0,64.7 201.2,64.3 204.8,64.1 208.8,64.0 216.2,63.8 224.7,63.9 233.8,64.1 242.6,64.2 251.1,64.2 259.7,64.2 268.2,64.2 276.4,64.2 284.0,64.1 291.5,63.9 298.6,64.0 304.6,64.8 307.9,65.8 310.8,67.1 313.4,68.6 315.8,70.4 318.0,72.6 319.9,75.1 321.8,77.9 323.7,80.6 325.9,83.6 328.2,86.8 330.5,90.0 332.7,93.0 334.7,95.6 336.6,98.1 338.6,100.6 340.6,103.1 342.7,105.8 344.9,108.5 347.2,111.1 349.6,113.2 351.8,114.8 354.1,116.2 356.4,117.3 358.7,117.7 360.7,117.4 362.7,116.7 364.6,115.6 366.5,114.4 368.5,113.0 370.3,111.4 372.2,109.5 374.4,107.6 378.3,104.2 382.8,100.4 387.6,96.5 392.5,93.0 397.9,89.8 403.5,87.0 409.3,84.3 415.0,81.7 420.6,79.3 426.3,77.0 431.9,74.9 437.6,72.7 443.4,70.4 449.3,68.0 455.0,65.8 460.1,64.2 463.2,63.4 466.2,62.7 468.9,62.4 471.4,62.5 473.3,63.0 475.1,63.7 476.7,64.7 478.2,66.0 479.6,68.0 480.8,70.5 481.8,73.2 482.7,76.0 483.7,79.3 484.5,82.8 485.3,86.6 486.0,90.7 486.9,97.1 487.8,104.2 488.6,111.6 489.4,118.9 490.2,126.0 491.1,133.1 491.9,140.2 492.8,147.0 493.7,152.9 494.5,158.5 495.4,164.1 496.2,169.6 496.8,174.3 497.3,178.7 497.8,183.6 498.5,190.0 501.1,218.5 504.5,258.4 508.0,299.0 511.0,330.0 512.1,339.6 513.0,347.4 514.0,354.5 515.0,362.0 516.2,370.3 517.4,378.8 518.7,387.1 520.0,395.0 521.2,401.6 522.4,408.0 523.6,414.1 525.0,420.0 526.2,424.9 527.5,429.7 528.9,434.2 530.7,438.3 532.4,441.7 534.2,444.9 536.4,447.7 539.2,450.1 544.2,452.3 550.3,453.5 557.2,454.4 564.5,455.2 575.9,456.4 588.7,457.4 602.1,458.1 615.2,458.6 628.1,459.0 641.2,459.2 654.0,459.2 665.9,458.6 675.0,457.8 683.6,456.7 691.8,455.3 699.7,453.5 706.3,451.1 712.6,448.2 718.7,445.4 725.0,443.4 731.4,442.4 738.0,442.0 744.4,442.1 750.4,442.5 754.8,443.2 758.9,444.3 763.0,445.5 767.3,446.8 772.7,448.5 778.3,450.3 784.2,452.2 790.6,453.7 800.0,455.3 810.5,456.7 821.1,457.6 831.1,457.8 839.3,457.5 847.4,456.9 854.9,455.6 861.5,453.7 865.6,451.8 869.2,449.5 872.5,446.8 875.8,443.6 879.9,438.1 883.6,431.5 887.5,424.8 892.0,419.2 896.6,415.3 901.6,411.9 906.8,409.2 912.3,407.1 918.1,405.6 924.2,404.7 930.4,404.5 936.6,405.0 943.1,406.7 949.6,409.4 956.2,412.5 963.0,415.2 970.5,417.7 978.2,420.3 986.0,422.3 993.4,423.3 999.8,423.3 1006.1,422.6 1012.2,421.3 1017.7,419.2 1022.2,416.5 1026.3,413.2 1030.1,409.3 1034.0,405.0 1039.2,398.3 1044.4,390.6 1049.5,382.5 1054.3,374.6 1058.6,367.3 1062.6,360.0 1066.4,352.9 1070.0,346.0 1072.7,340.7 1075.2,335.7 1077.6,330.6 1080.0,325.0 1083.2,317.0 1086.5,308.4 1089.8,299.3 1093.0,290.0 1096.6,279.2 1100.2,267.8 1103.6,256.4 1106.8,245.0 1109.5,234.0 1112.0,223.0 1114.5,212.2 1117.0,201.8 1119.3,192.7 1121.5,183.8 1124.0,175.3 1127.0,167.4 1130.1,160.9 1133.4,154.7 1137.2,149.3 1141.3,145.0 1145.0,142.5 1149.1,140.6 1153.3,139.4 1157.5,139.0 1161.9,139.4 1166.5,140.6 1171.0,142.6 1175.7,145.0 1182.2,149.2 1188.8,154.6 1195.5,160.8 1202.1,167.4 1209.8,176.0 1217.3,185.5 1224.9,195.3 1232.5,205.0 1240.1,214.5 1247.6,224.0 1255.2,233.4 1263.0,242.4 1270.6,250.7 1278.3,258.9 1286.0,266.4 1293.4,272.8 1298.6,276.6 1303.5,279.8 1308.5,282.6 1313.7,285.0 1319.2,287.2 1324.8,289.2 1330.5,290.7 1336.0,291.5 1340.7,291.6 1345.2,291.1 1349.7,290.2 1354.2,289.0 1359.2,287.1 1364.2,284.6 1369.3,281.8 1374.5,278.9 1380.6,275.4 1386.8,271.5 1393.3,267.7 1400.0,264.0 1407.8,260.1 1416.0,256.3 1424.3,252.9 1432.7,250.2 1440.7,248.4 1448.8,247.1 1457.0,246.3 1465.4,245.9 1475.6,246.1 1486.5,247.0 1496.7,247.9 1504.6,248.0 1507.4,247.8 1509.8,247.5 1511.8,247.0 1513.7,246.0 1515.3,244.5 1516.7,242.7 1517.9,240.5 1519.0,238.0 1520.6,233.7 1521.9,228.8 1523.3,223.3 1524.7,217.7 1526.8,210.3 1529.1,202.3 1531.3,194.1 1533.4,186.0 1535.1,178.2 1536.6,170.3 1538.1,162.4 1539.7,154.6 1541.5,146.7 1543.4,138.8 1545.4,130.9 1547.6,123.0 1549.8,114.8 1552.1,106.4 1554.7,98.5 1557.8,91.5 1560.7,86.8 1563.9,82.5 1567.3,78.8 1571.0,75.8 1574.4,73.9 1577.9,72.6 1581.5,71.7 1585.0,71.0 1587.7,70.6 1590.2,70.4 1592.8,70.3 1595.8,70.5 1601.6,71.1 1608.3,72.2 1615.3,73.6 1622.1,75.5 1628.7,78.0 1635.3,81.0 1641.8,84.3 1648.4,87.4 1655.0,90.3 1661.6,93.2 1668.2,96.1 1674.7,99.2 1681.3,102.7 1687.9,106.4 1694.5,110.1 1701.1,113.7 1707.6,117.1 1714.2,120.5 1720.8,123.7 1727.4,126.8 1733.9,129.6 1740.5,132.2 1747.1,134.8 1753.7,137.4 1760.3,140.0 1766.9,142.6 1773.4,145.3 1780.0,147.9 1786.4,150.6 1792.8,153.3 1799.3,155.9 1806.0,158.5 1814.1,161.6 1822.7,164.9 1831.2,167.6 1839.0,168.9 1844.3,168.9 1849.2,168.3 1853.9,167.0 1858.6,165.0 1864.4,160.8 1869.9,155.1 1875.6,148.9 1882.0,143.5 1890.0,138.5 1898.8,133.9 1908.0,129.7 1917.2,125.9 1926.8,122.6 1936.6,119.8 1946.5,117.1 1956.3,114.2 1966.1,110.9 1975.8,107.5 1985.6,104.0 1995.3,100.5 2005.2,97.0 2015.2,93.4 2025.0,90.0 2034.4,86.9 2041.9,84.5 2049.2,82.3 2056.3,80.4 2063.7,79.1 2071.6,78.5 2079.7,78.6 2087.9,78.9 2096.0,79.1" fill="none" stroke="#00ff00" stroke-width="7.3" stroke-linejoin="round" stroke-linecap="butt"/><polyline points="182.1,1016.7 182.3,1022.6 182.5,1028.6 182.7,1034.5 183.0,1040.0 183.2,1044.4 183.3,1048.5 183.7,1052.5 184.5,1056.2 185.6,1059.3 186.9,1062.3 188.6,1065.0 190.8,1067.2 193.9,1069.1 197.7,1070.3 201.9,1071.2 206.5,1072.0 213.9,1072.6 222.3,1072.7 230.7,1072.6 238.1,1072.7 242.3,1073.1 246.1,1073.5 249.8,1074.0 254.0,1074.2 261.2,1074.2 269.4,1073.8 277.7,1073.2 285.5,1072.6 291.9,1072.2 298.3,1071.9 304.1,1071.1 309.2,1069.5 312.6,1067.4 315.5,1064.9 318.0,1061.8 320.3,1058.4 322.7,1053.2 324.6,1047.1 326.3,1040.7 328.2,1034.7 330.0,1029.3 331.9,1023.9 333.8,1018.7 336.1,1014.2 338.2,1010.9 340.4,1007.9 342.8,1005.3 345.5,1003.2 348.5,1001.7 351.7,1000.6 355.0,1000.0 358.2,1000.0 361.1,1000.8 363.9,1002.2 366.6,1004.1 369.2,1006.3 372.1,1010.0 374.7,1014.6 377.3,1019.3 380.3,1023.7 383.9,1027.6 387.8,1031.3 392.0,1034.7 396.1,1037.9 400.0,1040.5 403.9,1042.9 407.9,1045.1 411.9,1047.4 415.8,1049.8 419.8,1052.1 423.7,1054.4 427.6,1056.8 431.6,1059.1 435.5,1061.5 439.5,1063.8 443.4,1066.3 447.4,1069.2 451.4,1072.4 455.4,1075.3 459.2,1077.4 462.1,1078.5 465.0,1079.3 467.8,1079.6 470.3,1079.0 472.7,1077.2 474.8,1074.2 476.6,1070.5 478.2,1066.3 480.5,1056.7 482.1,1044.6 483.3,1031.6 484.5,1019.0 485.7,1007.2 486.8,995.3 487.9,983.5 489.2,971.6 490.8,959.9 492.6,948.2 494.4,936.4 496.0,924.0 497.6,908.6 499.1,892.5 500.5,876.1 502.0,860.0 503.5,844.9 505.0,829.9 506.5,815.0 508.0,800.0 509.5,784.5 511.0,768.8 512.4,753.6 513.6,740.0 514.3,731.7 514.9,724.3 515.6,717.1 516.3,709.4 517.3,699.7 518.4,689.4 519.6,679.2 521.0,670.0 522.2,663.6 523.4,657.7 524.9,652.0 526.8,646.2 529.2,639.4 531.8,632.4 535.1,626.0 539.4,621.0 544.6,618.1 550.6,616.6 557.4,615.7 564.7,614.7 576.4,613.2 589.5,612.0 603.4,611.1 617.3,610.5 633.5,609.9 650.6,609.6 666.9,609.7 680.4,610.5 686.5,611.2 691.7,612.1 696.5,613.2 701.4,614.7 706.7,617.1 711.9,620.1 717.2,623.0 722.5,625.2 727.7,626.4 732.9,627.1 738.2,627.4 743.5,627.3 748.7,626.8 753.8,625.8 759.1,624.6 764.6,623.1 772.2,620.7 780.2,617.8 788.4,614.9 796.1,612.6 802.2,611.1 808.0,609.8 813.8,608.8 820.0,608.4 827.8,608.5 836.0,609.2 844.2,610.6 851.6,612.6 857.5,614.9 862.9,617.8 868.0,621.1 872.6,625.2 876.8,630.8 880.3,637.4 883.6,644.2 887.3,650.4 891.2,655.8 895.2,661.0 899.5,665.6 904.2,669.4 909.1,672.0 914.4,673.9 919.8,675.1 925.2,675.7 930.5,675.5 935.7,674.6 941.0,673.2 946.2,671.5 951.4,669.1 956.5,666.1 961.6,663.2 967.3,661.0 974.8,659.4 983.0,658.5 991.3,658.3 998.8,658.9 1004.5,660.1 1009.8,661.9 1014.9,664.3 1019.9,667.3 1025.4,671.5 1030.8,676.6 1035.9,682.2 1040.9,688.3 1046.5,695.9 1051.8,704.3 1057.0,713.1 1062.0,722.0 1067.1,731.0 1072.0,740.1 1076.6,749.6 1081.0,760.0 1086.0,774.7 1090.5,790.8 1094.6,807.3 1098.4,823.1 1101.4,836.5 1104.1,849.7 1106.5,862.6 1108.9,875.7 1111.0,888.9 1112.9,902.2 1114.9,915.3 1117.3,928.3 1120.0,941.0 1122.9,953.9 1126.1,966.0 1130.0,976.7 1133.2,983.7 1136.6,990.0 1140.4,995.6 1144.7,999.9 1148.6,1002.6 1152.8,1004.6 1157.1,1005.8 1161.5,1006.2 1166.1,1005.4 1170.8,1003.5 1175.6,1000.9 1180.4,997.7 1187.1,992.3 1194.0,985.7 1200.9,978.2 1207.8,970.4 1215.7,960.7 1223.6,950.0 1231.5,939.1 1239.4,928.3 1247.2,917.5 1254.9,906.6 1262.8,896.0 1270.9,886.2 1278.5,877.9 1286.3,870.1 1294.3,863.0 1302.5,856.8 1310.3,852.0 1318.4,847.7 1326.4,844.4 1334.0,842.1 1339.5,841.2 1344.8,840.9 1350.0,841.2 1355.1,842.1 1360.5,843.9 1365.7,846.5 1370.9,849.5 1376.1,852.6 1381.3,856.1 1386.4,859.8 1391.5,863.7 1397.1,867.3 1404.1,871.1 1411.7,874.8 1419.4,878.4 1427.0,881.7 1433.8,884.9 1440.5,888.1 1447.3,890.8 1454.1,892.5 1460.8,892.5 1467.6,891.3 1474.4,890.0 1481.1,889.8 1488.2,890.7 1495.4,892.2 1502.2,894.5 1508.2,897.9 1513.2,902.7 1517.4,908.5 1521.1,915.2 1524.4,922.3 1527.8,931.3 1530.5,941.2 1532.9,951.7 1535.2,962.9 1538.1,978.9 1540.6,996.5 1543.2,1014.1 1546.0,1030.0 1548.4,1041.1 1550.9,1051.6 1553.5,1061.3 1556.5,1070.0 1558.8,1075.8 1561.2,1081.1 1563.9,1085.9 1567.0,1090.0 1570.0,1093.1 1573.3,1095.8 1576.8,1097.9 1580.6,1099.3 1585.3,1099.7 1590.4,1099.1 1595.7,1098.0 1600.8,1096.6 1605.9,1095.0 1610.8,1093.0 1615.9,1090.8 1621.1,1088.4 1627.6,1085.4 1634.5,1082.1 1641.4,1078.5 1648.2,1074.9 1655.0,1071.0 1661.7,1066.9 1668.4,1062.7 1675.2,1058.7 1682.0,1054.9 1688.7,1051.2 1695.5,1047.5 1702.3,1043.8 1709.1,1040.1 1715.8,1036.4 1722.6,1032.7 1729.3,1029.0 1736.3,1025.1 1743.5,1021.0 1750.3,1017.2 1756.3,1014.1 1759.5,1012.6 1762.2,1011.3 1765.0,1010.2 1768.2,1008.9 1774.4,1006.6 1781.5,1004.2 1789.0,1001.8 1796.3,999.5 1803.4,997.4 1810.6,995.3 1817.7,993.4 1824.5,992.0 1829.9,991.0 1835.2,990.3 1840.3,989.9 1845.2,990.1 1849.6,990.9 1853.8,992.2 1858.0,993.8 1862.1,995.8 1866.7,998.6 1871.2,1001.9 1875.8,1005.5 1880.8,1008.9 1887.4,1012.7 1894.5,1016.5 1901.8,1020.3 1909.0,1023.9 1916.0,1027.3 1923.1,1030.6 1930.1,1033.8 1937.2,1037.1 1944.3,1040.4 1951.3,1043.6 1958.4,1046.9 1965.4,1050.2 1972.4,1053.5 1979.5,1056.8 1986.5,1060.1 1993.5,1063.4 2000.5,1066.7 2007.6,1070.0 2014.6,1073.2 2021.7,1076.5 2028.5,1080.0 2035.3,1083.6 2042.2,1087.0 2049.9,1089.7 2060.5,1091.9 2072.1,1093.1 2084.2,1094.0 2096.0,1095.0" fill="none" stroke="#00ff00" stroke-width="7.3" stroke-linejoin="round" stroke-linecap="butt"/><path d="M2061,954 L2061,1142 M2078,1016 L2078,1142 M2071,1039 L2071,1088 M2090,958 L2090,1050" stroke="rgba(255,0,0,0.25)" stroke-width="2" fill="none"/><path d="M2090.5,1050 L2090.5,1142 M2062,1075 L2062,1095 M2074,1078 L2074,1092" stroke="#ff0000" stroke-width="2.5" fill="none"/></g><g stroke="#c4c4c4" stroke-width="3" stroke-dasharray="3 11.8" fill="none"><line x1="312.4" y1="39.5" x2="312.4" y2="1107.5"/><line x1="758.0" y1="39.5" x2="758.0" y2="1107.5"/><line x1="1203.6" y1="39.5" x2="1203.6" y2="1107.5"/><line x1="1649.2" y1="39.5" x2="1649.2" y2="1107.5"/><line x1="218.5" y1="923.9" x2="2055.0" y2="923.9"/><line x1="218.5" y1="702.3" x2="2055.0" y2="702.3"/><line x1="218.5" y1="480.7" x2="2055.0" y2="480.7"/><line x1="218.5" y1="259.1" x2="2055.0" y2="259.1"/></g><rect x="179.5" y="37.5" width="1914.5" height="1108.0" fill="none" stroke="#000" stroke-width="3"/><g stroke="#000" stroke-width="3.4" stroke-dasharray="10 3.4 13 3.4 8" fill="none"><line x1="312.4" y1="1144.0" x2="312.4" y2="1108.0"/><line x1="758.0" y1="1144.0" x2="758.0" y2="1108.0"/><line x1="1203.6" y1="1144.0" x2="1203.6" y2="1108.0"/><line x1="1649.2" y1="1144.0" x2="1649.2" y2="1108.0"/><line x1="181.0" y1="923.9" x2="217.0" y2="923.9"/><line x1="181.0" y1="702.3" x2="217.0" y2="702.3"/><line x1="181.0" y1="480.7" x2="217.0" y2="480.7"/><line x1="181.0" y1="259.1" x2="217.0" y2="259.1"/></g><g stroke="#000" stroke-width="3.4" fill="none"><line x1="2092.5" y1="923.9" x2="2056.5" y2="923.9"/><line x1="2092.5" y1="702.3" x2="2056.5" y2="702.3"/><line x1="2092.5" y1="480.7" x2="2056.5" y2="480.7"/><line x1="2092.5" y1="259.1" x2="2056.5" y2="259.1"/></g><g font-family="'Liberation Sans', Arial, sans-serif" font-size="44.5" fill="#000"><text x="159" y="52.0" text-anchor="end" letter-spacing="1.5">1.0</text><text x="159" y="273.6" text-anchor="end" letter-spacing="1.5">0.8</text><text x="159" y="495.2" text-anchor="end" letter-spacing="1.5">0.6</text><text x="159" y="716.8" text-anchor="end" letter-spacing="1.5">0.4</text><text x="159" y="938.4" text-anchor="end" letter-spacing="1.5">0.2</text><text x="159" y="1160.0" text-anchor="end" letter-spacing="1.5">0.0</text><text x="2116.5" y="52.0" text-anchor="start" letter-spacing="1.5">0</text><text x="2116.5" y="273.6" text-anchor="start" letter-spacing="1.5">0.2</text><text x="2116.5" y="495.2" text-anchor="start" letter-spacing="1.5">0.4</text><text x="2116.5" y="716.8" text-anchor="start" letter-spacing="1.5">0.6</text><text x="2116.5" y="938.4" text-anchor="start" letter-spacing="1.5">0.8</text><text x="2116.5" y="1160.0" text-anchor="start" letter-spacing="1.5">1</text><text x="312.9" y="1222.5" text-anchor="middle" letter-spacing="1">500</text><text x="758.5" y="1222.5" text-anchor="middle" letter-spacing="1">1000</text><text x="1204.1" y="1222.5" text-anchor="middle" letter-spacing="1">1500</text><text x="1649.7" y="1222.5" text-anchor="middle" letter-spacing="1">2000</text><text x="2095.3" y="1222.5" text-anchor="middle" letter-spacing="1">2500</text><text x="1135.5" y="1306" text-anchor="middle">Wavelength [nm]</text><text transform="translate(55,589) rotate(-90)" text-anchor="middle">Reflectance</text><text transform="translate(2261,592) rotate(-90)" text-anchor="middle">Transmittance</text></g><g><line x1="1653" y1="439.6" x2="1770.5" y2="439.6" stroke="#ff0000" stroke-width="9.8"/><text x="1819" y="450.6" font-family="'Liberation Sans', Arial, sans-serif" font-size="44.5" font-style="italic" letter-spacing="4.5">Pinus</text><text x="1957.5" y="450.6" font-family="'Liberation Sans', Arial, sans-serif" font-size="44.5" letter-spacing="1">sp.</text><line x1="1653" y1="510" x2="1770.5" y2="510" stroke="#0000ff" stroke-width="9.8"/><text x="1819" y="521.0" font-family="'Liberation Sans', Arial, sans-serif" font-size="44.5" font-style="italic" letter-spacing="4.5">Picea</text><text x="1957.5" y="521.0" font-family="'Liberation Sans', Arial, sans-serif" font-size="44.5" letter-spacing="1">sp.</text><line x1="1653" y1="580" x2="1770.5" y2="580" stroke="#000000" stroke-width="9.8"/><text x="1819" y="591.0" font-family="'Liberation Sans', Arial, sans-serif" font-size="44.5" font-style="italic" letter-spacing="4.5">Larix</text><text x="1942" y="591.0" font-family="'Liberation Sans', Arial, sans-serif" font-size="44.5" letter-spacing="1">sp.</text><line x1="1653" y1="650.5" x2="1770.5" y2="650.5" stroke="#00ff00" stroke-width="9.8"/><text x="1819" y="661.5" font-family="'Liberation Sans', Arial, sans-serif" font-size="44.5" font-style="italic" letter-spacing="4.5">Abies</text><text x="1958.5" y="661.5" font-family="'Liberation Sans', Arial, sans-serif" font-size="44.5" letter-spacing="1">sp.</text></g></svg></body></html>
